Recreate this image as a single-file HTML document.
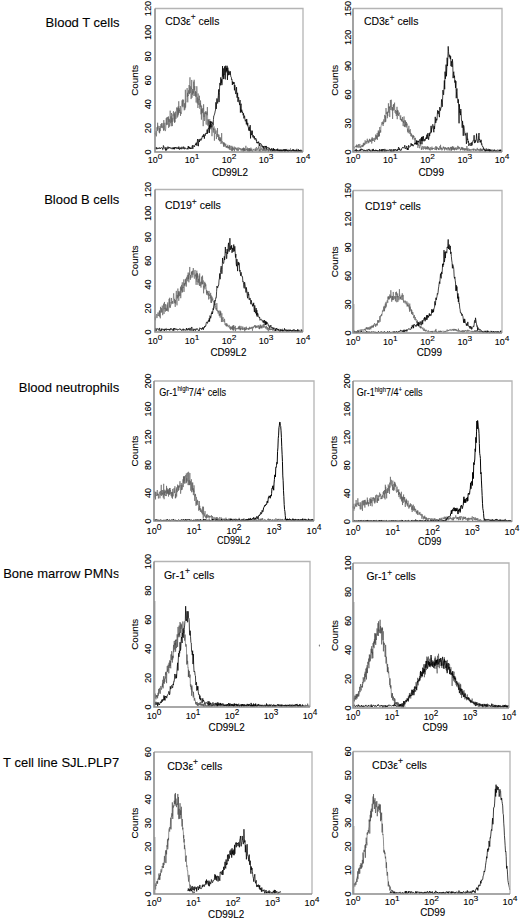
<!DOCTYPE html><html><head><meta charset="utf-8"><style>html,body{margin:0;padding:0;background:#fff;width:520px;height:919px;overflow:hidden}svg{display:block}text{font-family:"Liberation Sans", sans-serif}.t{stroke:#000;stroke-width:0.1px;paint-order:stroke}</style></head><body>
<svg width="520" height="919" viewBox="0 0 520 919">
<rect width="520" height="919" fill="#fff"/>
<defs><clipPath id="lc"><rect x="0" y="0" width="118.5" height="919"/></clipPath></defs>
<g fill="#1a1a1a" font-size="13">
<text x="45.60" y="26.60" font-size="13" text-anchor="start" fill="#000" class="t">Blood T cells</text>
<text x="44.20" y="203.80" font-size="13" text-anchor="start" fill="#000" class="t">Blood B cells</text>
<text x="18.80" y="391.60" font-size="13" text-anchor="start" fill="#000" class="t">Blood neutrophils</text>
<g clip-path="url(#lc)"><text x="3.20" y="577.80" font-size="13" text-anchor="start" fill="#000" class="t">Bone marrow PMNs</text></g>
<text x="3.10" y="766.60" font-size="13" text-anchor="start" fill="#000" class="t">T cell line SJL.PLP7</text>
<ellipse cx="319.4" cy="645.6" rx="0.6" ry="1.1" fill="#777"/>
</g>
<path d="M155.00,134.07 L155.22,133.11 L155.44,135.31 L155.66,133.40 L155.88,131.11 L156.10,133.68 L156.32,136.42 L156.54,135.01 L156.76,129.37 L156.98,127.22 L157.20,129.02 L157.42,130.93 L157.64,122.76 L157.86,129.53 L158.08,125.81 L158.30,127.30 L158.52,127.70 L158.74,128.26 L158.96,130.56 L159.18,132.54 L159.40,128.29 L159.62,133.31 L159.84,126.02 L160.06,129.38 L160.28,131.14 L160.50,128.08 L160.72,124.91 L160.94,124.06 L161.16,125.51 L161.38,127.75 L161.60,123.11 L161.82,125.80 L162.04,125.79 L162.26,128.15 L162.48,126.76 L162.70,127.09 L162.92,123.17 L163.14,124.92 L163.36,128.13 L163.58,130.61 L163.80,120.14 L164.02,130.36 L164.24,129.57 L164.46,127.27 L164.68,125.14 L164.90,122.77 L165.12,129.34 L165.34,131.11 L165.56,130.34 L165.78,128.31 L166.00,124.45 L166.22,118.21 L166.44,122.69 L166.66,125.09 L166.88,117.32 L167.10,123.72 L167.32,123.69 L167.54,124.56 L167.76,116.96 L167.98,118.84 L168.20,119.55 L168.42,116.44 L168.64,127.88 L168.86,118.76 L169.08,121.89 L169.30,119.35 L169.52,126.62 L169.74,125.39 L169.96,122.42 L170.18,110.67 L170.40,119.69 L170.62,122.09 L170.84,123.22 L171.06,116.34 L171.28,126.23 L171.50,113.00 L171.72,115.53 L171.94,121.99 L172.16,118.08 L172.38,126.09 L172.60,118.27 L172.82,114.60 L173.04,115.47 L173.26,112.23 L173.48,111.22 L173.70,119.15 L173.92,118.75 L174.14,121.62 L174.36,112.60 L174.58,122.95 L174.80,114.20 L175.02,122.08 L175.24,113.16 L175.46,111.63 L175.68,115.73 L175.90,118.96 L176.12,114.94 L176.34,111.44 L176.56,107.89 L176.78,107.40 L177.00,115.65 L177.22,117.62 L177.44,112.26 L177.66,107.95 L177.88,116.47 L178.10,106.52 L178.32,108.81 L178.54,114.60 L178.76,101.25 L178.98,112.99 L179.20,108.27 L179.42,111.16 L179.64,110.02 L179.86,111.02 L180.08,113.02 L180.30,105.97 L180.52,115.88 L180.74,112.35 L180.96,112.63 L181.18,113.87 L181.40,111.81 L181.62,111.81 L181.84,107.87 L182.06,100.38 L182.28,106.27 L182.50,102.91 L182.72,99.42 L182.94,107.23 L183.16,102.86 L183.38,100.24 L183.60,99.78 L183.82,105.85 L184.04,105.91 L184.26,110.32 L184.48,103.29 L184.70,108.18 L184.92,109.61 L185.14,107.97 L185.36,89.76 L185.58,107.58 L185.80,102.63 L186.02,102.62 L186.24,101.90 L186.46,101.50 L186.68,100.70 L186.90,96.68 L187.12,88.08 L187.34,97.00 L187.56,92.82 L187.78,102.32 L188.00,94.51 L188.22,95.97 L188.44,90.39 L188.66,91.62 L188.88,93.72 L189.10,85.03 L189.32,94.19 L189.54,91.32 L189.76,84.69 L189.98,77.30 L190.20,93.06 L190.42,88.04 L190.64,86.33 L190.86,87.67 L191.08,99.08 L191.30,88.30 L191.52,88.96 L191.74,79.93 L191.96,97.78 L192.18,93.67 L192.40,94.62 L192.62,88.97 L192.84,94.08 L193.06,91.20 L193.28,92.80 L193.50,88.73 L193.72,81.59 L193.94,96.00 L194.16,79.77 L194.38,89.68 L194.60,90.33 L194.82,86.17 L195.04,95.82 L195.26,91.85 L195.48,91.07 L195.70,96.80 L195.92,91.90 L196.14,102.49 L196.36,97.41 L196.58,93.52 L196.80,86.25 L197.02,90.23 L197.24,103.44 L197.46,98.03 L197.68,97.41 L197.90,107.99 L198.12,93.48 L198.34,97.69 L198.56,98.88 L198.78,104.86 L199.00,99.16 L199.22,100.04 L199.44,95.73 L199.66,107.92 L199.88,108.87 L200.10,103.19 L200.32,106.89 L200.54,100.45 L200.76,104.98 L200.98,114.33 L201.20,108.93 L201.42,119.65 L201.64,105.56 L201.86,112.41 L202.08,109.25 L202.30,113.20 L202.52,111.01 L202.74,108.92 L202.96,107.99 L203.18,126.18 L203.40,112.45 L203.62,104.25 L203.84,110.80 L204.06,117.10 L204.28,112.35 L204.50,120.90 L204.72,119.73 L204.94,115.13 L205.16,114.16 L205.38,112.27 L205.60,113.95 L205.82,111.06 L206.04,122.70 L206.26,124.64 L206.48,113.11 L206.70,113.79 L206.92,111.75 L207.14,115.43 L207.36,107.07 L207.58,115.44 L207.80,125.65 L208.02,119.39 L208.24,124.54 L208.46,119.56 L208.68,128.80 L208.90,123.02 L209.12,121.15 L209.34,132.90 L209.56,122.19 L209.78,119.19 L210.00,125.02 L210.22,124.52 L210.44,129.05 L210.66,122.08 L210.88,128.85 L211.10,129.42 L211.32,124.30 L211.54,127.70 L211.76,124.55 L211.98,136.18 L212.20,125.79 L212.42,127.05 L212.64,125.30 L212.86,128.14 L213.08,129.66 L213.30,132.61 L213.52,128.32 L213.74,130.09 L213.96,126.38 L214.18,128.68 L214.40,140.68 L214.62,135.43 L214.84,129.92 L215.06,128.53 L215.28,130.04 L215.50,133.38 L215.72,133.89 L215.94,131.85 L216.16,130.56 L216.38,139.06 L216.60,136.46 L216.82,134.34 L217.04,135.12 L217.26,134.55 L217.48,128.00 L217.70,137.04 L217.92,134.03 L218.14,134.56 L218.36,135.90 L218.58,139.96 L218.80,135.14 L219.02,134.78 L219.24,140.59 L219.46,141.17 L219.68,137.04 L219.90,141.23 L220.12,139.35 L220.34,141.10 L220.56,137.51 L220.78,142.90 L221.00,144.02 L221.22,142.89 L221.44,142.93 L221.66,133.08 L221.88,142.71 L222.10,142.30 L222.32,142.28 L222.54,141.46 L222.76,143.22 L222.98,144.24 L223.20,143.03 L223.42,142.85 L223.64,146.61 L223.86,142.01 L224.08,146.57 L224.30,145.03 L224.52,143.28 L224.74,144.48 L224.96,143.44 L225.18,146.67 L225.40,146.21 L225.62,144.68 L225.84,143.85 L226.06,146.59 L226.28,147.93 L226.50,146.17 L226.72,147.27 L226.94,146.05 L227.16,146.97 L227.38,146.52 L227.60,147.64 L227.82,144.80 L228.04,148.42 L228.26,147.10 L228.48,148.11 L228.70,147.06 L228.92,148.15 L229.14,146.00 L229.36,149.59 L229.58,145.10 L229.80,146.18 L230.02,148.20 L230.24,150.13 L230.46,148.34 L230.68,147.57 L230.90,145.81 L231.12,147.73 L231.34,148.03 L231.56,150.64 L231.78,149.06 L232.00,145.88 L232.22,151.22 L232.44,147.65 L232.66,146.98 L232.88,150.48 L233.10,148.28 L233.32,147.85 L233.54,148.74 L233.76,149.68 L233.98,149.93 L234.20,146.56 L234.42,151.42 L234.64,149.95 L234.86,148.11 L235.08,147.53 L235.30,147.36 L235.52,148.93 L235.74,147.89 L235.96,147.77 L236.18,149.98 L236.40,149.40 L236.62,148.40 L236.84,149.97 L237.06,150.85 L237.28,147.58 L237.50,148.28 L237.72,150.37 L237.94,150.10 L238.16,149.49 L238.38,150.75 L238.60,147.85 L238.82,147.39 L239.04,148.23 L239.26,149.53 L239.48,148.39 L239.70,148.81 L239.92,148.22 L240.14,148.69 L240.36,148.22 L240.58,149.95 L240.80,150.49 L241.02,148.90 L241.24,149.24 L241.46,148.77 L241.68,150.16 L241.90,149.61 L242.12,151.49 L242.34,148.13 L242.56,149.95 L242.78,150.06 L243.00,149.05 L243.22,150.23 L243.44,147.70 L243.66,151.70 L243.88,147.82 L244.10,150.65 L244.32,148.10 L244.54,150.94 L244.76,149.02 L244.98,149.70 L245.20,149.57 L245.42,150.88 L245.64,149.10 L245.86,145.79 L246.08,148.55 L246.30,149.73 L246.52,148.95 L246.74,150.46 L246.96,150.77 L247.18,149.32 L247.40,147.64 L247.62,151.23 L247.84,150.85 L248.06,149.13 L248.28,151.70 L248.50,149.06 L248.72,148.08 L248.94,149.30 L249.16,150.85 L249.38,148.33 L249.60,151.70 L249.82,148.38 L250.04,150.69 L250.26,150.18 L250.48,149.31 L250.70,150.85 L250.92,147.62 L251.14,151.20 L251.36,149.42 L251.58,148.82 L251.80,150.44 L252.02,150.83 L252.24,150.46 L252.46,151.70 L252.68,150.85 L252.90,151.11 L253.12,148.82 L253.34,149.63 L253.56,150.20 L253.78,149.48 L254.00,149.88 L254.22,150.03 L254.44,150.56 L254.66,149.37 L254.88,149.06 L255.10,148.46 L255.32,148.38 L255.54,150.97 L255.76,149.39 L255.98,150.48 L256.20,147.88 L256.42,147.08 L256.64,148.19 L256.86,150.93 L257.08,150.84 L257.30,149.92 L257.52,148.50 L257.74,149.34 L257.96,149.13 L258.18,149.07 L258.40,146.36 L258.62,148.43 L258.84,149.26 L259.06,151.40 L259.28,149.70 L259.50,151.25 L259.72,149.01 L259.94,149.18 L260.16,144.62 L260.38,150.08 L260.60,150.18 L260.82,151.70 L261.04,148.89 L261.26,149.62 L261.48,148.62 L261.70,148.04 L261.92,148.63 L262.14,149.09 L262.36,151.22 L262.58,149.55 L262.80,148.58 L263.02,149.75 L263.24,149.86 L263.46,148.78 L263.68,151.03 L263.90,147.34 L264.12,149.40 L264.34,150.49 L264.56,148.08 L264.78,150.15 L265.00,151.29 L265.22,150.29 L265.44,147.74 L265.66,148.91 L265.88,151.26 L266.10,150.17 L266.32,149.82 L266.54,150.37 L266.76,150.71 L266.98,149.05 L267.20,149.56 L267.42,150.08 L267.64,149.30 L267.86,149.80 L268.08,151.46 L268.30,148.87 L268.52,151.70 L268.74,151.70 L268.96,148.09 L269.18,149.89 L269.40,150.46 L269.62,149.23 L269.84,149.27 L270.06,149.85 L270.28,150.96 L270.50,149.59 L270.72,151.70 L270.94,150.51 L271.16,150.09 L271.38,151.70 L271.60,150.92 L271.82,150.66 L272.04,149.91 L272.26,151.70 L272.48,151.18 L272.70,150.11 L272.92,148.66 L273.14,150.75 L273.36,149.16 L273.58,148.58 L273.80,150.11 L274.02,150.72 L274.24,151.70 L274.46,150.75 L274.68,151.30 L274.90,149.21 L275.12,150.47 L275.34,150.63 L275.56,151.39 L275.78,150.63 L276.00,151.34 L276.22,150.01 L276.44,150.89 L276.66,150.95 L276.88,149.26 L277.10,150.72 L277.32,150.21 L277.54,148.61 L277.76,151.52 L277.98,150.19 L278.20,149.69 L278.42,150.18 L278.64,150.71 L278.86,151.70 L279.08,150.41 L279.30,151.05 L279.52,151.70 L279.74,151.12 L279.96,151.67 L280.18,150.11 L280.40,151.37 L280.62,150.54 L280.84,151.68 L281.06,149.60 L281.28,149.83 L281.50,151.70 L281.72,150.42 L281.94,150.27 L282.16,150.71 L282.38,149.94 L282.60,151.70 L282.82,149.40 L283.04,150.49 L283.26,150.99 L283.48,150.55 L283.70,149.86 L283.92,149.80 L284.14,151.08 L284.36,149.65 L284.58,151.31 L284.80,149.17 L285.02,150.13 L285.24,150.72 L285.46,149.46 L285.68,151.33 L285.90,150.68 L286.12,149.68 L286.34,149.22 L286.56,149.18 L286.78,150.76 L287.00,149.59 L287.22,149.39 L287.44,150.50 L287.66,151.70 L287.88,151.00 L288.10,151.47 L288.32,150.94 L288.54,151.50 L288.76,149.45 L288.98,150.33 L289.20,151.01 L289.42,150.74 L289.64,150.58 L289.86,150.12 L290.08,150.52 L290.30,150.03 L290.52,148.45 L290.74,149.64 L290.96,151.24 L291.18,151.70 L291.40,151.70 L291.62,150.89 L291.84,151.65 L292.06,151.67 L292.28,150.15 L292.50,149.20 L292.72,150.85 L292.94,149.15 L293.16,150.52 L293.38,151.40 L293.60,149.49 L293.82,150.87 L294.04,151.70 L294.26,151.18 L294.48,151.34 L294.70,151.70 L294.92,151.70 L295.14,151.00 L295.36,151.70 L295.58,150.81 L295.80,150.36 L296.02,151.17 L296.24,150.31 L296.46,150.35 L296.68,150.32 L296.90,148.76 L297.12,150.99 L297.34,149.73 L297.56,150.80 L297.78,151.70 L298.00,150.43 L298.22,150.41 L298.44,151.70 L298.66,151.43 L298.88,151.70 L299.10,150.60 L299.32,151.62 L299.54,150.31 L299.76,150.32 L299.98,151.49 L300.20,150.40 L300.42,151.65 L300.64,151.70 L300.86,149.43 L301.08,150.28 L301.30,151.70 L301.52,150.84 L301.74,151.70 L301.96,150.07 L302.18,151.28 L302.40,150.85 L302.62,151.12 L302.84,151.29" fill="none" stroke="#5a5a5a" stroke-width="0.6" stroke-linejoin="round"/>
<path d="M155.00,148.65 L155.35,149.14 L155.70,148.64 L156.05,146.97 L156.40,149.22 L156.75,148.76 L157.10,147.75 L157.45,148.89 L157.80,148.67 L158.15,148.60 L158.50,148.33 L158.85,148.86 L159.20,147.55 L159.55,148.13 L159.90,147.81 L160.25,148.91 L160.60,148.34 L160.95,148.00 L161.30,147.50 L161.65,148.04 L162.00,148.31 L162.35,148.02 L162.70,149.62 L163.05,149.33 L163.40,145.53 L163.75,146.37 L164.10,148.12 L164.45,147.87 L164.80,148.52 L165.15,148.52 L165.50,150.46 L165.85,147.17 L166.20,147.91 L166.55,150.38 L166.90,148.96 L167.25,148.98 L167.60,147.78 L167.95,146.62 L168.30,148.47 L168.65,148.41 L169.00,147.05 L169.35,147.60 L169.70,148.23 L170.05,147.34 L170.40,148.20 L170.75,148.40 L171.10,148.34 L171.45,147.78 L171.80,148.91 L172.15,149.21 L172.50,148.63 L172.85,147.47 L173.20,149.05 L173.55,147.79 L173.90,149.20 L174.25,147.21 L174.60,149.23 L174.95,148.28 L175.30,147.03 L175.65,147.98 L176.00,148.36 L176.35,148.58 L176.70,147.30 L177.05,147.17 L177.40,148.50 L177.75,147.82 L178.10,148.54 L178.45,149.07 L178.80,146.62 L179.15,148.56 L179.50,149.55 L179.85,148.00 L180.20,147.47 L180.55,149.07 L180.90,148.56 L181.25,149.21 L181.60,147.95 L181.95,146.79 L182.30,148.19 L182.65,147.85 L183.00,149.09 L183.35,148.50 L183.70,146.64 L184.05,147.08 L184.40,149.20 L184.75,148.99 L185.10,147.65 L185.45,148.30 L185.80,148.75 L186.15,148.78 L186.50,149.19 L186.85,148.56 L187.20,148.20 L187.55,148.04 L187.90,149.38 L188.25,146.00 L188.60,148.16 L188.95,148.33 L189.30,146.84 L189.65,148.63 L190.00,147.57 L190.35,149.01 L190.70,147.81 L191.05,148.48 L191.40,148.92 L191.75,147.83 L192.10,146.22 L192.45,145.28 L192.80,148.93 L193.15,146.54 L193.50,145.62 L193.85,146.37 L194.20,145.66 L194.55,146.71 L194.90,145.35 L195.25,145.02 L195.60,143.71 L195.95,145.06 L196.30,142.62 L196.65,144.77 L197.00,145.75 L197.35,140.84 L197.70,139.00 L198.05,143.42 L198.40,146.16 L198.75,140.13 L199.10,139.34 L199.45,142.03 L199.80,139.27 L200.15,139.48 L200.50,139.39 L200.85,140.58 L201.20,138.54 L201.55,139.39 L201.90,138.16 L202.25,136.51 L202.60,137.09 L202.95,135.48 L203.30,136.93 L203.65,134.30 L204.00,133.94 L204.35,138.67 L204.70,135.22 L205.05,134.80 L205.40,135.54 L205.75,133.12 L206.10,133.06 L206.45,134.02 L206.80,133.25 L207.15,129.59 L207.50,133.58 L207.85,129.91 L208.20,128.35 L208.55,128.18 L208.90,128.75 L209.25,132.83 L209.60,125.26 L209.95,127.70 L210.30,121.11 L210.65,125.67 L211.00,127.18 L211.35,123.41 L211.70,121.53 L212.05,123.02 L212.40,123.49 L212.75,122.60 L213.10,125.44 L213.45,119.45 L213.80,115.79 L214.15,115.58 L214.50,114.11 L214.85,113.04 L215.20,110.97 L215.55,110.00 L215.90,102.29 L216.25,108.91 L216.60,102.41 L216.95,98.43 L217.30,102.87 L217.65,103.45 L218.00,98.59 L218.35,95.46 L218.70,89.39 L219.05,102.12 L219.40,92.67 L219.75,83.11 L220.10,83.13 L220.45,85.34 L220.80,77.39 L221.15,83.19 L221.50,79.35 L221.85,85.16 L222.20,82.85 L222.55,66.02 L222.90,76.60 L223.25,68.33 L223.60,79.09 L223.95,73.93 L224.30,74.56 L224.65,66.42 L225.00,78.63 L225.35,79.33 L225.70,65.72 L226.05,72.36 L226.40,67.94 L226.75,71.06 L227.10,65.79 L227.45,79.91 L227.80,67.67 L228.15,71.08 L228.50,75.17 L228.85,70.78 L229.20,73.24 L229.55,72.50 L229.90,75.03 L230.25,71.24 L230.60,75.09 L230.95,76.85 L231.30,77.25 L231.65,79.93 L232.00,79.54 L232.35,84.95 L232.70,81.57 L233.05,83.42 L233.40,82.36 L233.75,84.00 L234.10,82.15 L234.45,90.30 L234.80,84.86 L235.15,87.50 L235.50,92.85 L235.85,94.08 L236.20,92.11 L236.55,87.13 L236.90,97.33 L237.25,97.81 L237.60,92.79 L237.95,101.79 L238.30,97.59 L238.65,97.20 L239.00,102.58 L239.35,102.71 L239.70,105.10 L240.05,100.06 L240.40,112.62 L240.75,105.66 L241.10,103.71 L241.45,111.79 L241.80,109.72 L242.15,112.87 L242.50,111.73 L242.85,113.51 L243.20,115.35 L243.55,113.27 L243.90,118.42 L244.25,115.94 L244.60,115.71 L244.95,119.34 L245.30,121.27 L245.65,120.29 L246.00,119.48 L246.35,124.40 L246.70,118.98 L247.05,121.86 L247.40,125.55 L247.75,122.88 L248.10,127.16 L248.45,127.63 L248.80,130.56 L249.15,126.80 L249.50,128.11 L249.85,130.97 L250.20,125.15 L250.55,138.42 L250.90,130.44 L251.25,131.00 L251.60,135.08 L251.95,133.73 L252.30,130.68 L252.65,136.31 L253.00,137.36 L253.35,135.33 L253.70,136.28 L254.05,138.37 L254.40,136.33 L254.75,139.45 L255.10,139.61 L255.45,138.66 L255.80,138.00 L256.15,140.46 L256.50,139.72 L256.85,143.10 L257.20,141.96 L257.55,143.25 L257.90,142.49 L258.25,142.95 L258.60,141.61 L258.95,144.10 L259.30,146.03 L259.65,143.17 L260.00,143.04 L260.35,143.95 L260.70,143.77 L261.05,143.74 L261.40,145.17 L261.75,144.87 L262.10,147.41 L262.45,145.80 L262.80,146.48 L263.15,147.51 L263.50,146.24 L263.85,148.54 L264.20,146.30 L264.55,146.25 L264.90,146.88 L265.25,147.29 L265.60,145.98 L265.95,147.61 L266.30,145.96 L266.65,149.37 L267.00,147.91 L267.35,147.45 L267.70,147.30 L268.05,147.96 L268.40,148.24 L268.75,147.55 L269.10,147.81 L269.45,148.64 L269.80,148.44 L270.15,149.92 L270.50,150.20 L270.85,149.30 L271.20,149.82 L271.55,148.36 L271.90,150.17 L272.25,149.72 L272.60,150.26 L272.95,151.23 L273.30,148.19 L273.65,150.23 L274.00,149.17 L274.35,150.51 L274.70,149.03 L275.05,149.68 L275.40,150.24 L275.75,150.57 L276.10,150.16 L276.45,149.50 L276.80,149.70 L277.15,150.82 L277.50,150.15 L277.85,148.87 L278.20,150.82 L278.55,150.50 L278.90,150.86 L279.25,149.95 L279.60,150.85 L279.95,149.43 L280.30,150.67 L280.65,149.89 L281.00,150.77 L281.35,151.03 L281.70,149.74 L282.05,150.26 L282.40,150.34 L282.75,151.21 L283.10,150.86 L283.45,149.45 L283.80,150.70 L284.15,150.92 L284.50,151.70 L284.85,149.17 L285.20,150.02 L285.55,151.39 L285.90,149.45 L286.25,149.57 L286.60,150.83 L286.95,151.20 L287.30,150.00 L287.65,150.87 L288.00,150.58 L288.35,151.59 L288.70,150.52 L289.05,151.23 L289.40,149.91 L289.75,150.43 L290.10,150.50 L290.45,151.38 L290.80,151.00 L291.15,150.08 L291.50,151.09 L291.85,151.16 L292.20,150.56 L292.55,150.47 L292.90,150.53 L293.25,149.52 L293.60,150.82 L293.95,150.86 L294.30,150.12 L294.65,151.22 L295.00,149.81 L295.35,150.38 L295.70,150.44 L296.05,151.70 L296.40,149.72 L296.75,151.16 L297.10,151.42 L297.45,151.06 L297.80,151.60 L298.15,150.18 L298.50,149.37 L298.85,151.36 L299.20,150.10 L299.55,150.67 L299.90,150.14 L300.25,151.58 L300.60,151.47 L300.95,150.47 L301.30,151.52 L301.65,151.03 L302.00,150.88 L302.35,151.01 L302.70,150.86" fill="none" stroke="#000" stroke-width="0.75" stroke-linejoin="round"/>
<path d="M155,8.5 H303 V152" fill="none" stroke="#b4b4b4" stroke-width="1.3"/>
<path d="M155,8.5 V152 H303" fill="none" stroke="#8c8c8c" stroke-width="1.6"/>
<text x="151.00" y="152.00" font-size="9.2" text-anchor="middle" fill="#000" transform="rotate(-90 151.00 152.00)" class="t">0</text>
<text x="151.00" y="128.08" font-size="9.2" text-anchor="middle" fill="#000" transform="rotate(-90 151.00 128.08)" class="t">20</text>
<text x="151.00" y="104.17" font-size="9.2" text-anchor="middle" fill="#000" transform="rotate(-90 151.00 104.17)" class="t">40</text>
<text x="151.00" y="80.25" font-size="9.2" text-anchor="middle" fill="#000" transform="rotate(-90 151.00 80.25)" class="t">60</text>
<text x="151.00" y="56.33" font-size="9.2" text-anchor="middle" fill="#000" transform="rotate(-90 151.00 56.33)" class="t">80</text>
<text x="151.00" y="32.42" font-size="9.2" text-anchor="middle" fill="#000" transform="rotate(-90 151.00 32.42)" class="t">100</text>
<text x="151.00" y="8.50" font-size="9.2" text-anchor="middle" fill="#000" transform="rotate(-90 151.00 8.50)" class="t">120</text>
<text x="138.20" y="80.25" font-size="9.8" text-anchor="middle" fill="#000" transform="rotate(-90 138.20 80.25)" class="t">Counts</text>
<text x="155.00" y="163.40" font-size="8.2" text-anchor="middle" textLength="14.60" lengthAdjust="spacingAndGlyphs" fill="#000" class="t">10<tspan font-size="7.6" dy="-4.0">0</tspan></text>
<text x="192.00" y="163.40" font-size="8.2" text-anchor="middle" textLength="14.60" lengthAdjust="spacingAndGlyphs" fill="#000" class="t">10<tspan font-size="7.6" dy="-4.0">1</tspan></text>
<text x="229.00" y="163.40" font-size="8.2" text-anchor="middle" textLength="14.60" lengthAdjust="spacingAndGlyphs" fill="#000" class="t">10<tspan font-size="7.6" dy="-4.0">2</tspan></text>
<text x="266.00" y="163.40" font-size="8.2" text-anchor="middle" textLength="14.60" lengthAdjust="spacingAndGlyphs" fill="#000" class="t">10<tspan font-size="7.6" dy="-4.0">3</tspan></text>
<text x="303.00" y="163.40" font-size="8.2" text-anchor="middle" textLength="14.60" lengthAdjust="spacingAndGlyphs" fill="#000" class="t">10<tspan font-size="7.6" dy="-4.0">4</tspan></text>
<text x="211.90" y="176.20" font-size="10" textLength="36.10" lengthAdjust="spacingAndGlyphs" fill="#000" class="t">CD99L2</text>
<text x="165.20" y="24.60" font-size="10.4" textLength="54.20" lengthAdjust="spacingAndGlyphs" fill="#000" class="t">CD3ε<tspan font-size="8.4" dy="-4.4">+</tspan><tspan dy="4.4"> cells</tspan></text>
<path d="M353.00,146.13 L353.22,146.56 L353.44,146.47 L353.66,147.71 L353.88,147.05 L354.10,147.47 L354.32,148.31 L354.54,148.30 L354.76,147.79 L354.98,146.61 L355.20,146.19 L355.42,146.08 L355.64,146.63 L355.86,146.96 L356.08,145.76 L356.30,145.52 L356.52,147.30 L356.74,144.52 L356.96,146.62 L357.18,147.36 L357.40,145.51 L357.62,145.30 L357.84,145.72 L358.06,147.51 L358.28,146.46 L358.50,144.16 L358.72,146.01 L358.94,147.86 L359.16,147.79 L359.38,147.29 L359.60,146.10 L359.82,143.93 L360.04,146.57 L360.26,146.08 L360.48,146.38 L360.70,148.31 L360.92,146.45 L361.14,146.54 L361.36,146.94 L361.58,145.72 L361.80,145.10 L362.02,144.92 L362.24,146.90 L362.46,146.43 L362.68,144.90 L362.90,147.09 L363.12,145.56 L363.34,143.17 L363.56,145.86 L363.78,144.59 L364.00,142.63 L364.22,145.25 L364.44,143.77 L364.66,143.52 L364.88,144.89 L365.10,140.32 L365.32,141.58 L365.54,142.77 L365.76,143.70 L365.98,142.04 L366.20,141.32 L366.42,141.06 L366.64,142.48 L366.86,143.69 L367.08,139.95 L367.30,138.74 L367.52,141.69 L367.74,141.44 L367.96,140.43 L368.18,142.98 L368.40,143.23 L368.62,140.73 L368.84,141.02 L369.06,142.55 L369.28,140.68 L369.50,138.83 L369.72,141.14 L369.94,139.53 L370.16,141.66 L370.38,140.05 L370.60,140.53 L370.82,141.74 L371.04,140.45 L371.26,139.39 L371.48,138.58 L371.70,143.56 L371.92,142.29 L372.14,137.21 L372.36,137.92 L372.58,140.90 L372.80,138.50 L373.02,139.52 L373.24,140.93 L373.46,139.45 L373.68,138.79 L373.90,137.96 L374.12,138.58 L374.34,139.38 L374.56,141.95 L374.78,140.47 L375.00,137.75 L375.22,139.87 L375.44,138.06 L375.66,134.56 L375.88,137.19 L376.10,139.25 L376.32,135.62 L376.54,138.59 L376.76,135.60 L376.98,135.98 L377.20,132.95 L377.42,139.86 L377.64,135.91 L377.86,136.83 L378.08,133.14 L378.30,130.43 L378.52,136.32 L378.74,131.44 L378.96,136.72 L379.18,132.01 L379.40,136.02 L379.62,129.93 L379.84,126.99 L380.06,132.72 L380.28,130.42 L380.50,130.18 L380.72,132.44 L380.94,127.00 L381.16,125.40 L381.38,125.19 L381.60,123.25 L381.82,122.32 L382.04,123.16 L382.26,123.43 L382.48,124.30 L382.70,121.61 L382.92,124.05 L383.14,126.03 L383.36,122.64 L383.58,123.92 L383.80,119.40 L384.02,122.36 L384.24,122.28 L384.46,118.28 L384.68,114.90 L384.90,118.38 L385.12,118.28 L385.34,122.15 L385.56,115.71 L385.78,121.61 L386.00,108.03 L386.22,114.16 L386.44,112.99 L386.66,112.82 L386.88,111.85 L387.10,113.03 L387.32,118.28 L387.54,111.98 L387.76,116.17 L387.98,111.56 L388.20,111.96 L388.42,103.27 L388.64,111.33 L388.86,112.83 L389.08,106.61 L389.30,108.14 L389.52,107.07 L389.74,117.09 L389.96,106.24 L390.18,107.00 L390.40,100.02 L390.62,103.88 L390.84,110.02 L391.06,104.86 L391.28,99.72 L391.50,108.26 L391.72,109.61 L391.94,110.17 L392.16,110.52 L392.38,107.14 L392.60,118.94 L392.82,107.32 L393.04,110.77 L393.26,104.85 L393.48,107.11 L393.70,103.99 L393.92,110.04 L394.14,107.97 L394.36,105.97 L394.58,102.63 L394.80,111.58 L395.02,112.67 L395.24,112.92 L395.46,109.97 L395.68,112.86 L395.90,113.83 L396.12,112.70 L396.34,116.06 L396.56,110.91 L396.78,112.39 L397.00,106.83 L397.22,119.18 L397.44,109.92 L397.66,113.75 L397.88,115.01 L398.10,110.47 L398.32,113.27 L398.54,115.94 L398.76,113.65 L398.98,113.25 L399.20,113.52 L399.42,112.58 L399.64,114.67 L399.86,116.74 L400.08,117.38 L400.30,119.77 L400.52,116.81 L400.74,115.40 L400.96,120.02 L401.18,118.83 L401.40,121.21 L401.62,119.04 L401.84,120.47 L402.06,120.39 L402.28,121.77 L402.50,116.97 L402.72,119.96 L402.94,121.17 L403.16,126.09 L403.38,121.14 L403.60,123.06 L403.82,121.55 L404.04,116.45 L404.26,126.40 L404.48,125.11 L404.70,127.09 L404.92,120.06 L405.14,125.07 L405.36,125.14 L405.58,120.67 L405.80,126.67 L406.02,124.10 L406.24,127.47 L406.46,122.02 L406.68,124.51 L406.90,125.36 L407.12,123.59 L407.34,128.13 L407.56,131.76 L407.78,128.67 L408.00,130.71 L408.22,133.20 L408.44,131.23 L408.66,129.28 L408.88,125.82 L409.10,131.81 L409.32,130.52 L409.54,130.59 L409.76,133.80 L409.98,133.73 L410.20,129.12 L410.42,133.74 L410.64,132.80 L410.86,135.87 L411.08,134.24 L411.30,136.73 L411.52,133.57 L411.74,134.53 L411.96,134.60 L412.18,135.75 L412.40,136.00 L412.62,139.36 L412.84,135.20 L413.06,137.76 L413.28,135.58 L413.50,135.41 L413.72,137.46 L413.94,136.04 L414.16,139.65 L414.38,138.27 L414.60,139.00 L414.82,141.17 L415.04,143.50 L415.26,140.04 L415.48,137.85 L415.70,140.93 L415.92,141.90 L416.14,144.11 L416.36,142.35 L416.58,141.19 L416.80,144.39 L417.02,144.85 L417.24,142.99 L417.46,143.96 L417.68,144.27 L417.90,147.92 L418.12,143.19 L418.34,143.68 L418.56,144.36 L418.78,145.77 L419.00,144.48 L419.22,145.85 L419.44,146.59 L419.66,148.27 L419.88,145.48 L420.10,145.46 L420.32,145.60 L420.54,143.74 L420.76,144.79 L420.98,146.66 L421.20,146.76 L421.42,149.97 L421.64,148.30 L421.86,147.77 L422.08,148.71 L422.30,146.12 L422.52,146.29 L422.74,146.13 L422.96,146.93 L423.18,149.82 L423.40,146.94 L423.62,146.55 L423.84,147.44 L424.06,148.45 L424.28,148.09 L424.50,148.59 L424.72,146.25 L424.94,146.72 L425.16,147.52 L425.38,147.96 L425.60,149.47 L425.82,146.55 L426.04,148.77 L426.26,147.85 L426.48,148.83 L426.70,147.47 L426.92,146.70 L427.14,149.55 L427.36,148.59 L427.58,146.17 L427.80,149.05 L428.02,147.20 L428.24,148.19 L428.46,148.29 L428.68,146.84 L428.90,149.52 L429.12,147.75 L429.34,150.09 L429.56,148.85 L429.78,148.88 L430.00,148.62 L430.22,150.47 L430.44,147.23 L430.66,147.49 L430.88,147.63 L431.10,149.60 L431.32,149.49 L431.54,148.45 L431.76,148.65 L431.98,146.58 L432.20,149.98 L432.42,148.13 L432.64,148.51 L432.86,148.05 L433.08,149.09 L433.30,148.15 L433.52,148.52 L433.74,148.49 L433.96,147.85 L434.18,147.74 L434.40,148.83 L434.62,148.83 L434.84,149.21 L435.06,149.99 L435.28,147.09 L435.50,146.44 L435.72,147.99 L435.94,149.81 L436.16,148.39 L436.38,146.48 L436.60,150.16 L436.82,148.99 L437.04,146.84 L437.26,147.56 L437.48,148.56 L437.70,147.86 L437.92,148.32 L438.14,149.03 L438.36,148.48 L438.58,149.97 L438.80,148.27 L439.02,150.08 L439.24,147.86 L439.46,147.24 L439.68,146.24 L439.90,147.56 L440.12,148.59 L440.34,149.52 L440.56,144.82 L440.78,148.45 L441.00,147.45 L441.22,149.25 L441.44,147.94 L441.66,148.82 L441.88,150.42 L442.10,148.61 L442.32,148.31 L442.54,149.54 L442.76,148.81 L442.98,148.28 L443.20,146.77 L443.42,148.11 L443.64,146.71 L443.86,148.71 L444.08,149.10 L444.30,148.55 L444.52,150.46 L444.74,147.27 L444.96,148.92 L445.18,148.53 L445.40,147.23 L445.62,149.02 L445.84,149.37 L446.06,149.68 L446.28,148.31 L446.50,149.16 L446.72,147.78 L446.94,150.07 L447.16,150.40 L447.38,148.66 L447.60,148.73 L447.82,147.36 L448.04,148.52 L448.26,148.10 L448.48,148.74 L448.70,147.00 L448.92,150.39 L449.14,148.70 L449.36,149.66 L449.58,149.03 L449.80,148.20 L450.02,150.56 L450.24,149.70 L450.46,146.92 L450.68,148.48 L450.90,148.26 L451.12,147.65 L451.34,150.81 L451.56,147.20 L451.78,150.13 L452.00,146.67 L452.22,149.97 L452.44,147.94 L452.66,146.11 L452.88,148.80 L453.10,149.02 L453.32,147.54 L453.54,149.67 L453.76,146.72 L453.98,149.72 L454.20,149.14 L454.42,150.43 L454.64,148.09 L454.86,149.46 L455.08,147.90 L455.30,149.40 L455.52,148.79 L455.74,149.38 L455.96,147.16 L456.18,149.05 L456.40,148.92 L456.62,150.13 L456.84,148.16 L457.06,148.33 L457.28,149.21 L457.50,149.09 L457.72,145.83 L457.94,148.22 L458.16,149.44 L458.38,148.14 L458.60,146.54 L458.82,148.15 L459.04,148.49 L459.26,147.49 L459.48,148.61 L459.70,147.35 L459.92,148.32 L460.14,148.62 L460.36,150.44 L460.58,148.94 L460.80,149.93 L461.02,148.84 L461.24,147.43 L461.46,147.44 L461.68,149.49 L461.90,147.02 L462.12,147.06 L462.34,149.67 L462.56,147.91 L462.78,147.59 L463.00,150.49 L463.22,147.92 L463.44,149.46 L463.66,148.83 L463.88,149.02 L464.10,148.95 L464.32,149.94 L464.54,150.43 L464.76,148.03 L464.98,150.51 L465.20,148.80 L465.42,148.86 L465.64,149.73 L465.86,148.54 L466.08,148.19 L466.30,150.60 L466.52,148.58 L466.74,147.11 L466.96,146.00 L467.18,149.52 L467.40,149.09 L467.62,150.91 L467.84,148.16 L468.06,148.14 L468.28,149.35 L468.50,150.60 L468.72,150.69 L468.94,149.42 L469.16,148.81 L469.38,149.56 L469.60,150.86 L469.82,149.39 L470.04,149.07 L470.26,149.91 L470.48,149.69 L470.70,149.62 L470.92,151.44 L471.14,150.15 L471.36,149.65 L471.58,149.24 L471.80,149.32 L472.02,150.03 L472.24,150.24 L472.46,149.01 L472.68,149.12 L472.90,149.35 L473.12,148.76 L473.34,150.61 L473.56,148.81 L473.78,149.77 L474.00,150.53 L474.22,148.76 L474.44,148.88 L474.66,149.53 L474.88,150.12 L475.10,149.84 L475.32,149.73 L475.54,150.81 L475.76,149.18 L475.98,149.10 L476.20,150.29 L476.42,149.82 L476.64,150.56 L476.86,150.69 L477.08,148.76 L477.30,147.89 L477.52,150.24 L477.74,149.72 L477.96,150.01 L478.18,148.97 L478.40,150.48 L478.62,149.58 L478.84,150.28 L479.06,150.60 L479.28,149.90 L479.50,149.73 L479.72,149.22 L479.94,151.70 L480.16,148.64 L480.38,150.45 L480.60,148.54 L480.82,149.14 L481.04,151.08 L481.26,149.23 L481.48,150.79 L481.70,149.55 L481.92,150.65 L482.14,148.67 L482.36,148.92 L482.58,151.16 L482.80,150.20 L483.02,149.03 L483.24,149.51 L483.46,147.54 L483.68,149.65 L483.90,148.80 L484.12,149.11 L484.34,151.22 L484.56,149.48 L484.78,149.42 L485.00,149.02 L485.22,150.53 L485.44,150.44 L485.66,149.26 L485.88,148.58 L486.10,149.81 L486.32,150.10 L486.54,148.33 L486.76,150.96 L486.98,149.24 L487.20,150.10 L487.42,149.37 L487.64,149.39 L487.86,150.81 L488.08,150.12 L488.30,148.78 L488.52,150.34 L488.74,150.74 L488.96,149.92 L489.18,150.96 L489.40,149.31 L489.62,150.87 L489.84,150.27 L490.06,150.24 L490.28,151.23 L490.50,150.69 L490.72,149.86 L490.94,150.54 L491.16,149.58 L491.38,150.56 L491.60,151.22 L491.82,151.14 L492.04,149.59 L492.26,149.98 L492.48,150.70 L492.70,150.66 L492.92,149.59 L493.14,150.37 L493.36,150.52 L493.58,151.44 L493.80,150.41 L494.02,150.16 L494.24,149.37 L494.46,149.14 L494.68,150.98 L494.90,150.31 L495.12,149.90 L495.34,151.04 L495.56,150.65 L495.78,150.19 L496.00,150.85 L496.22,149.97 L496.44,150.87 L496.66,150.61 L496.88,149.98 L497.10,150.02 L497.32,149.76 L497.54,151.04 L497.76,150.24 L497.98,149.56 L498.20,150.92 L498.42,150.74 L498.64,150.38 L498.86,150.55 L499.08,150.10 L499.30,149.94 L499.52,151.06 L499.74,149.54 L499.96,149.24 L500.18,149.40 L500.40,151.08 L500.62,149.61 L500.84,150.22 L501.06,149.89 L501.28,149.67 L501.50,150.32 L501.72,150.35 L501.94,151.70" fill="none" stroke="#5a5a5a" stroke-width="0.6" stroke-linejoin="round"/>
<path d="M353.00,150.53 L353.35,151.70 L353.70,151.60 L354.05,150.04 L354.40,150.23 L354.75,150.03 L355.10,151.01 L355.45,150.45 L355.80,151.17 L356.15,148.85 L356.50,151.70 L356.85,150.41 L357.20,151.11 L357.55,150.38 L357.90,150.16 L358.25,150.91 L358.60,151.24 L358.95,150.32 L359.30,150.36 L359.65,151.11 L360.00,149.72 L360.35,149.15 L360.70,150.85 L361.05,149.90 L361.40,148.78 L361.75,149.77 L362.10,150.08 L362.45,149.43 L362.80,149.17 L363.15,150.53 L363.50,151.30 L363.85,150.29 L364.20,149.84 L364.55,150.84 L364.90,151.14 L365.25,150.23 L365.60,150.99 L365.95,151.43 L366.30,150.31 L366.65,149.77 L367.00,150.81 L367.35,150.72 L367.70,151.48 L368.05,149.35 L368.40,149.91 L368.75,149.75 L369.10,148.95 L369.45,150.61 L369.80,150.97 L370.15,149.84 L370.50,151.70 L370.85,151.23 L371.20,151.06 L371.55,150.86 L371.90,151.35 L372.25,149.31 L372.60,151.05 L372.95,151.04 L373.30,148.92 L373.65,150.81 L374.00,150.28 L374.35,151.20 L374.70,150.11 L375.05,150.48 L375.40,150.81 L375.75,149.72 L376.10,151.04 L376.45,150.41 L376.80,150.94 L377.15,150.03 L377.50,151.47 L377.85,151.04 L378.20,150.34 L378.55,151.07 L378.90,151.63 L379.25,151.70 L379.60,149.09 L379.95,151.29 L380.30,150.92 L380.65,150.42 L381.00,149.60 L381.35,151.62 L381.70,149.37 L382.05,151.01 L382.40,151.66 L382.75,149.07 L383.10,150.23 L383.45,149.33 L383.80,150.72 L384.15,151.70 L384.50,151.70 L384.85,148.91 L385.20,149.99 L385.55,151.13 L385.90,151.70 L386.25,150.88 L386.60,149.83 L386.95,150.77 L387.30,150.49 L387.65,150.32 L388.00,149.84 L388.35,150.85 L388.70,150.78 L389.05,150.42 L389.40,150.30 L389.75,149.35 L390.10,150.07 L390.45,151.58 L390.80,150.33 L391.15,149.21 L391.50,151.69 L391.85,150.97 L392.20,151.70 L392.55,150.55 L392.90,150.07 L393.25,149.13 L393.60,151.60 L393.95,151.70 L394.30,149.47 L394.65,149.55 L395.00,150.69 L395.35,149.22 L395.70,149.70 L396.05,149.55 L396.40,150.03 L396.75,150.91 L397.10,149.72 L397.45,150.62 L397.80,149.10 L398.15,149.85 L398.50,147.05 L398.85,147.73 L399.20,150.19 L399.55,148.54 L399.90,149.82 L400.25,149.72 L400.60,150.58 L400.95,149.91 L401.30,150.10 L401.65,148.67 L402.00,147.87 L402.35,147.73 L402.70,147.92 L403.05,146.97 L403.40,147.59 L403.75,148.06 L404.10,148.40 L404.45,147.49 L404.80,145.20 L405.15,147.62 L405.50,147.92 L405.85,149.02 L406.20,148.20 L406.55,146.31 L406.90,146.07 L407.25,150.00 L407.60,148.04 L407.95,149.56 L408.30,149.93 L408.65,145.28 L409.00,147.04 L409.35,147.04 L409.70,147.09 L410.05,146.95 L410.40,146.29 L410.75,146.13 L411.10,143.25 L411.45,145.32 L411.80,144.18 L412.15,145.48 L412.50,144.28 L412.85,146.00 L413.20,146.19 L413.55,145.11 L413.90,144.95 L414.25,144.37 L414.60,143.20 L414.95,143.54 L415.30,142.73 L415.65,144.23 L416.00,143.34 L416.35,144.26 L416.70,140.35 L417.05,144.54 L417.40,141.08 L417.75,140.97 L418.10,141.89 L418.45,140.99 L418.80,142.60 L419.15,140.66 L419.50,139.47 L419.85,139.77 L420.20,144.14 L420.55,141.26 L420.90,138.43 L421.25,140.75 L421.60,137.10 L421.95,144.27 L422.30,136.68 L422.65,140.96 L423.00,140.90 L423.35,136.12 L423.70,139.93 L424.05,141.34 L424.40,139.90 L424.75,139.21 L425.10,140.64 L425.45,138.55 L425.80,138.75 L426.15,137.37 L426.50,138.94 L426.85,134.68 L427.20,138.68 L427.55,135.03 L427.90,133.15 L428.25,136.56 L428.60,139.72 L428.95,137.45 L429.30,133.14 L429.65,136.07 L430.00,132.57 L430.35,133.10 L430.70,133.26 L431.05,125.86 L431.40,132.35 L431.75,128.07 L432.10,128.32 L432.45,125.23 L432.80,124.33 L433.15,125.35 L433.50,130.22 L433.85,132.26 L434.20,126.10 L434.55,129.00 L434.90,123.56 L435.25,116.87 L435.60,122.89 L435.95,122.89 L436.30,118.70 L436.65,120.29 L437.00,120.26 L437.35,113.79 L437.70,110.28 L438.05,113.93 L438.40,112.77 L438.75,110.99 L439.10,115.24 L439.45,117.16 L439.80,107.07 L440.15,110.59 L440.50,110.41 L440.85,108.00 L441.20,107.78 L441.55,99.40 L441.90,102.63 L442.25,106.79 L442.60,99.09 L442.95,90.08 L443.30,93.86 L443.65,94.81 L444.00,87.83 L444.35,80.46 L444.70,89.26 L445.05,71.66 L445.40,78.87 L445.75,73.65 L446.10,64.62 L446.45,76.25 L446.80,68.95 L447.15,57.69 L447.50,66.06 L447.85,57.62 L448.20,46.36 L448.55,51.72 L448.90,55.86 L449.25,57.33 L449.60,54.77 L449.95,55.17 L450.30,59.14 L450.65,56.24 L451.00,66.14 L451.35,61.25 L451.70,63.74 L452.05,66.97 L452.40,59.31 L452.75,63.27 L453.10,78.15 L453.45,73.12 L453.80,71.71 L454.15,77.65 L454.50,75.76 L454.85,82.59 L455.20,80.28 L455.55,87.91 L455.90,81.14 L456.25,98.22 L456.60,91.39 L456.95,88.48 L457.30,97.10 L457.65,98.56 L458.00,103.05 L458.35,99.33 L458.70,107.94 L459.05,123.30 L459.40,104.22 L459.75,112.54 L460.10,111.53 L460.45,115.14 L460.80,109.00 L461.15,113.16 L461.50,120.68 L461.85,120.35 L462.20,127.72 L462.55,121.06 L462.90,125.51 L463.25,135.81 L463.60,125.27 L463.95,126.26 L464.30,130.28 L464.65,131.59 L465.00,135.41 L465.35,134.63 L465.70,133.38 L466.05,136.89 L466.40,143.83 L466.75,141.29 L467.10,132.72 L467.45,139.72 L467.80,138.82 L468.15,142.54 L468.50,141.21 L468.85,145.91 L469.20,144.14 L469.55,144.37 L469.90,143.29 L470.25,143.17 L470.60,144.14 L470.95,146.00 L471.30,144.41 L471.65,142.44 L472.00,145.37 L472.35,142.96 L472.70,142.14 L473.05,140.40 L473.40,140.57 L473.75,140.13 L474.10,135.23 L474.45,143.12 L474.80,141.89 L475.15,139.91 L475.50,142.46 L475.85,140.85 L476.20,140.45 L476.55,133.64 L476.90,138.56 L477.25,140.15 L477.60,142.52 L477.95,142.93 L478.30,141.81 L478.65,135.50 L479.00,133.03 L479.35,139.97 L479.70,139.36 L480.05,142.30 L480.40,140.76 L480.75,142.36 L481.10,139.81 L481.45,144.46 L481.80,143.58 L482.15,145.70 L482.50,146.55 L482.85,146.32 L483.20,147.66 L483.55,147.88 L483.90,149.55 L484.25,149.83 L484.60,149.20 L484.95,149.44 L485.30,151.70 L485.65,150.10 L486.00,151.20 L486.35,150.69 L486.70,149.87 L487.05,149.78 L487.40,150.63 L487.75,150.81 L488.10,151.18 L488.45,149.64 L488.80,150.28 L489.15,150.77 L489.50,151.70 L489.85,149.11 L490.20,151.33 L490.55,150.59 L490.90,151.35 L491.25,150.64 L491.60,151.31 L491.95,151.70 L492.30,151.31 L492.65,151.37 L493.00,151.33 L493.35,150.49 L493.70,151.47 L494.05,150.91 L494.40,150.46 L494.75,151.05 L495.10,150.91 L495.45,151.66 L495.80,151.06 L496.15,150.71 L496.50,151.70 L496.85,151.70 L497.20,151.70 L497.55,151.58 L497.90,151.05 L498.25,150.83 L498.60,150.94 L498.95,151.70 L499.30,151.24 L499.65,150.08 L500.00,151.14 L500.35,150.14 L500.70,151.30 L501.05,150.31 L501.40,150.28 L501.75,151.28" fill="none" stroke="#000" stroke-width="0.75" stroke-linejoin="round"/>
<path d="M353.9,152 V80" stroke="#9a9a9a" stroke-width="1" fill="none"/>
<path d="M353,8.5 H502 V152" fill="none" stroke="#b4b4b4" stroke-width="1.3"/>
<path d="M353,8.5 V152 H502" fill="none" stroke="#8c8c8c" stroke-width="1.6"/>
<text x="350.90" y="152.00" font-size="9.2" text-anchor="middle" fill="#000" transform="rotate(-90 350.90 152.00)" class="t">0</text>
<text x="350.90" y="123.30" font-size="9.2" text-anchor="middle" fill="#000" transform="rotate(-90 350.90 123.30)" class="t">30</text>
<text x="350.90" y="94.60" font-size="9.2" text-anchor="middle" fill="#000" transform="rotate(-90 350.90 94.60)" class="t">60</text>
<text x="350.90" y="65.90" font-size="9.2" text-anchor="middle" fill="#000" transform="rotate(-90 350.90 65.90)" class="t">90</text>
<text x="350.90" y="37.20" font-size="9.2" text-anchor="middle" fill="#000" transform="rotate(-90 350.90 37.20)" class="t">120</text>
<text x="350.90" y="8.50" font-size="9.2" text-anchor="middle" fill="#000" transform="rotate(-90 350.90 8.50)" class="t">150</text>
<text x="337.60" y="80.25" font-size="9.8" text-anchor="middle" fill="#000" transform="rotate(-90 337.60 80.25)" class="t">Counts</text>
<text x="353.00" y="163.20" font-size="8.2" text-anchor="middle" textLength="14.60" lengthAdjust="spacingAndGlyphs" fill="#000" class="t">10<tspan font-size="7.6" dy="-4.0">0</tspan></text>
<text x="390.25" y="163.20" font-size="8.2" text-anchor="middle" textLength="14.60" lengthAdjust="spacingAndGlyphs" fill="#000" class="t">10<tspan font-size="7.6" dy="-4.0">1</tspan></text>
<text x="427.50" y="163.20" font-size="8.2" text-anchor="middle" textLength="14.60" lengthAdjust="spacingAndGlyphs" fill="#000" class="t">10<tspan font-size="7.6" dy="-4.0">2</tspan></text>
<text x="464.75" y="163.20" font-size="8.2" text-anchor="middle" textLength="14.60" lengthAdjust="spacingAndGlyphs" fill="#000" class="t">10<tspan font-size="7.6" dy="-4.0">3</tspan></text>
<text x="502.00" y="163.20" font-size="8.2" text-anchor="middle" textLength="14.60" lengthAdjust="spacingAndGlyphs" fill="#000" class="t">10<tspan font-size="7.6" dy="-4.0">4</tspan></text>
<text x="418.40" y="175.50" font-size="10" textLength="25.60" lengthAdjust="spacingAndGlyphs" fill="#000" class="t">CD99</text>
<text x="363.90" y="24.90" font-size="10.4" textLength="54.50" lengthAdjust="spacingAndGlyphs" fill="#000" class="t">CD3ε<tspan font-size="8.4" dy="-4.4">+</tspan><tspan dy="4.4"> cells</tspan></text>
<path d="M155.00,316.74 L155.22,319.95 L155.44,320.24 L155.66,317.79 L155.88,317.83 L156.10,315.70 L156.32,314.58 L156.54,314.42 L156.76,314.00 L156.98,318.08 L157.20,315.71 L157.42,315.93 L157.64,314.01 L157.86,312.80 L158.08,312.34 L158.30,312.97 L158.52,316.09 L158.74,314.57 L158.96,313.27 L159.18,313.59 L159.40,310.61 L159.62,316.68 L159.84,310.70 L160.06,313.50 L160.28,318.34 L160.50,306.88 L160.72,309.43 L160.94,310.89 L161.16,312.75 L161.38,308.07 L161.60,311.51 L161.82,311.84 L162.04,312.15 L162.26,305.57 L162.48,312.97 L162.70,315.19 L162.92,312.09 L163.14,308.96 L163.36,309.05 L163.58,303.64 L163.80,311.47 L164.02,313.95 L164.24,311.56 L164.46,301.93 L164.68,308.39 L164.90,309.05 L165.12,307.86 L165.34,311.69 L165.56,304.13 L165.78,306.67 L166.00,310.00 L166.22,310.88 L166.44,308.49 L166.66,310.71 L166.88,309.08 L167.10,304.59 L167.32,310.84 L167.54,305.72 L167.76,302.43 L167.98,307.96 L168.20,311.61 L168.42,309.05 L168.64,308.99 L168.86,306.55 L169.08,298.88 L169.30,307.56 L169.52,305.90 L169.74,297.75 L169.96,303.23 L170.18,302.38 L170.40,307.77 L170.62,304.89 L170.84,305.20 L171.06,304.85 L171.28,300.06 L171.50,297.97 L171.72,303.66 L171.94,302.39 L172.16,302.97 L172.38,302.27 L172.60,301.01 L172.82,303.92 L173.04,302.57 L173.26,299.85 L173.48,295.70 L173.70,293.31 L173.92,296.55 L174.14,300.23 L174.36,303.26 L174.58,298.88 L174.80,302.04 L175.02,303.30 L175.24,306.88 L175.46,300.06 L175.68,303.62 L175.90,299.38 L176.12,294.43 L176.34,290.86 L176.56,298.82 L176.78,300.47 L177.00,305.34 L177.22,294.92 L177.44,298.43 L177.66,296.19 L177.88,288.54 L178.10,297.28 L178.32,294.71 L178.54,291.26 L178.76,300.83 L178.98,292.83 L179.20,296.14 L179.42,293.32 L179.64,291.43 L179.86,292.91 L180.08,295.82 L180.30,290.35 L180.52,286.63 L180.74,298.19 L180.96,293.10 L181.18,287.82 L181.40,290.48 L181.62,284.88 L181.84,289.80 L182.06,292.71 L182.28,282.32 L182.50,291.98 L182.72,291.37 L182.94,287.05 L183.16,287.99 L183.38,285.95 L183.60,285.09 L183.82,279.38 L184.04,291.91 L184.26,282.86 L184.48,285.43 L184.70,283.61 L184.92,285.76 L185.14,285.76 L185.36,279.26 L185.58,284.16 L185.80,281.33 L186.02,278.56 L186.24,286.66 L186.46,285.84 L186.68,277.32 L186.90,279.31 L187.12,276.14 L187.34,275.26 L187.56,275.50 L187.78,281.25 L188.00,273.01 L188.22,272.45 L188.44,279.14 L188.66,274.75 L188.88,282.34 L189.10,273.19 L189.32,274.86 L189.54,273.46 L189.76,266.96 L189.98,277.65 L190.20,278.90 L190.42,279.79 L190.64,274.93 L190.86,278.29 L191.08,274.77 L191.30,274.89 L191.52,271.87 L191.74,274.46 L191.96,271.16 L192.18,277.51 L192.40,272.22 L192.62,270.68 L192.84,274.56 L193.06,274.77 L193.28,268.04 L193.50,270.63 L193.72,272.68 L193.94,276.75 L194.16,277.42 L194.38,278.62 L194.60,274.44 L194.82,272.26 L195.04,269.96 L195.26,276.46 L195.48,274.52 L195.70,278.11 L195.92,280.64 L196.14,284.85 L196.36,273.39 L196.58,279.43 L196.80,270.67 L197.02,281.79 L197.24,272.91 L197.46,277.53 L197.68,273.91 L197.90,284.81 L198.12,281.05 L198.34,282.69 L198.56,278.83 L198.78,281.17 L199.00,275.56 L199.22,278.29 L199.44,285.84 L199.66,273.44 L199.88,281.25 L200.10,285.99 L200.32,285.73 L200.54,284.39 L200.76,282.12 L200.98,287.55 L201.20,281.48 L201.42,282.70 L201.64,276.67 L201.86,284.59 L202.08,282.46 L202.30,283.94 L202.52,275.61 L202.74,279.98 L202.96,284.16 L203.18,280.44 L203.40,287.69 L203.62,293.31 L203.84,285.72 L204.06,287.78 L204.28,284.83 L204.50,285.08 L204.72,281.79 L204.94,289.40 L205.16,282.96 L205.38,286.25 L205.60,286.35 L205.82,284.40 L206.04,286.59 L206.26,289.02 L206.48,293.52 L206.70,290.11 L206.92,295.04 L207.14,292.04 L207.36,291.71 L207.58,293.27 L207.80,290.97 L208.02,295.45 L208.24,293.17 L208.46,293.46 L208.68,299.49 L208.90,291.00 L209.12,290.96 L209.34,294.34 L209.56,295.94 L209.78,294.31 L210.00,298.67 L210.22,297.24 L210.44,297.71 L210.66,292.85 L210.88,302.75 L211.10,298.11 L211.32,295.52 L211.54,302.99 L211.76,299.16 L211.98,297.43 L212.20,296.74 L212.42,300.55 L212.64,299.10 L212.86,298.52 L213.08,301.63 L213.30,301.66 L213.52,301.19 L213.74,305.96 L213.96,307.95 L214.18,308.24 L214.40,303.52 L214.62,303.56 L214.84,301.08 L215.06,305.17 L215.28,303.70 L215.50,307.27 L215.72,306.49 L215.94,309.36 L216.16,307.97 L216.38,309.73 L216.60,310.53 L216.82,303.11 L217.04,307.19 L217.26,310.83 L217.48,310.61 L217.70,311.50 L217.92,310.20 L218.14,313.57 L218.36,311.12 L218.58,312.02 L218.80,311.52 L219.02,315.06 L219.24,315.73 L219.46,314.14 L219.68,315.49 L219.90,310.43 L220.12,317.60 L220.34,311.52 L220.56,314.99 L220.78,311.48 L221.00,315.82 L221.22,316.12 L221.44,322.03 L221.66,315.92 L221.88,313.28 L222.10,319.26 L222.32,318.73 L222.54,321.93 L222.76,321.53 L222.98,317.03 L223.20,319.88 L223.42,320.21 L223.64,321.23 L223.86,320.70 L224.08,321.32 L224.30,322.25 L224.52,318.83 L224.74,320.58 L224.96,324.87 L225.18,324.87 L225.40,323.40 L225.62,324.24 L225.84,325.22 L226.06,326.14 L226.28,323.95 L226.50,323.30 L226.72,326.41 L226.94,324.36 L227.16,323.72 L227.38,326.13 L227.60,325.24 L227.82,325.62 L228.04,325.83 L228.26,327.24 L228.48,326.57 L228.70,326.73 L228.92,324.87 L229.14,325.01 L229.36,325.48 L229.58,326.19 L229.80,328.56 L230.02,326.40 L230.24,326.61 L230.46,329.78 L230.68,327.71 L230.90,326.79 L231.12,328.16 L231.34,327.49 L231.56,329.30 L231.78,328.34 L232.00,326.46 L232.22,329.06 L232.44,326.17 L232.66,330.13 L232.88,328.37 L233.10,325.27 L233.32,330.56 L233.54,326.97 L233.76,325.10 L233.98,330.31 L234.20,326.90 L234.42,327.79 L234.64,327.70 L234.86,328.12 L235.08,328.76 L235.30,325.94 L235.52,331.24 L235.74,328.94 L235.96,328.16 L236.18,328.94 L236.40,328.35 L236.62,329.21 L236.84,329.01 L237.06,329.25 L237.28,328.86 L237.50,328.13 L237.72,328.58 L237.94,327.87 L238.16,328.91 L238.38,326.73 L238.60,326.65 L238.82,329.37 L239.04,326.55 L239.26,328.76 L239.48,329.16 L239.70,325.77 L239.92,328.57 L240.14,330.21 L240.36,327.75 L240.58,330.19 L240.80,327.15 L241.02,325.93 L241.24,327.39 L241.46,327.51 L241.68,329.43 L241.90,328.17 L242.12,327.73 L242.34,327.72 L242.56,329.96 L242.78,326.49 L243.00,327.06 L243.22,327.98 L243.44,328.57 L243.66,329.41 L243.88,329.92 L244.10,327.96 L244.32,329.28 L244.54,327.63 L244.76,331.62 L244.98,328.79 L245.20,327.24 L245.42,329.89 L245.64,328.89 L245.86,330.00 L246.08,329.62 L246.30,326.68 L246.52,329.33 L246.74,328.05 L246.96,327.87 L247.18,328.40 L247.40,328.17 L247.62,328.52 L247.84,329.44 L248.06,328.26 L248.28,328.51 L248.50,329.86 L248.72,327.86 L248.94,328.55 L249.16,328.14 L249.38,329.39 L249.60,326.83 L249.82,328.19 L250.04,329.10 L250.26,328.14 L250.48,328.50 L250.70,327.58 L250.92,328.33 L251.14,327.46 L251.36,328.65 L251.58,327.45 L251.80,326.89 L252.02,327.49 L252.24,326.83 L252.46,330.71 L252.68,328.06 L252.90,327.42 L253.12,326.83 L253.34,328.19 L253.56,326.40 L253.78,326.45 L254.00,326.17 L254.22,326.36 L254.44,326.37 L254.66,325.37 L254.88,327.12 L255.10,325.17 L255.32,327.34 L255.54,328.18 L255.76,325.76 L255.98,325.92 L256.20,328.02 L256.42,325.86 L256.64,326.80 L256.86,326.58 L257.08,326.45 L257.30,325.65 L257.52,327.58 L257.74,326.85 L257.96,326.22 L258.18,326.36 L258.40,325.26 L258.62,327.53 L258.84,327.42 L259.06,328.84 L259.28,325.82 L259.50,329.17 L259.72,326.98 L259.94,328.58 L260.16,324.67 L260.38,327.19 L260.60,327.65 L260.82,324.84 L261.04,327.48 L261.26,328.19 L261.48,325.77 L261.70,328.18 L261.92,327.48 L262.14,328.24 L262.36,326.49 L262.58,325.50 L262.80,326.29 L263.02,327.20 L263.24,324.19 L263.46,327.52 L263.68,327.03 L263.90,326.89 L264.12,323.43 L264.34,325.79 L264.56,326.81 L264.78,326.64 L265.00,327.79 L265.22,326.31 L265.44,326.53 L265.66,328.61 L265.88,328.43 L266.10,327.41 L266.32,327.09 L266.54,325.79 L266.76,328.51 L266.98,327.49 L267.20,330.04 L267.42,327.49 L267.64,328.35 L267.86,327.68 L268.08,328.84 L268.30,331.54 L268.52,328.33 L268.74,327.80 L268.96,329.27 L269.18,329.23 L269.40,327.26 L269.62,330.09 L269.84,328.14 L270.06,330.21 L270.28,329.46 L270.50,328.93 L270.72,329.85 L270.94,329.00 L271.16,328.41 L271.38,329.20 L271.60,329.72 L271.82,328.75 L272.04,329.92 L272.26,328.95 L272.48,330.48 L272.70,329.94 L272.92,329.68 L273.14,327.90 L273.36,330.24 L273.58,328.17 L273.80,329.43 L274.02,328.74 L274.24,331.29 L274.46,329.92 L274.68,330.18 L274.90,330.53 L275.12,329.67 L275.34,330.61 L275.56,328.87 L275.78,330.82 L276.00,330.57 L276.22,330.12 L276.44,328.41 L276.66,328.52 L276.88,329.09 L277.10,329.68 L277.32,330.62 L277.54,329.89 L277.76,329.88 L277.98,330.05 L278.20,329.56 L278.42,329.50 L278.64,329.88 L278.86,330.85 L279.08,330.24 L279.30,330.44 L279.52,331.33 L279.74,328.86 L279.96,329.38 L280.18,330.63 L280.40,330.47 L280.62,329.79 L280.84,328.95 L281.06,330.23 L281.28,330.32 L281.50,331.03 L281.72,329.69 L281.94,330.42 L282.16,329.13 L282.38,328.76 L282.60,331.70 L282.82,329.95 L283.04,331.05 L283.26,330.83 L283.48,330.44 L283.70,331.36 L283.92,331.70 L284.14,330.07 L284.36,330.47 L284.58,329.41 L284.80,330.60 L285.02,330.83 L285.24,330.04 L285.46,330.15 L285.68,329.93 L285.90,330.28 L286.12,331.32 L286.34,330.30 L286.56,330.34 L286.78,329.74 L287.00,330.86 L287.22,330.73 L287.44,330.19 L287.66,331.70 L287.88,329.44 L288.10,331.44 L288.32,330.89 L288.54,329.62 L288.76,330.97 L288.98,331.70 L289.20,331.43 L289.42,330.95 L289.64,331.59 L289.86,329.72 L290.08,330.74 L290.30,329.66 L290.52,330.41 L290.74,330.63 L290.96,330.63 L291.18,330.71 L291.40,330.40 L291.62,330.74 L291.84,331.01 L292.06,331.70 L292.28,330.76 L292.50,331.70 L292.72,330.08 L292.94,331.27 L293.16,331.13 L293.38,330.92 L293.60,331.70 L293.82,330.64 L294.04,331.08 L294.26,330.05 L294.48,330.19 L294.70,330.52 L294.92,331.70 L295.14,331.05 L295.36,330.37 L295.58,331.11 L295.80,331.70 L296.02,330.50 L296.24,331.02 L296.46,330.50 L296.68,330.65 L296.90,331.52 L297.12,330.22 L297.34,331.02 L297.56,331.06 L297.78,330.66 L298.00,330.34 L298.22,331.27 L298.44,330.38 L298.66,330.09 L298.88,331.70 L299.10,330.90 L299.32,329.85 L299.54,330.45 L299.76,330.57 L299.98,330.86 L300.20,330.60 L300.42,331.48 L300.64,331.30 L300.86,331.70 L301.08,329.39 L301.30,330.67 L301.52,330.76 L301.74,329.24 L301.96,330.48 L302.18,331.70 L302.40,330.60 L302.62,331.24 L302.84,331.04" fill="none" stroke="#5a5a5a" stroke-width="0.6" stroke-linejoin="round"/>
<path d="M155.00,329.81 L155.35,330.80 L155.70,327.96 L156.05,330.95 L156.40,329.46 L156.75,328.81 L157.10,328.81 L157.45,328.57 L157.80,329.31 L158.15,330.22 L158.50,330.00 L158.85,330.05 L159.20,328.04 L159.55,328.15 L159.90,330.84 L160.25,330.34 L160.60,331.38 L160.95,330.54 L161.30,328.62 L161.65,330.61 L162.00,330.04 L162.35,329.69 L162.70,328.79 L163.05,329.50 L163.40,329.37 L163.75,330.27 L164.10,329.61 L164.45,330.87 L164.80,328.83 L165.15,329.91 L165.50,329.93 L165.85,328.75 L166.20,328.48 L166.55,330.37 L166.90,329.95 L167.25,329.36 L167.60,329.84 L167.95,328.92 L168.30,329.71 L168.65,328.98 L169.00,329.66 L169.35,330.35 L169.70,329.21 L170.05,330.23 L170.40,328.61 L170.75,329.25 L171.10,328.32 L171.45,329.41 L171.80,329.57 L172.15,329.33 L172.50,329.27 L172.85,330.66 L173.20,330.73 L173.55,328.45 L173.90,330.51 L174.25,328.01 L174.60,328.87 L174.95,329.35 L175.30,329.60 L175.65,328.60 L176.00,328.88 L176.35,329.57 L176.70,328.90 L177.05,328.95 L177.40,330.07 L177.75,330.30 L178.10,329.45 L178.45,329.52 L178.80,329.48 L179.15,329.11 L179.50,329.06 L179.85,328.60 L180.20,330.06 L180.55,329.43 L180.90,329.38 L181.25,329.67 L181.60,329.96 L181.95,330.73 L182.30,329.26 L182.65,329.15 L183.00,329.67 L183.35,328.77 L183.70,330.60 L184.05,330.30 L184.40,330.10 L184.75,329.40 L185.10,330.14 L185.45,330.41 L185.80,329.93 L186.15,329.26 L186.50,328.05 L186.85,330.32 L187.20,329.20 L187.55,328.77 L187.90,330.27 L188.25,329.79 L188.60,328.28 L188.95,329.41 L189.30,329.27 L189.65,330.36 L190.00,327.87 L190.35,329.17 L190.70,329.38 L191.05,330.72 L191.40,328.57 L191.75,326.96 L192.10,328.31 L192.45,329.73 L192.80,330.20 L193.15,331.00 L193.50,329.85 L193.85,328.81 L194.20,330.26 L194.55,329.49 L194.90,329.33 L195.25,329.52 L195.60,330.60 L195.95,328.72 L196.30,328.62 L196.65,329.44 L197.00,329.44 L197.35,328.80 L197.70,328.74 L198.05,329.83 L198.40,330.65 L198.75,330.11 L199.10,330.09 L199.45,330.57 L199.80,327.78 L200.15,328.20 L200.50,328.89 L200.85,328.47 L201.20,328.65 L201.55,329.56 L201.90,328.38 L202.25,329.04 L202.60,327.40 L202.95,327.96 L203.30,329.78 L203.65,327.39 L204.00,327.86 L204.35,327.85 L204.70,325.98 L205.05,326.82 L205.40,325.91 L205.75,326.10 L206.10,323.82 L206.45,322.19 L206.80,322.24 L207.15,322.34 L207.50,323.39 L207.85,321.58 L208.20,320.59 L208.55,320.29 L208.90,321.86 L209.25,318.25 L209.60,321.39 L209.95,315.67 L210.30,316.18 L210.65,318.31 L211.00,316.92 L211.35,313.24 L211.70,313.81 L212.05,311.52 L212.40,313.97 L212.75,312.32 L213.10,308.41 L213.45,309.80 L213.80,306.40 L214.15,305.34 L214.50,303.84 L214.85,300.27 L215.20,301.12 L215.55,299.39 L215.90,297.46 L216.25,297.71 L216.60,291.71 L216.95,286.11 L217.30,287.51 L217.65,288.04 L218.00,285.74 L218.35,285.93 L218.70,285.05 L219.05,280.12 L219.40,278.43 L219.75,273.50 L220.10,279.23 L220.45,272.70 L220.80,267.90 L221.15,266.17 L221.50,267.39 L221.85,273.75 L222.20,269.29 L222.55,257.96 L222.90,262.91 L223.25,263.17 L223.60,263.52 L223.95,261.38 L224.30,256.39 L224.65,259.98 L225.00,255.04 L225.35,246.98 L225.70,252.72 L226.05,252.10 L226.40,258.65 L226.75,258.65 L227.10,249.07 L227.45,253.95 L227.80,253.14 L228.15,246.00 L228.50,242.83 L228.85,251.03 L229.20,251.61 L229.55,247.94 L229.90,238.20 L230.25,249.98 L230.60,247.52 L230.95,246.18 L231.30,248.74 L231.65,245.21 L232.00,252.78 L232.35,250.38 L232.70,247.90 L233.05,251.73 L233.40,250.58 L233.75,244.56 L234.10,251.44 L234.45,250.97 L234.80,246.31 L235.15,251.97 L235.50,257.55 L235.85,254.06 L236.20,263.79 L236.55,266.20 L236.90,259.07 L237.25,263.93 L237.60,271.10 L237.95,262.90 L238.30,261.93 L238.65,265.16 L239.00,262.73 L239.35,264.14 L239.70,271.41 L240.05,270.17 L240.40,273.82 L240.75,275.84 L241.10,272.29 L241.45,275.54 L241.80,276.40 L242.15,276.09 L242.50,276.64 L242.85,281.87 L243.20,281.38 L243.55,284.11 L243.90,287.42 L244.25,288.39 L244.60,282.15 L244.95,283.94 L245.30,286.85 L245.65,289.00 L246.00,292.53 L246.35,287.36 L246.70,289.95 L247.05,293.01 L247.40,296.93 L247.75,298.25 L248.10,291.93 L248.45,295.21 L248.80,294.30 L249.15,299.95 L249.50,299.58 L249.85,298.08 L250.20,298.19 L250.55,301.52 L250.90,304.19 L251.25,300.24 L251.60,302.25 L251.95,304.21 L252.30,304.77 L252.65,306.39 L253.00,303.82 L253.35,305.66 L253.70,302.82 L254.05,308.86 L254.40,312.01 L254.75,305.37 L255.10,309.27 L255.45,313.27 L255.80,311.42 L256.15,308.06 L256.50,315.31 L256.85,310.19 L257.20,316.69 L257.55,313.06 L257.90,313.33 L258.25,315.35 L258.60,315.76 L258.95,317.50 L259.30,317.80 L259.65,317.05 L260.00,320.33 L260.35,319.66 L260.70,319.29 L261.05,319.40 L261.40,319.29 L261.75,319.60 L262.10,321.16 L262.45,321.09 L262.80,320.62 L263.15,322.53 L263.50,320.65 L263.85,322.08 L264.20,323.03 L264.55,320.11 L264.90,321.76 L265.25,325.05 L265.60,321.24 L265.95,324.74 L266.30,321.67 L266.65,324.13 L267.00,322.24 L267.35,323.15 L267.70,323.74 L268.05,323.73 L268.40,326.12 L268.75,326.10 L269.10,326.36 L269.45,325.69 L269.80,327.78 L270.15,327.21 L270.50,326.54 L270.85,325.08 L271.20,327.42 L271.55,327.60 L271.90,327.18 L272.25,328.10 L272.60,328.38 L272.95,327.41 L273.30,328.50 L273.65,328.40 L274.00,328.49 L274.35,327.95 L274.70,327.96 L275.05,328.67 L275.40,330.07 L275.75,331.03 L276.10,328.59 L276.45,328.09 L276.80,328.88 L277.15,328.58 L277.50,329.09 L277.85,329.92 L278.20,328.94 L278.55,330.33 L278.90,330.57 L279.25,331.19 L279.60,331.45 L279.95,330.82 L280.30,331.70 L280.65,329.68 L281.00,330.30 L281.35,330.23 L281.70,330.45 L282.05,330.92 L282.40,329.89 L282.75,331.47 L283.10,331.14 L283.45,330.45 L283.80,330.56 L284.15,329.49 L284.50,328.36 L284.85,330.18 L285.20,330.50 L285.55,330.45 L285.90,329.48 L286.25,329.97 L286.60,331.62 L286.95,330.87 L287.30,330.80 L287.65,330.14 L288.00,330.92 L288.35,331.33 L288.70,330.96 L289.05,330.13 L289.40,330.65 L289.75,329.83 L290.10,330.25 L290.45,330.91 L290.80,330.12 L291.15,330.35 L291.50,331.54 L291.85,330.43 L292.20,331.09 L292.55,330.37 L292.90,329.80 L293.25,330.61 L293.60,330.37 L293.95,329.26 L294.30,329.83 L294.65,330.38 L295.00,331.67 L295.35,330.30 L295.70,330.68 L296.05,331.14 L296.40,330.93 L296.75,330.53 L297.10,331.70 L297.45,331.66 L297.80,329.20 L298.15,331.43 L298.50,331.18 L298.85,331.47 L299.20,330.91 L299.55,331.40 L299.90,331.70 L300.25,331.70 L300.60,331.70 L300.95,331.59 L301.30,331.52 L301.65,331.54 L302.00,330.27 L302.35,331.70 L302.70,331.14" fill="none" stroke="#000" stroke-width="0.75" stroke-linejoin="round"/>
<path d="M155,189.5 H303 V332" fill="none" stroke="#b4b4b4" stroke-width="1.3"/>
<path d="M155,189.5 V332 H303" fill="none" stroke="#8c8c8c" stroke-width="1.6"/>
<text x="151.00" y="332.00" font-size="9.2" text-anchor="middle" fill="#000" transform="rotate(-90 151.00 332.00)" class="t">0</text>
<text x="151.00" y="308.25" font-size="9.2" text-anchor="middle" fill="#000" transform="rotate(-90 151.00 308.25)" class="t">20</text>
<text x="151.00" y="284.50" font-size="9.2" text-anchor="middle" fill="#000" transform="rotate(-90 151.00 284.50)" class="t">40</text>
<text x="151.00" y="260.75" font-size="9.2" text-anchor="middle" fill="#000" transform="rotate(-90 151.00 260.75)" class="t">60</text>
<text x="151.00" y="237.00" font-size="9.2" text-anchor="middle" fill="#000" transform="rotate(-90 151.00 237.00)" class="t">80</text>
<text x="151.00" y="213.25" font-size="9.2" text-anchor="middle" fill="#000" transform="rotate(-90 151.00 213.25)" class="t">100</text>
<text x="151.00" y="189.50" font-size="9.2" text-anchor="middle" fill="#000" transform="rotate(-90 151.00 189.50)" class="t">120</text>
<text x="138.20" y="260.75" font-size="9.8" text-anchor="middle" fill="#000" transform="rotate(-90 138.20 260.75)" class="t">Counts</text>
<text x="155.00" y="343.70" font-size="8.2" text-anchor="middle" textLength="14.60" lengthAdjust="spacingAndGlyphs" fill="#000" class="t">10<tspan font-size="7.6" dy="-4.0">0</tspan></text>
<text x="192.00" y="343.70" font-size="8.2" text-anchor="middle" textLength="14.60" lengthAdjust="spacingAndGlyphs" fill="#000" class="t">10<tspan font-size="7.6" dy="-4.0">1</tspan></text>
<text x="229.00" y="343.70" font-size="8.2" text-anchor="middle" textLength="14.60" lengthAdjust="spacingAndGlyphs" fill="#000" class="t">10<tspan font-size="7.6" dy="-4.0">2</tspan></text>
<text x="266.00" y="343.70" font-size="8.2" text-anchor="middle" textLength="14.60" lengthAdjust="spacingAndGlyphs" fill="#000" class="t">10<tspan font-size="7.6" dy="-4.0">3</tspan></text>
<text x="303.00" y="343.70" font-size="8.2" text-anchor="middle" textLength="14.60" lengthAdjust="spacingAndGlyphs" fill="#000" class="t">10<tspan font-size="7.6" dy="-4.0">4</tspan></text>
<text x="210.40" y="355.50" font-size="10" textLength="36.10" lengthAdjust="spacingAndGlyphs" fill="#000" class="t">CD99L2</text>
<text x="164.90" y="209.20" font-size="10.4" textLength="55.90" lengthAdjust="spacingAndGlyphs" fill="#000" class="t">CD19<tspan font-size="8.4" dy="-4.4">+</tspan><tspan dy="4.4"> cells</tspan></text>
<path d="M353.00,332.00 L353.22,331.51 L353.44,330.50 L353.66,330.99 L353.88,330.98 L354.10,332.58 L354.32,330.67 L354.54,332.06 L354.76,331.36 L354.98,331.91 L355.20,331.35 L355.42,331.60 L355.64,331.67 L355.86,331.47 L356.08,331.76 L356.30,331.58 L356.52,332.05 L356.74,332.35 L356.96,331.21 L357.18,331.10 L357.40,331.40 L357.62,330.11 L357.84,331.24 L358.06,330.68 L358.28,330.44 L358.50,329.91 L358.72,330.70 L358.94,331.11 L359.16,330.39 L359.38,330.09 L359.60,330.26 L359.82,330.48 L360.04,329.75 L360.26,330.11 L360.48,329.68 L360.70,330.28 L360.92,331.52 L361.14,330.37 L361.36,331.61 L361.58,329.66 L361.80,329.28 L362.02,329.84 L362.24,330.05 L362.46,330.21 L362.68,330.17 L362.90,329.60 L363.12,330.44 L363.34,329.66 L363.56,330.20 L363.78,329.96 L364.00,329.76 L364.22,329.68 L364.44,328.89 L364.66,329.83 L364.88,329.81 L365.10,328.91 L365.32,331.28 L365.54,329.33 L365.76,328.10 L365.98,327.80 L366.20,328.33 L366.42,327.17 L366.64,329.26 L366.86,327.98 L367.08,329.14 L367.30,327.60 L367.52,328.90 L367.74,329.57 L367.96,329.09 L368.18,327.00 L368.40,328.49 L368.62,328.02 L368.84,329.30 L369.06,328.53 L369.28,329.77 L369.50,328.13 L369.72,326.86 L369.94,326.91 L370.16,328.77 L370.38,326.59 L370.60,327.57 L370.82,329.39 L371.04,327.20 L371.26,326.21 L371.48,327.84 L371.70,327.25 L371.92,325.55 L372.14,327.43 L372.36,326.73 L372.58,327.16 L372.80,325.63 L373.02,327.40 L373.24,325.55 L373.46,327.30 L373.68,324.65 L373.90,326.06 L374.12,325.97 L374.34,324.02 L374.56,323.15 L374.78,324.32 L375.00,324.01 L375.22,323.96 L375.44,324.34 L375.66,326.95 L375.88,324.32 L376.10,325.84 L376.32,324.12 L376.54,324.83 L376.76,323.96 L376.98,323.12 L377.20,323.44 L377.42,325.42 L377.64,320.26 L377.86,322.50 L378.08,322.79 L378.30,320.09 L378.52,322.21 L378.74,321.47 L378.96,322.63 L379.18,321.45 L379.40,320.16 L379.62,320.17 L379.84,316.11 L380.06,321.82 L380.28,318.67 L380.50,315.63 L380.72,315.72 L380.94,316.38 L381.16,315.27 L381.38,315.98 L381.60,314.03 L381.82,315.51 L382.04,313.32 L382.26,313.45 L382.48,310.62 L382.70,311.19 L382.92,311.76 L383.14,309.73 L383.36,310.44 L383.58,309.73 L383.80,306.75 L384.02,311.19 L384.24,305.84 L384.46,311.20 L384.68,309.23 L384.90,307.69 L385.12,305.83 L385.34,303.48 L385.56,308.02 L385.78,308.23 L386.00,301.86 L386.22,306.66 L386.44,304.67 L386.66,303.62 L386.88,302.36 L387.10,300.21 L387.32,300.27 L387.54,300.64 L387.76,302.83 L387.98,296.64 L388.20,299.76 L388.42,296.51 L388.64,298.90 L388.86,297.82 L389.08,296.46 L389.30,299.34 L389.52,299.26 L389.74,294.53 L389.96,295.56 L390.18,298.22 L390.40,295.80 L390.62,297.60 L390.84,290.24 L391.06,295.80 L391.28,295.88 L391.50,297.26 L391.72,301.78 L391.94,295.88 L392.16,296.05 L392.38,299.77 L392.60,296.04 L392.82,300.18 L393.04,298.02 L393.26,291.94 L393.48,296.57 L393.70,299.85 L393.92,296.55 L394.14,296.67 L394.36,296.33 L394.58,296.20 L394.80,298.80 L395.02,297.07 L395.24,296.31 L395.46,301.30 L395.68,292.17 L395.90,294.10 L396.12,294.96 L396.34,294.84 L396.56,291.71 L396.78,302.26 L397.00,295.77 L397.22,297.33 L397.44,296.14 L397.66,293.44 L397.88,301.87 L398.10,296.20 L398.32,296.90 L398.54,296.59 L398.76,297.50 L398.98,300.22 L399.20,296.89 L399.42,289.18 L399.64,295.65 L399.86,294.80 L400.08,298.74 L400.30,296.60 L400.52,298.83 L400.74,298.27 L400.96,296.80 L401.18,299.96 L401.40,297.73 L401.62,295.88 L401.84,295.32 L402.06,296.74 L402.28,293.28 L402.50,299.34 L402.72,300.16 L402.94,297.17 L403.16,294.91 L403.38,297.76 L403.60,302.58 L403.82,300.33 L404.04,301.15 L404.26,301.70 L404.48,301.38 L404.70,301.22 L404.92,303.23 L405.14,303.38 L405.36,300.67 L405.58,300.96 L405.80,302.52 L406.02,303.65 L406.24,304.40 L406.46,303.18 L406.68,303.27 L406.90,301.39 L407.12,306.58 L407.34,304.34 L407.56,306.12 L407.78,304.13 L408.00,302.74 L408.22,304.04 L408.44,304.21 L408.66,306.67 L408.88,305.10 L409.10,308.32 L409.32,307.46 L409.54,311.71 L409.76,303.58 L409.98,310.08 L410.20,306.63 L410.42,308.05 L410.64,309.16 L410.86,311.24 L411.08,309.75 L411.30,309.30 L411.52,313.81 L411.74,309.91 L411.96,313.47 L412.18,311.87 L412.40,314.91 L412.62,313.19 L412.84,312.34 L413.06,312.36 L413.28,313.65 L413.50,316.51 L413.72,318.16 L413.94,316.47 L414.16,317.36 L414.38,314.95 L414.60,317.43 L414.82,319.79 L415.04,320.08 L415.26,317.02 L415.48,318.58 L415.70,318.77 L415.92,320.35 L416.14,319.28 L416.36,320.63 L416.58,322.79 L416.80,321.53 L417.02,321.17 L417.24,322.19 L417.46,320.46 L417.68,322.57 L417.90,323.14 L418.12,325.37 L418.34,322.44 L418.56,325.23 L418.78,324.92 L419.00,326.63 L419.22,326.59 L419.44,325.66 L419.66,325.14 L419.88,327.40 L420.10,327.92 L420.32,326.04 L420.54,328.33 L420.76,326.94 L420.98,328.01 L421.20,326.38 L421.42,328.18 L421.64,327.91 L421.86,328.08 L422.08,327.74 L422.30,328.07 L422.52,329.21 L422.74,328.64 L422.96,327.53 L423.18,328.33 L423.40,330.39 L423.62,329.50 L423.84,329.48 L424.06,330.95 L424.28,328.52 L424.50,329.25 L424.72,330.64 L424.94,331.10 L425.16,330.67 L425.38,329.81 L425.60,331.38 L425.82,331.00 L426.04,330.45 L426.26,329.82 L426.48,331.23 L426.70,330.87 L426.92,330.84 L427.14,330.97 L427.36,331.24 L427.58,331.18 L427.80,331.54 L428.02,332.25 L428.24,330.28 L428.46,330.96 L428.68,331.51 L428.90,331.52 L429.12,331.78 L429.34,331.37 L429.56,331.38 L429.78,331.66 L430.00,332.06 L430.22,331.84 L430.44,331.28 L430.66,331.90 L430.88,331.72 L431.10,331.09 L431.32,331.97 L431.54,331.92 L431.76,330.97 L431.98,332.04 L432.20,331.36 L432.42,332.59 L432.64,330.95 L432.86,331.48 L433.08,331.40 L433.30,330.93 L433.52,331.20 L433.74,331.60 L433.96,331.29 L434.18,331.64 L434.40,331.19 L434.62,331.68 L434.84,331.63 L435.06,330.93 L435.28,330.02 L435.50,331.70 L435.72,330.92 L435.94,328.93 L436.16,332.01 L436.38,331.32 L436.60,331.87 L436.82,331.98 L437.04,332.70 L437.26,331.71 L437.48,332.05 L437.70,332.27 L437.92,332.50 L438.14,331.48 L438.36,331.63 L438.58,331.95 L438.80,330.74 L439.02,331.84 L439.24,332.36 L439.46,331.60 L439.68,332.05 L439.90,331.05 L440.12,332.01 L440.34,330.61 L440.56,331.33 L440.78,332.14 L441.00,331.11 L441.22,331.82 L441.44,330.91 L441.66,331.55 L441.88,331.57 L442.10,331.33 L442.32,331.02 L442.54,331.28 L442.76,330.93 L442.98,331.01 L443.20,330.85 L443.42,331.33 L443.64,332.14 L443.86,332.70 L444.08,331.80 L444.30,331.73 L444.52,331.01 L444.74,331.08 L444.96,331.91 L445.18,332.07 L445.40,330.92 L445.62,331.08 L445.84,331.99 L446.06,331.97 L446.28,331.75 L446.50,330.86 L446.72,330.79 L446.94,331.05 L447.16,329.47 L447.38,331.11 L447.60,331.43 L447.82,330.86 L448.04,330.94 L448.26,330.01 L448.48,330.88 L448.70,330.79 L448.92,330.14 L449.14,330.57 L449.36,329.57 L449.58,329.81 L449.80,330.27 L450.02,329.66 L450.24,329.43 L450.46,329.29 L450.68,330.33 L450.90,330.77 L451.12,330.89 L451.34,329.92 L451.56,329.71 L451.78,329.79 L452.00,330.44 L452.22,328.94 L452.44,329.62 L452.66,329.73 L452.88,329.34 L453.10,330.55 L453.32,329.75 L453.54,329.28 L453.76,330.74 L453.98,328.79 L454.20,329.46 L454.42,329.58 L454.64,329.19 L454.86,330.64 L455.08,328.98 L455.30,329.96 L455.52,329.21 L455.74,329.71 L455.96,330.84 L456.18,329.37 L456.40,329.51 L456.62,330.65 L456.84,329.85 L457.06,330.70 L457.28,331.51 L457.50,330.50 L457.72,330.77 L457.94,330.96 L458.16,330.85 L458.38,328.65 L458.60,329.98 L458.82,331.94 L459.04,331.05 L459.26,330.38 L459.48,331.06 L459.70,331.32 L459.92,330.56 L460.14,331.38 L460.36,332.07 L460.58,331.42 L460.80,331.46 L461.02,331.13 L461.24,331.52 L461.46,330.63 L461.68,331.95 L461.90,331.34 L462.12,331.85 L462.34,332.25 L462.56,330.49 L462.78,331.09 L463.00,330.34 L463.22,332.40 L463.44,330.79 L463.66,330.52 L463.88,331.44 L464.10,331.19 L464.32,331.76 L464.54,330.63 L464.76,331.82 L464.98,331.85 L465.20,330.15 L465.42,330.93 L465.64,330.48 L465.86,330.48 L466.08,330.49 L466.30,330.75 L466.52,330.80 L466.74,330.64 L466.96,332.54 L467.18,330.32 L467.40,330.86 L467.62,330.82 L467.84,329.70 L468.06,331.48 L468.28,331.54 L468.50,331.27 L468.72,330.33 L468.94,331.24 L469.16,330.37 L469.38,331.09 L469.60,331.20 L469.82,331.37 L470.04,331.07 L470.26,331.42 L470.48,331.48 L470.70,331.21 L470.92,330.81 L471.14,331.60 L471.36,331.67 L471.58,331.87 L471.80,331.28 L472.02,331.84 L472.24,330.89 L472.46,331.23 L472.68,331.41 L472.90,332.29 L473.12,331.03 L473.34,331.23 L473.56,330.98 L473.78,331.96 L474.00,331.76 L474.22,331.25 L474.44,330.50 L474.66,331.77 L474.88,330.65 L475.10,331.82 L475.32,330.48 L475.54,331.78 L475.76,331.01 L475.98,330.55 L476.20,331.66 L476.42,331.43 L476.64,330.13 L476.86,332.14 L477.08,331.25 L477.30,330.44 L477.52,331.44 L477.74,331.72 L477.96,331.54 L478.18,331.10 L478.40,331.86 L478.62,331.12 L478.84,330.82 L479.06,332.02 L479.28,331.17 L479.50,331.19 L479.72,332.28 L479.94,330.90 L480.16,332.30 L480.38,331.38 L480.60,331.58 L480.82,331.51 L481.04,331.20 L481.26,331.69 L481.48,332.17 L481.70,330.94 L481.92,330.99 L482.14,331.63 L482.36,331.29 L482.58,332.55 L482.80,331.76 L483.02,331.45 L483.24,331.04 L483.46,331.63 L483.68,331.20 L483.90,332.08 L484.12,330.81 L484.34,331.59 L484.56,331.94 L484.78,330.98 L485.00,331.09 L485.22,331.09 L485.44,331.98 L485.66,331.76 L485.88,330.62 L486.10,331.66 L486.32,331.72 L486.54,331.90 L486.76,332.32 L486.98,330.76 L487.20,332.16 L487.42,330.89 L487.64,331.28 L487.86,331.34 L488.08,331.48 L488.30,331.45 L488.52,331.61 L488.74,332.00 L488.96,332.18 L489.18,332.02 L489.40,331.62 L489.62,331.32 L489.84,332.17 L490.06,332.05 L490.28,332.00 L490.50,331.84 L490.72,332.09 L490.94,330.72 L491.16,332.19 L491.38,332.03 L491.60,331.42 L491.82,332.22 L492.04,331.45 L492.26,331.32 L492.48,331.90 L492.70,332.46 L492.92,331.94 L493.14,331.00 L493.36,331.45 L493.58,332.11 L493.80,332.05 L494.02,331.46 L494.24,331.98 L494.46,332.55 L494.68,331.57 L494.90,332.36 L495.12,331.96 L495.34,331.64 L495.56,331.72 L495.78,331.86 L496.00,332.51 L496.22,332.04 L496.44,332.00 L496.66,331.43 L496.88,331.76 L497.10,331.45 L497.32,331.44 L497.54,332.45 L497.76,332.09 L497.98,331.19 L498.20,332.17 L498.42,332.28 L498.64,331.44 L498.86,331.69 L499.08,331.75 L499.30,332.27 L499.52,332.31 L499.74,331.93 L499.96,331.92 L500.18,331.98 L500.40,331.14 L500.62,331.12 L500.84,332.44 L501.06,331.92 L501.28,331.89 L501.50,331.44 L501.72,331.55 L501.94,331.28" fill="none" stroke="#5a5a5a" stroke-width="0.6" stroke-linejoin="round"/>
<path d="M353.00,332.00 L353.35,332.33 L353.70,332.50 L354.05,331.72 L354.40,332.58 L354.75,332.33 L355.10,332.59 L355.45,332.33 L355.80,332.70 L356.15,331.74 L356.50,332.70 L356.85,332.70 L357.20,331.90 L357.55,332.53 L357.90,332.42 L358.25,331.34 L358.60,332.49 L358.95,331.91 L359.30,332.08 L359.65,331.90 L360.00,331.99 L360.35,332.24 L360.70,332.25 L361.05,331.43 L361.40,332.07 L361.75,331.53 L362.10,331.57 L362.45,332.03 L362.80,332.62 L363.15,332.51 L363.50,331.90 L363.85,331.85 L364.20,331.79 L364.55,332.27 L364.90,332.66 L365.25,332.21 L365.60,332.54 L365.95,332.36 L366.30,332.70 L366.65,331.21 L367.00,331.14 L367.35,332.10 L367.70,332.52 L368.05,332.00 L368.40,332.41 L368.75,331.62 L369.10,331.58 L369.45,331.85 L369.80,332.62 L370.15,332.54 L370.50,331.85 L370.85,332.29 L371.20,331.88 L371.55,332.21 L371.90,331.65 L372.25,332.18 L372.60,331.84 L372.95,332.18 L373.30,331.88 L373.65,331.79 L374.00,332.26 L374.35,332.03 L374.70,332.21 L375.05,331.99 L375.40,332.50 L375.75,331.80 L376.10,332.58 L376.45,332.70 L376.80,332.07 L377.15,332.70 L377.50,332.70 L377.85,332.42 L378.20,331.53 L378.55,331.40 L378.90,332.11 L379.25,332.70 L379.60,332.48 L379.95,332.58 L380.30,332.08 L380.65,331.83 L381.00,332.38 L381.35,331.65 L381.70,332.10 L382.05,332.45 L382.40,332.22 L382.75,332.46 L383.10,331.98 L383.45,332.50 L383.80,332.40 L384.15,331.38 L384.50,331.68 L384.85,331.84 L385.20,332.52 L385.55,332.35 L385.90,332.34 L386.25,332.29 L386.60,332.52 L386.95,332.67 L387.30,331.93 L387.65,331.41 L388.00,332.53 L388.35,332.10 L388.70,332.22 L389.05,332.11 L389.40,331.65 L389.75,331.45 L390.10,332.68 L390.45,332.70 L390.80,332.66 L391.15,332.30 L391.50,332.33 L391.85,331.99 L392.20,332.23 L392.55,332.00 L392.90,331.93 L393.25,332.30 L393.60,332.70 L393.95,331.27 L394.30,332.50 L394.65,332.53 L395.00,331.60 L395.35,332.35 L395.70,332.24 L396.05,331.93 L396.40,331.85 L396.75,331.28 L397.10,332.70 L397.45,332.70 L397.80,332.69 L398.15,331.53 L398.50,331.79 L398.85,331.77 L399.20,330.96 L399.55,331.23 L399.90,331.67 L400.25,330.98 L400.60,330.03 L400.95,330.27 L401.30,331.23 L401.65,330.76 L402.00,330.71 L402.35,331.82 L402.70,330.85 L403.05,330.20 L403.40,330.61 L403.75,332.20 L404.10,329.67 L404.45,331.81 L404.80,331.50 L405.15,330.19 L405.50,329.99 L405.85,331.31 L406.20,330.31 L406.55,329.60 L406.90,331.42 L407.25,329.91 L407.60,329.87 L407.95,329.44 L408.30,328.95 L408.65,329.15 L409.00,328.51 L409.35,329.16 L409.70,329.53 L410.05,329.39 L410.40,329.34 L410.75,329.49 L411.10,328.56 L411.45,326.94 L411.80,328.44 L412.15,325.41 L412.50,326.25 L412.85,327.18 L413.20,324.75 L413.55,328.20 L413.90,325.12 L414.25,324.36 L414.60,325.06 L414.95,324.89 L415.30,325.65 L415.65,325.34 L416.00,326.69 L416.35,325.05 L416.70,325.34 L417.05,323.71 L417.40,325.48 L417.75,323.69 L418.10,322.01 L418.45,326.14 L418.80,322.87 L419.15,322.68 L419.50,322.81 L419.85,324.70 L420.20,321.46 L420.55,322.69 L420.90,323.74 L421.25,325.32 L421.60,321.80 L421.95,321.96 L422.30,320.22 L422.65,324.24 L423.00,320.63 L423.35,320.41 L423.70,320.39 L424.05,318.33 L424.40,319.45 L424.75,317.03 L425.10,321.29 L425.45,318.18 L425.80,317.81 L426.15,319.80 L426.50,315.32 L426.85,319.63 L427.20,319.57 L427.55,315.17 L427.90,317.52 L428.25,315.78 L428.60,317.30 L428.95,315.45 L429.30,313.38 L429.65,315.97 L430.00,314.06 L430.35,314.51 L430.70,315.69 L431.05,315.70 L431.40,313.98 L431.75,309.22 L432.10,312.90 L432.45,310.22 L432.80,312.49 L433.15,309.17 L433.50,312.06 L433.85,309.47 L434.20,307.66 L434.55,307.42 L434.90,301.36 L435.25,305.25 L435.60,302.50 L435.95,297.78 L436.30,299.92 L436.65,298.03 L437.00,296.46 L437.35,293.47 L437.70,294.30 L438.05,292.67 L438.40,288.92 L438.75,286.75 L439.10,283.83 L439.45,281.65 L439.80,283.69 L440.15,278.26 L440.50,273.63 L440.85,277.25 L441.20,278.37 L441.55,271.91 L441.90,274.06 L442.25,270.94 L442.60,263.87 L442.95,266.86 L443.30,263.57 L443.65,264.80 L444.00,250.16 L444.35,262.05 L444.70,260.06 L445.05,251.95 L445.40,258.04 L445.75,251.58 L446.10,251.31 L446.45,252.56 L446.80,253.13 L447.15,246.99 L447.50,247.76 L447.85,245.43 L448.20,239.43 L448.55,248.97 L448.90,245.98 L449.25,244.60 L449.60,249.77 L449.95,248.94 L450.30,245.89 L450.65,253.75 L451.00,251.92 L451.35,256.37 L451.70,260.05 L452.05,262.41 L452.40,268.29 L452.75,264.48 L453.10,265.70 L453.45,266.38 L453.80,269.45 L454.15,276.56 L454.50,278.39 L454.85,276.86 L455.20,280.24 L455.55,283.00 L455.90,290.91 L456.25,285.13 L456.60,290.59 L456.95,286.54 L457.30,292.22 L457.65,298.48 L458.00,293.46 L458.35,302.03 L458.70,296.70 L459.05,303.87 L459.40,303.51 L459.75,308.15 L460.10,309.43 L460.45,312.85 L460.80,312.68 L461.15,313.36 L461.50,312.87 L461.85,315.67 L462.20,314.24 L462.55,315.44 L462.90,316.32 L463.25,319.10 L463.60,322.55 L463.95,319.21 L464.30,323.00 L464.65,318.85 L465.00,320.11 L465.35,322.40 L465.70,323.08 L466.05,323.85 L466.40,325.53 L466.75,323.62 L467.10,325.90 L467.45,325.31 L467.80,321.90 L468.15,324.53 L468.50,325.36 L468.85,326.36 L469.20,327.08 L469.55,326.39 L469.90,328.41 L470.25,326.10 L470.60,327.38 L470.95,328.62 L471.30,326.70 L471.65,329.38 L472.00,329.19 L472.35,327.91 L472.70,327.53 L473.05,326.64 L473.40,325.92 L473.75,326.64 L474.10,324.90 L474.45,321.44 L474.80,320.32 L475.15,322.82 L475.50,317.83 L475.85,319.91 L476.20,322.13 L476.55,323.80 L476.90,326.44 L477.25,325.74 L477.60,330.48 L477.95,327.43 L478.30,328.83 L478.65,329.51 L479.00,328.80 L479.35,330.06 L479.70,329.99 L480.05,329.93 L480.40,329.49 L480.75,329.94 L481.10,331.15 L481.45,330.79 L481.80,331.36 L482.15,331.62 L482.50,331.79 L482.85,331.85 L483.20,332.29 L483.55,332.46 L483.90,332.70 L484.25,332.30 L484.60,331.75 L484.95,331.69 L485.30,332.39 L485.65,331.26 L486.00,331.79 L486.35,332.61 L486.70,331.90 L487.05,331.74 L487.40,332.70 L487.75,330.72 L488.10,332.06 L488.45,331.87 L488.80,331.86 L489.15,332.58 L489.50,332.70 L489.85,332.70 L490.20,332.45 L490.55,332.30 L490.90,332.02 L491.25,332.15 L491.60,331.33 L491.95,331.89 L492.30,332.46 L492.65,332.11 L493.00,332.59 L493.35,331.40 L493.70,331.90 L494.05,331.69 L494.40,332.70 L494.75,332.07 L495.10,332.06 L495.45,331.61 L495.80,331.97 L496.15,331.73 L496.50,331.95 L496.85,332.70 L497.20,331.68 L497.55,332.12 L497.90,331.82 L498.25,332.70 L498.60,331.79 L498.95,331.85 L499.30,332.45 L499.65,332.70 L500.00,332.39 L500.35,332.01 L500.70,331.07 L501.05,330.57 L501.40,332.26 L501.75,332.32" fill="none" stroke="#000" stroke-width="0.75" stroke-linejoin="round"/>
<path d="M353.9,333 V304" stroke="#9a9a9a" stroke-width="1" fill="none"/>
<path d="M353,190.5 H502 V333" fill="none" stroke="#b4b4b4" stroke-width="1.3"/>
<path d="M353,190.5 V333 H502" fill="none" stroke="#8c8c8c" stroke-width="1.6"/>
<text x="350.90" y="333.00" font-size="9.2" text-anchor="middle" fill="#000" transform="rotate(-90 350.90 333.00)" class="t">0</text>
<text x="350.90" y="304.50" font-size="9.2" text-anchor="middle" fill="#000" transform="rotate(-90 350.90 304.50)" class="t">30</text>
<text x="350.90" y="276.00" font-size="9.2" text-anchor="middle" fill="#000" transform="rotate(-90 350.90 276.00)" class="t">60</text>
<text x="350.90" y="247.50" font-size="9.2" text-anchor="middle" fill="#000" transform="rotate(-90 350.90 247.50)" class="t">90</text>
<text x="350.90" y="219.00" font-size="9.2" text-anchor="middle" fill="#000" transform="rotate(-90 350.90 219.00)" class="t">120</text>
<text x="350.90" y="190.50" font-size="9.2" text-anchor="middle" fill="#000" transform="rotate(-90 350.90 190.50)" class="t">150</text>
<text x="337.60" y="261.75" font-size="9.8" text-anchor="middle" fill="#000" transform="rotate(-90 337.60 261.75)" class="t">Counts</text>
<text x="353.00" y="344.90" font-size="8.2" text-anchor="middle" textLength="14.60" lengthAdjust="spacingAndGlyphs" fill="#000" class="t">10<tspan font-size="7.6" dy="-4.0">0</tspan></text>
<text x="390.25" y="344.90" font-size="8.2" text-anchor="middle" textLength="14.60" lengthAdjust="spacingAndGlyphs" fill="#000" class="t">10<tspan font-size="7.6" dy="-4.0">1</tspan></text>
<text x="427.50" y="344.90" font-size="8.2" text-anchor="middle" textLength="14.60" lengthAdjust="spacingAndGlyphs" fill="#000" class="t">10<tspan font-size="7.6" dy="-4.0">2</tspan></text>
<text x="464.75" y="344.90" font-size="8.2" text-anchor="middle" textLength="14.60" lengthAdjust="spacingAndGlyphs" fill="#000" class="t">10<tspan font-size="7.6" dy="-4.0">3</tspan></text>
<text x="502.00" y="344.90" font-size="8.2" text-anchor="middle" textLength="14.60" lengthAdjust="spacingAndGlyphs" fill="#000" class="t">10<tspan font-size="7.6" dy="-4.0">4</tspan></text>
<text x="416.70" y="356.40" font-size="10" textLength="25.20" lengthAdjust="spacingAndGlyphs" fill="#000" class="t">CD99</text>
<text x="364.90" y="210.00" font-size="10.4" textLength="55.90" lengthAdjust="spacingAndGlyphs" fill="#000" class="t">CD19<tspan font-size="8.4" dy="-4.4">+</tspan><tspan dy="4.4"> cells</tspan></text>
<path d="M154.00,491.32 L154.22,491.56 L154.44,492.56 L154.66,497.47 L154.88,491.65 L155.10,491.69 L155.32,493.72 L155.54,499.44 L155.76,491.98 L155.98,492.65 L156.20,495.47 L156.42,495.25 L156.64,495.95 L156.86,492.76 L157.08,491.48 L157.30,490.08 L157.52,495.40 L157.74,493.55 L157.96,495.53 L158.18,494.19 L158.40,498.51 L158.62,495.76 L158.84,494.29 L159.06,493.80 L159.28,491.87 L159.50,492.17 L159.72,492.30 L159.94,498.32 L160.16,492.53 L160.38,491.08 L160.60,493.78 L160.82,495.29 L161.04,488.99 L161.26,484.85 L161.48,491.67 L161.70,495.95 L161.92,490.06 L162.14,494.45 L162.36,493.36 L162.58,494.54 L162.80,490.01 L163.02,490.98 L163.24,497.64 L163.46,494.56 L163.68,483.81 L163.90,496.59 L164.12,499.19 L164.34,491.56 L164.56,495.28 L164.78,489.72 L165.00,492.83 L165.22,493.01 L165.44,490.69 L165.66,495.90 L165.88,494.75 L166.10,495.13 L166.32,496.07 L166.54,485.86 L166.76,494.34 L166.98,487.93 L167.20,491.92 L167.42,493.24 L167.64,489.83 L167.86,493.90 L168.08,489.11 L168.30,492.11 L168.52,496.55 L168.74,490.47 L168.96,494.33 L169.18,488.72 L169.40,494.74 L169.62,487.99 L169.84,490.38 L170.06,487.99 L170.28,494.29 L170.50,490.04 L170.72,491.44 L170.94,493.99 L171.16,496.07 L171.38,494.83 L171.60,492.03 L171.82,497.58 L172.04,495.50 L172.26,491.91 L172.48,498.70 L172.70,488.97 L172.92,491.63 L173.14,496.39 L173.36,494.32 L173.58,493.41 L173.80,490.50 L174.02,488.18 L174.24,490.12 L174.46,493.07 L174.68,489.48 L174.90,486.22 L175.12,489.67 L175.34,498.32 L175.56,494.09 L175.78,498.05 L176.00,490.71 L176.22,489.90 L176.44,488.48 L176.66,496.55 L176.88,487.13 L177.10,489.61 L177.32,492.17 L177.54,484.64 L177.76,487.43 L177.98,486.23 L178.20,488.41 L178.42,490.78 L178.64,485.58 L178.86,489.86 L179.08,485.63 L179.30,487.47 L179.52,486.64 L179.74,484.26 L179.96,481.23 L180.18,485.41 L180.40,485.10 L180.62,493.73 L180.84,490.49 L181.06,490.09 L181.28,483.07 L181.50,490.09 L181.72,488.52 L181.94,485.14 L182.16,489.70 L182.38,485.09 L182.60,485.06 L182.82,482.75 L183.04,479.29 L183.26,487.07 L183.48,476.70 L183.70,482.75 L183.92,476.10 L184.14,481.09 L184.36,476.37 L184.58,483.61 L184.80,477.46 L185.02,477.66 L185.24,475.68 L185.46,475.72 L185.68,475.25 L185.90,483.38 L186.12,478.49 L186.34,473.37 L186.56,482.67 L186.78,478.24 L187.00,480.42 L187.22,481.27 L187.44,472.57 L187.66,474.72 L187.88,478.18 L188.10,485.10 L188.32,482.58 L188.54,471.79 L188.76,472.21 L188.98,485.14 L189.20,480.12 L189.42,484.09 L189.64,485.08 L189.86,473.04 L190.08,484.56 L190.30,481.15 L190.52,481.75 L190.74,490.74 L190.96,483.44 L191.18,481.82 L191.40,479.32 L191.62,492.28 L191.84,489.06 L192.06,482.69 L192.28,488.56 L192.50,489.98 L192.72,482.49 L192.94,491.67 L193.16,488.08 L193.38,495.16 L193.60,489.65 L193.82,492.17 L194.04,485.33 L194.26,490.31 L194.48,490.60 L194.70,500.90 L194.92,494.47 L195.14,496.51 L195.36,493.88 L195.58,495.05 L195.80,498.15 L196.02,505.82 L196.24,496.95 L196.46,504.48 L196.68,504.50 L196.90,501.22 L197.12,503.20 L197.34,504.87 L197.56,499.80 L197.78,502.08 L198.00,501.31 L198.22,503.24 L198.44,506.15 L198.66,510.68 L198.88,507.60 L199.10,507.40 L199.32,501.06 L199.54,510.07 L199.76,505.77 L199.98,509.54 L200.20,509.70 L200.42,511.88 L200.64,508.20 L200.86,510.27 L201.08,510.05 L201.30,509.60 L201.52,512.63 L201.74,510.37 L201.96,510.96 L202.18,513.06 L202.40,514.36 L202.62,506.61 L202.84,512.94 L203.06,512.89 L203.28,518.55 L203.50,506.76 L203.72,514.01 L203.94,514.40 L204.16,513.54 L204.38,516.53 L204.60,514.69 L204.82,514.57 L205.04,511.13 L205.26,515.50 L205.48,515.86 L205.70,517.69 L205.92,515.57 L206.14,518.27 L206.36,518.73 L206.58,514.70 L206.80,517.71 L207.02,514.26 L207.24,514.06 L207.46,517.51 L207.68,517.35 L207.90,516.42 L208.12,515.41 L208.34,515.03 L208.56,517.21 L208.78,516.32 L209.00,518.37 L209.22,518.53 L209.44,515.75 L209.66,516.95 L209.88,516.46 L210.10,517.38 L210.32,516.94 L210.54,516.14 L210.76,516.20 L210.98,516.60 L211.20,517.36 L211.42,515.15 L211.64,517.22 L211.86,519.12 L212.08,518.47 L212.30,517.23 L212.52,516.08 L212.74,520.35 L212.96,519.14 L213.18,519.56 L213.40,518.36 L213.62,518.41 L213.84,517.18 L214.06,516.93 L214.28,518.42 L214.50,518.96 L214.72,518.58 L214.94,517.71 L215.16,517.60 L215.38,518.80 L215.60,519.20 L215.82,518.32 L216.04,517.54 L216.26,519.65 L216.48,519.13 L216.70,517.06 L216.92,517.85 L217.14,520.10 L217.36,518.75 L217.58,517.49 L217.80,518.94 L218.02,519.23 L218.24,519.44 L218.46,518.56 L218.68,518.56 L218.90,518.88 L219.12,519.46 L219.34,519.21 L219.56,520.32 L219.78,516.99 L220.00,518.31 L220.22,519.23 L220.44,519.50 L220.66,520.64 L220.88,519.59 L221.10,519.06 L221.32,517.48 L221.54,519.30 L221.76,519.21 L221.98,520.36 L222.20,519.21 L222.42,519.27 L222.64,518.66 L222.86,518.77 L223.08,519.68 L223.30,519.24 L223.52,518.78 L223.74,518.92 L223.96,519.62 L224.18,519.61 L224.40,520.30 L224.62,518.62 L224.84,520.11 L225.06,520.70 L225.28,519.27 L225.50,519.32 L225.72,520.57 L225.94,517.65 L226.16,519.61 L226.38,519.13 L226.60,520.70 L226.82,520.70 L227.04,520.53 L227.26,520.39 L227.48,520.36 L227.70,520.70 L227.92,520.23 L228.14,520.31 L228.36,519.33 L228.58,518.69 L228.80,518.65 L229.02,520.10 L229.24,519.95 L229.46,520.40 L229.68,518.58 L229.90,520.64 L230.12,519.41 L230.34,518.70 L230.56,520.55 L230.78,519.54 L231.00,518.89 L231.22,520.24 L231.44,520.18 L231.66,519.41 L231.88,520.08 L232.10,520.67 L232.32,519.49 L232.54,520.53 L232.76,519.46 L232.98,518.82 L233.20,519.73 L233.42,520.27 L233.64,520.00 L233.86,519.62 L234.08,520.49 L234.30,518.80 L234.52,519.42 L234.74,519.87 L234.96,519.82 L235.18,519.93 L235.40,519.97 L235.62,520.70 L235.84,518.54 L236.06,519.81 L236.28,520.70 L236.50,519.70 L236.72,519.80 L236.94,520.50 L237.16,519.76 L237.38,520.37 L237.60,519.35 L237.82,519.90 L238.04,520.41 L238.26,520.41 L238.48,520.07 L238.70,519.53 L238.92,520.01 L239.14,517.87 L239.36,519.35 L239.58,519.57 L239.80,519.76 L240.02,520.70 L240.24,519.66 L240.46,519.91 L240.68,520.70 L240.90,520.53 L241.12,519.76 L241.34,519.59 L241.56,519.39 L241.78,519.49 L242.00,520.12 L242.22,520.70 L242.44,519.17 L242.66,519.69 L242.88,520.70 L243.10,518.87 L243.32,519.60 L243.54,520.53 L243.76,519.25 L243.98,518.30 L244.20,520.33 L244.42,519.65 L244.64,520.70 L244.86,519.75 L245.08,520.50 L245.30,519.90 L245.52,520.70 L245.74,519.38 L245.96,520.64 L246.18,519.56 L246.40,519.58 L246.62,520.70 L246.84,519.44 L247.06,520.70 L247.28,518.98 L247.50,520.70 L247.72,520.70 L247.94,520.70 L248.16,519.57 L248.38,520.10 L248.60,518.06 L248.82,520.70 L249.04,518.41 L249.26,520.24 L249.48,519.90 L249.70,519.54 L249.92,520.31 L250.14,518.99 L250.36,520.70 L250.58,520.70 L250.80,520.46 L251.02,520.05 L251.24,519.36 L251.46,520.20 L251.68,520.06 L251.90,519.06 L252.12,520.45 L252.34,519.42 L252.56,519.72 L252.78,519.11 L253.00,520.66 L253.22,519.09 L253.44,519.14 L253.66,518.96 L253.88,520.70 L254.10,519.90 L254.32,519.82 L254.54,520.20 L254.76,519.19 L254.98,520.70 L255.20,519.93 L255.42,518.08 L255.64,519.74 L255.86,519.56 L256.08,518.90 L256.30,520.70 L256.52,519.78 L256.74,520.70 L256.96,520.70 L257.18,520.70 L257.40,520.06 L257.62,520.24 L257.84,519.89 L258.06,520.08 L258.28,519.30 L258.50,520.50 L258.72,518.88 L258.94,519.44 L259.16,520.43 L259.38,520.18 L259.60,519.69 L259.82,520.48 L260.04,520.19 L260.26,518.61 L260.48,520.70 L260.70,519.58 L260.92,520.70 L261.14,519.33 L261.36,519.58 L261.58,518.70 L261.80,520.14 L262.02,519.96 L262.24,518.25 L262.46,519.43 L262.68,518.46 L262.90,520.15 L263.12,519.88 L263.34,520.16 L263.56,520.47 L263.78,520.70 L264.00,520.33 L264.22,520.27 L264.44,519.35 L264.66,519.30 L264.88,520.10 L265.10,520.46 L265.32,519.67 L265.54,520.67 L265.76,520.70 L265.98,520.53 L266.20,520.69 L266.42,520.70 L266.64,520.70 L266.86,520.25 L267.08,519.89 L267.30,519.92 L267.52,519.43 L267.74,518.87 L267.96,520.05 L268.18,519.83 L268.40,520.40 L268.62,518.59 L268.84,520.18 L269.06,519.80 L269.28,520.70 L269.50,519.54 L269.72,520.70 L269.94,519.11 L270.16,520.25 L270.38,519.53 L270.60,519.95 L270.82,519.20 L271.04,519.32 L271.26,520.41 L271.48,520.70 L271.70,520.61 L271.92,520.04 L272.14,520.70 L272.36,520.45 L272.58,519.25 L272.80,520.70 L273.02,519.71 L273.24,520.10 L273.46,520.26 L273.68,520.18 L273.90,520.47 L274.12,519.87 L274.34,519.42 L274.56,520.70 L274.78,519.72 L275.00,520.70 L275.22,520.70 L275.44,520.70 L275.66,520.05 L275.88,518.27 L276.10,520.11 L276.32,520.29 L276.54,519.65 L276.76,520.70 L276.98,520.52 L277.20,519.53 L277.42,520.70 L277.64,519.28 L277.86,520.70 L278.08,518.86 L278.30,520.01 L278.52,519.23 L278.74,520.11 L278.96,518.95 L279.18,519.70 L279.40,519.80 L279.62,519.98 L279.84,520.70 L280.06,518.83 L280.28,519.47 L280.50,519.29 L280.72,520.70 L280.94,519.97 L281.16,519.25 L281.38,519.37 L281.60,520.38 L281.82,519.59 L282.04,519.37 L282.26,520.15 L282.48,518.94 L282.70,520.32 L282.92,519.99 L283.14,520.44 L283.36,520.27 L283.58,520.10 L283.80,519.32 L284.02,519.56 L284.24,519.73 L284.46,519.64 L284.68,518.84 L284.90,520.11 L285.12,520.24 L285.34,518.43 L285.56,519.62 L285.78,520.46 L286.00,520.50 L286.22,519.28 L286.44,520.31 L286.66,519.27 L286.88,519.66 L287.10,520.70 L287.32,519.94 L287.54,518.55 L287.76,520.44 L287.98,520.12 L288.20,519.13 L288.42,520.32 L288.64,519.79 L288.86,520.70 L289.08,519.15 L289.30,519.81 L289.52,520.48 L289.74,520.19 L289.96,519.21 L290.18,520.70 L290.40,519.87 L290.62,520.47 L290.84,519.75 L291.06,520.08 L291.28,519.90 L291.50,519.88 L291.72,519.93 L291.94,520.63 L292.16,520.02 L292.38,519.60 L292.60,519.98 L292.82,520.70 L293.04,518.32 L293.26,519.51 L293.48,519.89 L293.70,520.70 L293.92,519.80 L294.14,519.05 L294.36,519.50 L294.58,520.46 L294.80,520.70 L295.02,519.29 L295.24,519.90 L295.46,520.70 L295.68,520.17 L295.90,519.29 L296.12,520.08 L296.34,519.82 L296.56,520.17 L296.78,519.90 L297.00,520.63 L297.22,519.15 L297.44,520.70 L297.66,520.62 L297.88,519.87 L298.10,520.17 L298.32,519.57 L298.54,520.70 L298.76,519.81 L298.98,519.59 L299.20,519.90 L299.42,520.33 L299.64,520.70 L299.86,520.70 L300.08,519.49 L300.30,520.59 L300.52,519.98 L300.74,520.06 L300.96,520.70 L301.18,520.47 L301.40,520.42 L301.62,519.96 L301.84,520.70 L302.06,520.70 L302.28,519.91 L302.50,520.61 L302.72,518.02 L302.94,519.86 L303.16,519.86 L303.38,520.24 L303.60,520.46 L303.82,520.08 L304.04,520.37 L304.26,518.88 L304.48,519.81 L304.70,519.51 L304.92,519.10 L305.14,520.70 L305.36,520.24 L305.58,519.91 L305.80,520.70 L306.02,520.06 L306.24,520.70 L306.46,520.22 L306.68,520.70 L306.90,520.40 L307.12,519.48 L307.34,519.59 L307.56,520.43 L307.78,520.70 L308.00,519.61 L308.22,520.46 L308.44,518.44 L308.66,519.66 L308.88,519.69 L309.10,520.25 L309.32,520.70 L309.54,520.21 L309.76,520.24 L309.98,519.65 L310.20,519.19 L310.42,520.25 L310.64,520.61 L310.86,519.24 L311.08,520.70 L311.30,520.65 L311.52,519.55 L311.74,520.60 L311.96,520.44 L312.18,520.30 L312.40,519.39 L312.62,519.80 L312.84,520.31 L313.06,519.86 L313.28,520.70 L313.50,519.57 L313.72,520.22 L313.94,520.70" fill="none" stroke="#5a5a5a" stroke-width="0.6" stroke-linejoin="round"/>
<path d="M154.00,519.65 L154.35,520.32 L154.70,520.20 L155.05,520.42 L155.40,519.60 L155.75,520.70 L156.10,520.24 L156.45,519.67 L156.80,519.59 L157.15,519.61 L157.50,519.88 L157.85,520.70 L158.20,520.60 L158.55,519.96 L158.90,519.95 L159.25,520.70 L159.60,520.60 L159.95,519.84 L160.30,520.13 L160.65,520.01 L161.00,520.27 L161.35,520.59 L161.70,520.08 L162.05,520.37 L162.40,520.45 L162.75,520.55 L163.10,519.92 L163.45,520.10 L163.80,520.70 L164.15,520.12 L164.50,520.21 L164.85,520.40 L165.20,519.94 L165.55,520.03 L165.90,520.70 L166.25,520.70 L166.60,519.70 L166.95,520.23 L167.30,519.62 L167.65,519.51 L168.00,520.20 L168.35,520.70 L168.70,520.16 L169.05,520.70 L169.40,519.73 L169.75,520.26 L170.10,520.24 L170.45,520.24 L170.80,520.65 L171.15,520.46 L171.50,519.95 L171.85,519.59 L172.20,519.95 L172.55,520.19 L172.90,519.95 L173.25,519.52 L173.60,519.41 L173.95,520.56 L174.30,520.32 L174.65,519.94 L175.00,520.40 L175.35,520.42 L175.70,520.10 L176.05,520.01 L176.40,520.70 L176.75,520.58 L177.10,520.70 L177.45,520.65 L177.80,520.32 L178.15,520.00 L178.50,520.05 L178.85,519.93 L179.20,520.23 L179.55,520.29 L179.90,520.70 L180.25,520.70 L180.60,520.19 L180.95,520.37 L181.30,519.67 L181.65,519.90 L182.00,519.71 L182.35,520.26 L182.70,519.96 L183.05,519.85 L183.40,520.19 L183.75,519.36 L184.10,520.16 L184.45,520.40 L184.80,520.70 L185.15,519.67 L185.50,520.00 L185.85,519.28 L186.20,520.70 L186.55,520.10 L186.90,520.30 L187.25,519.51 L187.60,520.08 L187.95,519.91 L188.30,519.64 L188.65,519.66 L189.00,519.76 L189.35,519.79 L189.70,519.39 L190.05,520.70 L190.40,520.16 L190.75,520.23 L191.10,520.22 L191.45,520.05 L191.80,520.12 L192.15,520.39 L192.50,520.02 L192.85,520.70 L193.20,520.05 L193.55,520.66 L193.90,519.74 L194.25,520.27 L194.60,520.45 L194.95,520.70 L195.30,520.70 L195.65,519.71 L196.00,519.86 L196.35,520.70 L196.70,519.98 L197.05,519.47 L197.40,520.64 L197.75,520.41 L198.10,519.61 L198.45,519.88 L198.80,520.70 L199.15,519.95 L199.50,519.90 L199.85,519.96 L200.20,520.70 L200.55,519.41 L200.90,520.29 L201.25,520.17 L201.60,520.32 L201.95,520.43 L202.30,520.12 L202.65,520.36 L203.00,520.30 L203.35,520.70 L203.70,519.12 L204.05,520.06 L204.40,520.17 L204.75,519.55 L205.10,520.70 L205.45,520.38 L205.80,519.41 L206.15,520.04 L206.50,520.47 L206.85,520.21 L207.20,519.84 L207.55,520.44 L207.90,520.31 L208.25,519.78 L208.60,520.08 L208.95,520.70 L209.30,520.70 L209.65,519.77 L210.00,519.91 L210.35,520.70 L210.70,520.45 L211.05,520.21 L211.40,520.06 L211.75,520.28 L212.10,520.60 L212.45,519.17 L212.80,520.57 L213.15,519.80 L213.50,519.62 L213.85,519.91 L214.20,519.72 L214.55,519.76 L214.90,520.22 L215.25,520.01 L215.60,520.63 L215.95,519.52 L216.30,520.55 L216.65,519.67 L217.00,520.27 L217.35,520.06 L217.70,520.61 L218.05,519.65 L218.40,520.24 L218.75,520.70 L219.10,520.70 L219.45,520.09 L219.80,520.55 L220.15,520.69 L220.50,520.44 L220.85,520.70 L221.20,520.66 L221.55,519.23 L221.90,520.50 L222.25,520.70 L222.60,520.06 L222.95,520.09 L223.30,520.25 L223.65,519.87 L224.00,520.08 L224.35,520.18 L224.70,520.70 L225.05,520.12 L225.40,520.48 L225.75,520.14 L226.10,519.81 L226.45,519.93 L226.80,519.73 L227.15,520.70 L227.50,520.11 L227.85,519.58 L228.20,520.21 L228.55,520.70 L228.90,520.34 L229.25,520.20 L229.60,520.35 L229.95,520.05 L230.30,519.76 L230.65,520.70 L231.00,518.74 L231.35,519.98 L231.70,519.82 L232.05,520.12 L232.40,519.89 L232.75,520.70 L233.10,520.70 L233.45,520.28 L233.80,519.65 L234.15,519.89 L234.50,520.05 L234.85,519.81 L235.20,519.66 L235.55,520.70 L235.90,520.63 L236.25,519.78 L236.60,519.82 L236.95,520.24 L237.30,519.91 L237.65,520.47 L238.00,520.56 L238.35,520.23 L238.70,519.80 L239.05,520.07 L239.40,519.48 L239.75,520.04 L240.10,520.70 L240.45,519.96 L240.80,520.51 L241.15,520.70 L241.50,520.70 L241.85,519.61 L242.20,520.11 L242.55,519.95 L242.90,520.70 L243.25,520.69 L243.60,519.73 L243.95,519.96 L244.30,520.36 L244.65,520.70 L245.00,520.03 L245.35,520.70 L245.70,519.74 L246.05,519.51 L246.40,520.44 L246.75,519.63 L247.10,519.20 L247.45,520.55 L247.80,520.20 L248.15,519.20 L248.50,520.26 L248.85,520.00 L249.20,520.03 L249.55,519.12 L249.90,519.43 L250.25,518.42 L250.60,518.31 L250.95,519.88 L251.30,519.01 L251.65,519.30 L252.00,518.91 L252.35,518.59 L252.70,518.47 L253.05,519.03 L253.40,518.40 L253.75,517.36 L254.10,519.15 L254.45,519.24 L254.80,518.67 L255.15,519.11 L255.50,518.00 L255.85,517.76 L256.20,518.53 L256.55,517.94 L256.90,516.39 L257.25,517.11 L257.60,517.22 L257.95,518.92 L258.30,516.91 L258.65,515.95 L259.00,515.30 L259.35,515.76 L259.70,514.85 L260.05,514.96 L260.40,513.59 L260.75,512.46 L261.10,513.52 L261.45,513.82 L261.80,513.07 L262.15,510.38 L262.50,511.11 L262.85,511.72 L263.20,510.16 L263.55,507.93 L263.90,507.29 L264.25,506.40 L264.60,506.64 L264.95,504.99 L265.30,505.76 L265.65,504.72 L266.00,504.12 L266.35,504.68 L266.70,504.24 L267.05,501.43 L267.40,501.05 L267.75,502.74 L268.10,499.79 L268.45,497.21 L268.80,497.65 L269.15,495.82 L269.50,497.05 L269.85,496.50 L270.20,498.28 L270.55,495.53 L270.90,495.09 L271.25,496.16 L271.60,493.48 L271.95,488.46 L272.30,488.89 L272.65,486.05 L273.00,485.69 L273.35,487.60 L273.70,490.23 L274.05,483.08 L274.40,479.58 L274.75,474.88 L275.10,475.56 L275.45,476.98 L275.80,467.28 L276.15,467.61 L276.50,465.40 L276.85,462.33 L277.20,463.58 L277.55,451.63 L277.90,447.95 L278.25,438.28 L278.60,435.18 L278.95,427.77 L279.30,425.83 L279.65,422.28 L280.00,421.99 L280.35,425.76 L280.70,426.38 L281.05,430.85 L281.40,437.33 L281.75,446.77 L282.10,454.25 L282.45,461.42 L282.80,475.93 L283.15,480.71 L283.50,490.75 L283.85,496.66 L284.20,504.59 L284.55,509.61 L284.90,511.29 L285.25,515.64 L285.60,519.14 L285.95,519.25 L286.30,518.90 L286.65,520.70 L287.00,519.11 L287.35,520.02 L287.70,519.06 L288.05,520.05 L288.40,519.57 L288.75,519.94 L289.10,519.79 L289.45,518.88 L289.80,518.82 L290.15,519.24 L290.50,520.17 L290.85,519.87 L291.20,520.35 L291.55,520.37 L291.90,520.63 L292.25,519.24 L292.60,519.13 L292.95,519.17 L293.30,520.47 L293.65,519.55 L294.00,519.93 L294.35,520.70 L294.70,519.59 L295.05,519.48 L295.40,519.32 L295.75,520.31 L296.10,520.35 L296.45,519.88 L296.80,519.65 L297.15,519.79 L297.50,520.05 L297.85,520.40 L298.20,519.37 L298.55,519.49 L298.90,520.33 L299.25,520.31 L299.60,519.92 L299.95,519.83 L300.30,520.41 L300.65,519.98 L301.00,519.07 L301.35,519.41 L301.70,520.29 L302.05,519.87 L302.40,520.16 L302.75,519.12 L303.10,520.52 L303.45,520.10 L303.80,519.89 L304.15,520.03 L304.50,519.84 L304.85,519.89 L305.20,518.92 L305.55,519.53 L305.90,520.54 L306.25,519.93 L306.60,519.62 L306.95,520.28 L307.30,520.70 L307.65,520.05 L308.00,520.46 L308.35,519.78 L308.70,519.25 L309.05,520.70 L309.40,519.76 L309.75,520.48 L310.10,520.60 L310.45,520.70 L310.80,519.89 L311.15,520.65 L311.50,519.72 L311.85,519.50 L312.20,519.43 L312.55,520.27 L312.90,519.52 L313.25,520.70 L313.60,520.68 L313.95,520.68" fill="none" stroke="#000" stroke-width="0.98" stroke-linejoin="round"/>
<path d="M154,381 H314 V521" fill="none" stroke="#b4b4b4" stroke-width="1.3"/>
<path d="M154,381 V521 H314" fill="none" stroke="#8c8c8c" stroke-width="1.6"/>
<text x="151.00" y="521.00" font-size="8.9" text-anchor="middle" fill="#000" transform="rotate(-90 151.00 521.00)" class="t">0</text>
<text x="151.00" y="493.00" font-size="8.9" text-anchor="middle" fill="#000" transform="rotate(-90 151.00 493.00)" class="t">40</text>
<text x="151.00" y="465.00" font-size="8.9" text-anchor="middle" fill="#000" transform="rotate(-90 151.00 465.00)" class="t">80</text>
<text x="151.00" y="437.00" font-size="8.9" text-anchor="middle" fill="#000" transform="rotate(-90 151.00 437.00)" class="t">120</text>
<text x="151.00" y="409.00" font-size="8.9" text-anchor="middle" fill="#000" transform="rotate(-90 151.00 409.00)" class="t">160</text>
<text x="151.00" y="381.00" font-size="8.9" text-anchor="middle" fill="#000" transform="rotate(-90 151.00 381.00)" class="t">200</text>
<text x="138.20" y="451.00" font-size="9.8" text-anchor="middle" fill="#000" transform="rotate(-90 138.20 451.00)" class="t">Counts</text>
<text x="154.00" y="533.70" font-size="9.6" text-anchor="middle" textLength="15.00" lengthAdjust="spacingAndGlyphs" fill="#000" class="t">10<tspan font-size="8.8" dy="-4.2">0</tspan></text>
<text x="194.00" y="533.70" font-size="9.6" text-anchor="middle" textLength="15.00" lengthAdjust="spacingAndGlyphs" fill="#000" class="t">10<tspan font-size="8.8" dy="-4.2">1</tspan></text>
<text x="234.00" y="533.70" font-size="9.6" text-anchor="middle" textLength="15.00" lengthAdjust="spacingAndGlyphs" fill="#000" class="t">10<tspan font-size="8.8" dy="-4.2">2</tspan></text>
<text x="274.00" y="533.70" font-size="9.6" text-anchor="middle" textLength="15.00" lengthAdjust="spacingAndGlyphs" fill="#000" class="t">10<tspan font-size="8.8" dy="-4.2">3</tspan></text>
<text x="314.00" y="533.70" font-size="9.6" text-anchor="middle" textLength="15.00" lengthAdjust="spacingAndGlyphs" fill="#000" class="t">10<tspan font-size="8.8" dy="-4.2">4</tspan></text>
<text x="216.90" y="543.50" font-size="10" textLength="33.30" lengthAdjust="spacingAndGlyphs" fill="#000" class="t">CD99L2</text>
<text x="159.20" y="396.00" font-size="10" textLength="66.80" lengthAdjust="spacingAndGlyphs" fill="#000" class="t">Gr-1<tspan font-size="6.6" dy="-4.6">high</tspan><tspan dy="4.6">7/4</tspan><tspan font-size="6.8" dy="-4.3">+</tspan><tspan dy="4.3"> cells</tspan></text>
<path d="M353.00,508.10 L353.22,505.92 L353.44,508.51 L353.66,503.85 L353.88,510.75 L354.10,506.53 L354.32,508.14 L354.54,508.65 L354.76,507.39 L354.98,507.17 L355.20,503.61 L355.42,506.18 L355.64,505.26 L355.86,506.41 L356.08,500.07 L356.30,502.60 L356.52,505.44 L356.74,506.63 L356.96,505.46 L357.18,503.25 L357.40,504.34 L357.62,504.63 L357.84,498.30 L358.06,503.58 L358.28,503.54 L358.50,503.66 L358.72,505.93 L358.94,502.35 L359.16,506.05 L359.38,505.65 L359.60,505.85 L359.82,505.30 L360.04,507.15 L360.26,509.40 L360.48,503.92 L360.70,502.31 L360.92,505.00 L361.14,509.30 L361.36,504.14 L361.58,503.42 L361.80,502.31 L362.02,501.15 L362.24,501.03 L362.46,510.85 L362.68,501.85 L362.90,500.57 L363.12,502.87 L363.34,505.30 L363.56,500.63 L363.78,501.46 L364.00,503.06 L364.22,505.26 L364.44,499.97 L364.66,503.55 L364.88,507.60 L365.10,500.46 L365.32,499.85 L365.54,503.66 L365.76,504.59 L365.98,501.70 L366.20,502.61 L366.42,504.00 L366.64,504.51 L366.86,502.55 L367.08,504.45 L367.30,497.60 L367.52,502.83 L367.74,499.96 L367.96,503.92 L368.18,502.34 L368.40,506.34 L368.62,502.47 L368.84,502.44 L369.06,502.77 L369.28,503.80 L369.50,500.93 L369.72,498.40 L369.94,498.98 L370.16,502.75 L370.38,505.87 L370.60,498.99 L370.82,503.19 L371.04,497.27 L371.26,502.89 L371.48,499.63 L371.70,500.66 L371.92,504.27 L372.14,506.34 L372.36,499.55 L372.58,497.53 L372.80,497.75 L373.02,501.14 L373.24,499.62 L373.46,498.57 L373.68,497.23 L373.90,499.30 L374.12,497.87 L374.34,502.60 L374.56,498.53 L374.78,503.50 L375.00,501.93 L375.22,501.50 L375.44,499.93 L375.66,495.34 L375.88,501.29 L376.10,502.41 L376.32,498.08 L376.54,494.70 L376.76,495.14 L376.98,495.45 L377.20,494.94 L377.42,502.97 L377.64,498.38 L377.86,501.05 L378.08,495.69 L378.30,500.43 L378.52,499.38 L378.74,500.47 L378.96,495.45 L379.18,496.78 L379.40,494.65 L379.62,492.57 L379.84,493.50 L380.06,496.44 L380.28,495.56 L380.50,493.95 L380.72,494.28 L380.94,499.18 L381.16,497.96 L381.38,498.78 L381.60,497.60 L381.82,496.19 L382.04,498.92 L382.26,495.78 L382.48,494.83 L382.70,495.92 L382.92,497.28 L383.14,492.19 L383.36,493.66 L383.58,490.98 L383.80,494.55 L384.02,493.05 L384.24,498.10 L384.46,490.02 L384.68,493.16 L384.90,498.23 L385.12,499.42 L385.34,484.76 L385.56,493.45 L385.78,486.77 L386.00,488.89 L386.22,493.16 L386.44,492.66 L386.66,498.33 L386.88,489.19 L387.10,492.28 L387.32,492.17 L387.54,492.88 L387.76,488.01 L387.98,492.88 L388.20,484.51 L388.42,486.34 L388.64,488.15 L388.86,490.70 L389.08,485.87 L389.30,488.66 L389.52,493.90 L389.74,482.61 L389.96,487.68 L390.18,486.75 L390.40,476.82 L390.62,480.73 L390.84,483.88 L391.06,484.57 L391.28,479.81 L391.50,483.40 L391.72,485.60 L391.94,485.60 L392.16,486.34 L392.38,485.19 L392.60,490.20 L392.82,480.62 L393.04,489.75 L393.26,489.40 L393.48,487.32 L393.70,490.88 L393.92,483.99 L394.14,489.68 L394.36,489.83 L394.58,481.82 L394.80,485.51 L395.02,482.63 L395.24,486.95 L395.46,484.29 L395.68,485.77 L395.90,485.17 L396.12,491.06 L396.34,490.84 L396.56,492.58 L396.78,492.08 L397.00,486.62 L397.22,488.52 L397.44,490.63 L397.66,491.97 L397.88,489.82 L398.10,490.29 L398.32,491.57 L398.54,495.02 L398.76,489.33 L398.98,497.08 L399.20,492.04 L399.42,494.12 L399.64,492.76 L399.86,495.47 L400.08,497.65 L400.30,499.22 L400.52,493.70 L400.74,495.89 L400.96,498.11 L401.18,496.46 L401.40,491.78 L401.62,501.42 L401.84,496.55 L402.06,500.27 L402.28,497.39 L402.50,505.06 L402.72,496.79 L402.94,500.21 L403.16,503.05 L403.38,500.27 L403.60,494.53 L403.82,499.54 L404.04,497.06 L404.26,501.76 L404.48,498.09 L404.70,497.03 L404.92,500.12 L405.14,506.16 L405.36,506.97 L405.58,500.51 L405.80,503.65 L406.02,503.36 L406.24,498.79 L406.46,503.21 L406.68,500.25 L406.90,504.13 L407.12,505.49 L407.34,503.01 L407.56,505.11 L407.78,506.55 L408.00,500.70 L408.22,502.45 L408.44,502.75 L408.66,503.59 L408.88,508.62 L409.10,505.54 L409.32,507.39 L409.54,505.90 L409.76,504.73 L409.98,506.42 L410.20,507.02 L410.42,503.34 L410.64,504.52 L410.86,506.29 L411.08,504.03 L411.30,505.70 L411.52,505.73 L411.74,509.77 L411.96,506.73 L412.18,512.04 L412.40,505.59 L412.62,507.46 L412.84,507.83 L413.06,510.02 L413.28,504.64 L413.50,510.72 L413.72,510.55 L413.94,509.56 L414.16,509.74 L414.38,506.35 L414.60,510.13 L414.82,508.44 L415.04,511.81 L415.26,509.27 L415.48,509.53 L415.70,508.95 L415.92,510.23 L416.14,512.09 L416.36,513.56 L416.58,512.00 L416.80,511.10 L417.02,513.13 L417.24,510.33 L417.46,514.83 L417.68,512.07 L417.90,510.60 L418.12,511.74 L418.34,513.14 L418.56,512.94 L418.78,513.17 L419.00,515.05 L419.22,512.69 L419.44,514.04 L419.66,513.25 L419.88,511.93 L420.10,512.87 L420.32,514.69 L420.54,514.34 L420.76,514.12 L420.98,515.71 L421.20,513.81 L421.42,514.57 L421.64,515.07 L421.86,518.77 L422.08,514.75 L422.30,514.25 L422.52,515.15 L422.74,516.95 L422.96,516.63 L423.18,519.20 L423.40,519.32 L423.62,517.92 L423.84,516.46 L424.06,518.39 L424.28,516.89 L424.50,518.48 L424.72,515.66 L424.94,517.14 L425.16,518.62 L425.38,519.08 L425.60,517.62 L425.82,517.20 L426.04,520.04 L426.26,517.44 L426.48,517.63 L426.70,519.55 L426.92,518.10 L427.14,519.57 L427.36,519.90 L427.58,519.15 L427.80,518.79 L428.02,518.44 L428.24,517.95 L428.46,519.66 L428.68,519.86 L428.90,518.54 L429.12,518.01 L429.34,518.62 L429.56,519.07 L429.78,518.81 L430.00,519.11 L430.22,518.52 L430.44,518.91 L430.66,520.73 L430.88,518.91 L431.10,519.61 L431.32,521.20 L431.54,519.66 L431.76,518.23 L431.98,518.86 L432.20,518.75 L432.42,520.28 L432.64,519.54 L432.86,518.99 L433.08,518.80 L433.30,519.37 L433.52,521.01 L433.74,520.18 L433.96,518.60 L434.18,518.38 L434.40,520.08 L434.62,518.81 L434.84,519.12 L435.06,518.56 L435.28,521.20 L435.50,519.79 L435.72,519.51 L435.94,519.94 L436.16,519.09 L436.38,519.66 L436.60,519.49 L436.82,519.09 L437.04,520.89 L437.26,519.19 L437.48,519.59 L437.70,520.14 L437.92,520.35 L438.14,519.75 L438.36,519.71 L438.58,519.56 L438.80,519.87 L439.02,521.01 L439.24,518.82 L439.46,518.42 L439.68,519.99 L439.90,518.50 L440.12,520.78 L440.34,518.85 L440.56,519.59 L440.78,519.96 L441.00,519.43 L441.22,517.75 L441.44,520.97 L441.66,518.77 L441.88,518.91 L442.10,519.02 L442.32,519.16 L442.54,519.40 L442.76,518.09 L442.98,517.46 L443.20,518.05 L443.42,518.54 L443.64,518.70 L443.86,517.85 L444.08,519.25 L444.30,516.70 L444.52,517.81 L444.74,517.96 L444.96,519.09 L445.18,519.18 L445.40,516.87 L445.62,518.16 L445.84,520.73 L446.06,517.73 L446.28,516.60 L446.50,518.43 L446.72,520.67 L446.94,518.34 L447.16,517.90 L447.38,518.40 L447.60,518.90 L447.82,518.86 L448.04,518.58 L448.26,520.31 L448.48,517.69 L448.70,518.95 L448.92,518.52 L449.14,518.54 L449.36,518.63 L449.58,519.35 L449.80,517.82 L450.02,518.32 L450.24,518.55 L450.46,517.35 L450.68,516.87 L450.90,518.94 L451.12,518.01 L451.34,519.19 L451.56,519.27 L451.78,518.74 L452.00,518.62 L452.22,520.44 L452.44,520.19 L452.66,519.28 L452.88,517.32 L453.10,519.72 L453.32,518.51 L453.54,520.38 L453.76,517.21 L453.98,517.31 L454.20,518.59 L454.42,517.84 L454.64,517.92 L454.86,518.55 L455.08,517.47 L455.30,517.95 L455.52,517.67 L455.74,515.34 L455.96,516.82 L456.18,517.48 L456.40,517.33 L456.62,518.36 L456.84,519.24 L457.06,517.45 L457.28,518.97 L457.50,518.84 L457.72,517.13 L457.94,518.79 L458.16,517.19 L458.38,518.23 L458.60,520.26 L458.82,518.27 L459.04,517.76 L459.26,516.82 L459.48,517.72 L459.70,516.53 L459.92,519.66 L460.14,517.47 L460.36,519.51 L460.58,520.04 L460.80,516.39 L461.02,517.08 L461.24,516.39 L461.46,517.25 L461.68,517.04 L461.90,517.71 L462.12,519.04 L462.34,519.12 L462.56,520.30 L462.78,519.33 L463.00,516.70 L463.22,519.40 L463.44,519.21 L463.66,517.86 L463.88,516.73 L464.10,518.78 L464.32,518.65 L464.54,517.67 L464.76,518.92 L464.98,517.07 L465.20,516.88 L465.42,518.13 L465.64,517.02 L465.86,519.68 L466.08,518.33 L466.30,519.28 L466.52,518.89 L466.74,519.30 L466.96,519.25 L467.18,519.00 L467.40,518.43 L467.62,521.20 L467.84,518.33 L468.06,519.31 L468.28,517.83 L468.50,519.76 L468.72,520.58 L468.94,517.84 L469.16,518.95 L469.38,518.91 L469.60,518.42 L469.82,519.89 L470.04,519.12 L470.26,519.23 L470.48,518.00 L470.70,518.12 L470.92,518.11 L471.14,519.04 L471.36,518.35 L471.58,519.59 L471.80,517.84 L472.02,517.34 L472.24,516.33 L472.46,519.92 L472.68,521.15 L472.90,519.48 L473.12,518.68 L473.34,517.02 L473.56,518.07 L473.78,517.77 L474.00,519.66 L474.22,519.44 L474.44,520.13 L474.66,518.27 L474.88,518.68 L475.10,517.15 L475.32,518.58 L475.54,520.32 L475.76,519.11 L475.98,518.20 L476.20,519.85 L476.42,519.16 L476.64,519.95 L476.86,520.37 L477.08,517.98 L477.30,519.89 L477.52,520.50 L477.74,520.26 L477.96,518.44 L478.18,519.76 L478.40,521.20 L478.62,521.20 L478.84,520.55 L479.06,520.86 L479.28,519.76 L479.50,520.73 L479.72,520.53 L479.94,521.13 L480.16,519.07 L480.38,520.60 L480.60,520.83 L480.82,520.36 L481.04,520.52 L481.26,520.58 L481.48,520.39 L481.70,519.93 L481.92,520.78 L482.14,520.90 L482.36,521.20 L482.58,521.01 L482.80,521.20 L483.02,520.84 L483.24,520.78 L483.46,520.72 L483.68,521.20 L483.90,520.18 L484.12,519.70 L484.34,519.72 L484.56,521.02 L484.78,520.37 L485.00,519.78 L485.22,520.16 L485.44,521.20 L485.66,520.00 L485.88,520.66 L486.10,521.16 L486.32,520.18 L486.54,520.85 L486.76,520.76 L486.98,521.04 L487.20,520.64 L487.42,520.84 L487.64,520.35 L487.86,520.18 L488.08,520.98 L488.30,521.11 L488.52,520.31 L488.74,520.60 L488.96,521.20 L489.18,521.08 L489.40,520.96 L489.62,520.26 L489.84,520.84 L490.06,521.02 L490.28,520.08 L490.50,520.13 L490.72,520.54 L490.94,521.10 L491.16,520.68 L491.38,519.97 L491.60,520.74 L491.82,520.22 L492.04,521.20 L492.26,521.20 L492.48,521.20 L492.70,521.20 L492.92,519.13 L493.14,521.01 L493.36,521.20 L493.58,520.76 L493.80,520.30 L494.02,520.63 L494.24,520.57 L494.46,520.58 L494.68,521.20 L494.90,519.84 L495.12,520.37 L495.34,521.20 L495.56,521.20 L495.78,521.20 L496.00,520.98 L496.22,520.07 L496.44,521.01 L496.66,521.15 L496.88,520.37 L497.10,519.92 L497.32,520.75 L497.54,520.68 L497.76,521.20 L497.98,520.83 L498.20,520.36 L498.42,520.55 L498.64,520.88 L498.86,521.00 L499.08,520.16 L499.30,521.20 L499.52,521.20 L499.74,520.31 L499.96,521.20 L500.18,520.23 L500.40,520.56 L500.62,519.47 L500.84,521.20 L501.06,521.20 L501.28,521.09 L501.50,520.93 L501.72,520.50 L501.94,521.12 L502.16,521.20 L502.38,520.65 L502.60,520.93 L502.82,520.50 L503.04,520.82 L503.26,520.48 L503.48,521.20 L503.70,521.20 L503.92,519.57 L504.14,519.96 L504.36,520.73 L504.58,520.27 L504.80,521.20 L505.02,521.01 L505.24,521.20 L505.46,521.20 L505.68,521.01 L505.90,521.20 L506.12,521.20 L506.34,520.77 L506.56,520.38 L506.78,521.20 L507.00,521.02 L507.22,520.33 L507.44,521.20 L507.66,521.20 L507.88,521.20 L508.10,521.20 L508.32,520.45 L508.54,520.49 L508.76,521.20 L508.98,520.01 L509.20,520.43 L509.42,520.60 L509.64,521.20 L509.86,520.43 L510.08,520.63 L510.30,521.00 L510.52,520.87 L510.74,521.20 L510.96,521.20 L511.18,521.20 L511.40,520.52 L511.62,521.14 L511.84,521.06" fill="none" stroke="#5a5a5a" stroke-width="0.6" stroke-linejoin="round"/>
<path d="M353.00,520.76 L353.35,520.74 L353.70,521.03 L354.05,521.20 L354.40,520.86 L354.75,520.53 L355.10,520.66 L355.45,521.20 L355.80,520.85 L356.15,520.50 L356.50,520.87 L356.85,521.13 L357.20,521.12 L357.55,521.20 L357.90,520.92 L358.25,520.34 L358.60,521.20 L358.95,521.12 L359.30,521.13 L359.65,520.71 L360.00,520.56 L360.35,521.20 L360.70,520.35 L361.05,520.74 L361.40,520.51 L361.75,521.20 L362.10,521.14 L362.45,520.70 L362.80,521.20 L363.15,521.20 L363.50,520.59 L363.85,520.62 L364.20,521.17 L364.55,521.10 L364.90,520.52 L365.25,520.73 L365.60,520.99 L365.95,521.20 L366.30,520.37 L366.65,521.20 L367.00,521.20 L367.35,521.20 L367.70,519.98 L368.05,520.85 L368.40,520.83 L368.75,521.20 L369.10,520.50 L369.45,520.76 L369.80,521.11 L370.15,521.20 L370.50,521.20 L370.85,520.45 L371.20,521.20 L371.55,520.70 L371.90,521.20 L372.25,521.20 L372.60,520.85 L372.95,521.20 L373.30,520.35 L373.65,520.95 L374.00,520.77 L374.35,520.33 L374.70,520.70 L375.05,520.55 L375.40,521.20 L375.75,520.63 L376.10,520.31 L376.45,520.90 L376.80,520.84 L377.15,521.20 L377.50,521.20 L377.85,521.07 L378.20,520.65 L378.55,521.20 L378.90,521.12 L379.25,520.23 L379.60,521.17 L379.95,520.22 L380.30,521.20 L380.65,521.18 L381.00,520.47 L381.35,520.71 L381.70,519.99 L382.05,521.20 L382.40,521.03 L382.75,521.20 L383.10,521.20 L383.45,520.80 L383.80,520.72 L384.15,520.76 L384.50,521.12 L384.85,520.60 L385.20,520.82 L385.55,521.11 L385.90,521.05 L386.25,520.72 L386.60,520.48 L386.95,520.72 L387.30,521.20 L387.65,521.20 L388.00,521.20 L388.35,520.86 L388.70,521.20 L389.05,521.17 L389.40,521.20 L389.75,520.63 L390.10,521.20 L390.45,521.17 L390.80,520.93 L391.15,521.20 L391.50,521.20 L391.85,520.28 L392.20,521.06 L392.55,521.20 L392.90,521.20 L393.25,520.44 L393.60,521.20 L393.95,521.11 L394.30,520.64 L394.65,521.20 L395.00,520.76 L395.35,520.98 L395.70,520.55 L396.05,521.20 L396.40,521.20 L396.75,520.85 L397.10,520.60 L397.45,521.00 L397.80,521.12 L398.15,521.08 L398.50,520.88 L398.85,521.20 L399.20,520.84 L399.55,521.03 L399.90,521.20 L400.25,520.61 L400.60,521.02 L400.95,521.13 L401.30,520.65 L401.65,520.36 L402.00,520.55 L402.35,520.00 L402.70,521.00 L403.05,520.96 L403.40,521.20 L403.75,521.20 L404.10,521.08 L404.45,521.09 L404.80,521.20 L405.15,520.77 L405.50,520.29 L405.85,520.64 L406.20,521.07 L406.55,520.99 L406.90,521.01 L407.25,520.71 L407.60,521.02 L407.95,520.84 L408.30,520.92 L408.65,520.40 L409.00,520.59 L409.35,521.00 L409.70,521.20 L410.05,521.03 L410.40,521.20 L410.75,521.20 L411.10,521.12 L411.45,520.85 L411.80,520.08 L412.15,520.84 L412.50,521.20 L412.85,520.53 L413.20,520.83 L413.55,520.91 L413.90,521.10 L414.25,520.51 L414.60,521.20 L414.95,521.20 L415.30,520.52 L415.65,519.67 L416.00,521.20 L416.35,521.06 L416.70,521.01 L417.05,520.14 L417.40,520.61 L417.75,520.86 L418.10,521.10 L418.45,520.94 L418.80,521.20 L419.15,520.46 L419.50,520.42 L419.85,520.96 L420.20,521.20 L420.55,520.37 L420.90,520.31 L421.25,521.20 L421.60,520.65 L421.95,521.04 L422.30,521.20 L422.65,520.51 L423.00,521.03 L423.35,521.20 L423.70,520.91 L424.05,520.83 L424.40,520.67 L424.75,520.79 L425.10,521.20 L425.45,519.95 L425.80,521.17 L426.15,520.97 L426.50,521.01 L426.85,521.01 L427.20,520.97 L427.55,521.20 L427.90,520.06 L428.25,521.20 L428.60,521.20 L428.95,521.02 L429.30,520.95 L429.65,521.20 L430.00,521.20 L430.35,521.20 L430.70,521.20 L431.05,520.16 L431.40,521.20 L431.75,521.05 L432.10,520.71 L432.45,521.14 L432.80,521.20 L433.15,520.22 L433.50,521.20 L433.85,520.77 L434.20,521.05 L434.55,520.87 L434.90,521.20 L435.25,521.04 L435.60,520.68 L435.95,520.60 L436.30,520.76 L436.65,521.20 L437.00,520.66 L437.35,521.20 L437.70,521.20 L438.05,521.12 L438.40,520.09 L438.75,521.19 L439.10,521.20 L439.45,521.20 L439.80,521.14 L440.15,521.20 L440.50,521.20 L440.85,521.06 L441.20,521.20 L441.55,521.20 L441.90,521.20 L442.25,521.20 L442.60,521.20 L442.95,520.11 L443.30,521.20 L443.65,520.88 L444.00,520.04 L444.35,521.20 L444.70,521.20 L445.05,520.68 L445.40,520.73 L445.75,520.78 L446.10,519.37 L446.45,519.58 L446.80,519.59 L447.15,518.00 L447.50,518.16 L447.85,517.01 L448.20,516.52 L448.55,517.06 L448.90,517.27 L449.25,516.72 L449.60,516.86 L449.95,516.59 L450.30,515.99 L450.65,513.51 L451.00,512.85 L451.35,510.39 L451.70,513.92 L452.05,512.07 L452.40,509.58 L452.75,509.68 L453.10,511.05 L453.45,507.93 L453.80,508.50 L454.15,507.62 L454.50,508.90 L454.85,511.12 L455.20,508.00 L455.55,511.17 L455.90,509.83 L456.25,508.97 L456.60,511.05 L456.95,507.92 L457.30,510.28 L457.65,510.44 L458.00,514.06 L458.35,509.97 L458.70,511.19 L459.05,508.77 L459.40,508.83 L459.75,511.11 L460.10,512.42 L460.45,511.21 L460.80,505.93 L461.15,506.23 L461.50,505.22 L461.85,506.92 L462.20,508.67 L462.55,507.80 L462.90,505.77 L463.25,505.14 L463.60,499.87 L463.95,496.79 L464.30,502.78 L464.65,499.19 L465.00,502.14 L465.35,499.43 L465.70,502.77 L466.05,499.31 L466.40,497.98 L466.75,499.25 L467.10,501.43 L467.45,497.34 L467.80,500.83 L468.15,493.92 L468.50,493.10 L468.85,494.51 L469.20,494.16 L469.55,494.24 L469.90,490.57 L470.25,488.74 L470.60,482.88 L470.95,488.79 L471.30,482.18 L471.65,482.78 L472.00,481.07 L472.35,485.47 L472.70,472.43 L473.05,476.09 L473.40,478.55 L473.75,462.52 L474.10,464.79 L474.45,462.34 L474.80,459.01 L475.15,448.80 L475.50,451.53 L475.85,437.37 L476.20,442.73 L476.55,431.13 L476.90,420.99 L477.25,428.88 L477.60,420.51 L477.95,422.48 L478.30,428.16 L478.65,428.16 L479.00,433.55 L479.35,443.40 L479.70,453.39 L480.05,455.45 L480.40,458.36 L480.75,473.87 L481.10,472.45 L481.45,480.95 L481.80,488.18 L482.15,495.59 L482.50,503.27 L482.85,508.71 L483.20,510.27 L483.55,513.44 L483.90,517.90 L484.25,519.44 L484.60,518.80 L484.95,520.42 L485.30,519.56 L485.65,519.95 L486.00,519.92 L486.35,519.95 L486.70,519.45 L487.05,519.83 L487.40,519.41 L487.75,519.87 L488.10,519.58 L488.45,519.48 L488.80,519.69 L489.15,520.15 L489.50,519.99 L489.85,519.80 L490.20,519.66 L490.55,520.21 L490.90,521.04 L491.25,520.09 L491.60,520.29 L491.95,519.48 L492.30,519.73 L492.65,519.88 L493.00,521.15 L493.35,520.58 L493.70,520.57 L494.05,520.08 L494.40,520.24 L494.75,520.57 L495.10,520.23 L495.45,519.48 L495.80,520.16 L496.15,520.19 L496.50,519.29 L496.85,519.04 L497.20,520.16 L497.55,520.13 L497.90,520.24 L498.25,520.43 L498.60,520.60 L498.95,520.98 L499.30,519.71 L499.65,520.63 L500.00,521.19 L500.35,521.13 L500.70,519.84 L501.05,520.64 L501.40,520.64 L501.75,520.22 L502.10,519.85 L502.45,520.36 L502.80,521.18 L503.15,520.37 L503.50,520.50 L503.85,520.43 L504.20,521.19 L504.55,520.67 L504.90,519.68 L505.25,519.43 L505.60,520.63 L505.95,520.42 L506.30,520.42 L506.65,521.20 L507.00,521.20 L507.35,520.89 L507.70,521.20 L508.05,521.20 L508.40,520.87 L508.75,520.63 L509.10,520.11 L509.45,521.20 L509.80,521.20 L510.15,520.44 L510.50,520.70 L510.85,520.60 L511.20,521.20 L511.55,520.84 L511.90,521.20" fill="none" stroke="#000" stroke-width="0.98" stroke-linejoin="round"/>
<path d="M353,381 H512 V521.5" fill="none" stroke="#b4b4b4" stroke-width="1.3"/>
<path d="M353,381 V521.5 H512" fill="none" stroke="#8c8c8c" stroke-width="1.6"/>
<text x="349.70" y="521.50" font-size="8.9" text-anchor="middle" fill="#000" transform="rotate(-90 349.70 521.50)" class="t">0</text>
<text x="349.70" y="493.40" font-size="8.9" text-anchor="middle" fill="#000" transform="rotate(-90 349.70 493.40)" class="t">40</text>
<text x="349.70" y="465.30" font-size="8.9" text-anchor="middle" fill="#000" transform="rotate(-90 349.70 465.30)" class="t">80</text>
<text x="349.70" y="437.20" font-size="8.9" text-anchor="middle" fill="#000" transform="rotate(-90 349.70 437.20)" class="t">120</text>
<text x="349.70" y="409.10" font-size="8.9" text-anchor="middle" fill="#000" transform="rotate(-90 349.70 409.10)" class="t">160</text>
<text x="349.70" y="381.00" font-size="8.9" text-anchor="middle" fill="#000" transform="rotate(-90 349.70 381.00)" class="t">200</text>
<text x="336.90" y="451.25" font-size="9.8" text-anchor="middle" fill="#000" transform="rotate(-90 336.90 451.25)" class="t">Counts</text>
<text x="353.00" y="534.80" font-size="9.6" text-anchor="middle" textLength="15.00" lengthAdjust="spacingAndGlyphs" fill="#000" class="t">10<tspan font-size="8.8" dy="-4.2">0</tspan></text>
<text x="392.75" y="534.80" font-size="9.6" text-anchor="middle" textLength="15.00" lengthAdjust="spacingAndGlyphs" fill="#000" class="t">10<tspan font-size="8.8" dy="-4.2">1</tspan></text>
<text x="432.50" y="534.80" font-size="9.6" text-anchor="middle" textLength="15.00" lengthAdjust="spacingAndGlyphs" fill="#000" class="t">10<tspan font-size="8.8" dy="-4.2">2</tspan></text>
<text x="472.25" y="534.80" font-size="9.6" text-anchor="middle" textLength="15.00" lengthAdjust="spacingAndGlyphs" fill="#000" class="t">10<tspan font-size="8.8" dy="-4.2">3</tspan></text>
<text x="512.00" y="534.80" font-size="9.6" text-anchor="middle" textLength="15.00" lengthAdjust="spacingAndGlyphs" fill="#000" class="t">10<tspan font-size="8.8" dy="-4.2">4</tspan></text>
<text x="418.00" y="544.50" font-size="10" textLength="23.40" lengthAdjust="spacingAndGlyphs" fill="#000" class="t">CD99</text>
<text x="356.70" y="396.30" font-size="10" textLength="65.90" lengthAdjust="spacingAndGlyphs" fill="#000" class="t">Gr-1<tspan font-size="6.6" dy="-4.6">high</tspan><tspan dy="4.6">7/4</tspan><tspan font-size="6.8" dy="-4.3">+</tspan><tspan dy="4.3"> cells</tspan></text>
<path d="M154.50,694.70 L154.72,695.96 L154.94,698.19 L155.16,693.86 L155.38,693.62 L155.60,698.26 L155.82,698.32 L156.04,699.33 L156.26,695.12 L156.48,697.32 L156.70,696.26 L156.92,695.44 L157.14,696.50 L157.36,695.21 L157.58,698.32 L157.80,695.72 L158.02,692.85 L158.24,695.54 L158.46,695.56 L158.68,688.93 L158.90,693.52 L159.12,692.31 L159.34,691.91 L159.56,688.72 L159.78,687.87 L160.00,693.76 L160.22,693.62 L160.44,693.47 L160.66,687.07 L160.88,685.97 L161.10,687.39 L161.32,689.00 L161.54,689.63 L161.76,687.97 L161.98,687.05 L162.20,685.44 L162.42,683.53 L162.64,686.80 L162.86,679.84 L163.08,688.35 L163.30,681.31 L163.52,676.25 L163.74,682.97 L163.96,681.98 L164.18,683.81 L164.40,682.73 L164.62,678.59 L164.84,681.92 L165.06,676.31 L165.28,678.61 L165.50,672.38 L165.72,674.25 L165.94,675.40 L166.16,671.76 L166.38,678.65 L166.60,683.17 L166.82,672.36 L167.04,671.03 L167.26,666.08 L167.48,671.84 L167.70,669.64 L167.92,670.30 L168.14,664.76 L168.36,666.80 L168.58,667.03 L168.80,673.32 L169.02,662.74 L169.24,667.90 L169.46,666.55 L169.68,663.18 L169.90,660.20 L170.12,666.01 L170.34,660.94 L170.56,666.75 L170.78,668.30 L171.00,654.40 L171.22,660.05 L171.44,656.57 L171.66,651.20 L171.88,652.28 L172.10,658.87 L172.32,662.55 L172.54,655.98 L172.76,659.48 L172.98,655.67 L173.20,657.79 L173.42,647.29 L173.64,644.85 L173.86,652.19 L174.08,642.16 L174.30,640.94 L174.52,644.73 L174.74,649.59 L174.96,643.00 L175.18,645.02 L175.40,640.04 L175.62,651.72 L175.84,639.74 L176.06,640.83 L176.28,639.56 L176.50,648.05 L176.72,645.20 L176.94,641.78 L177.16,634.35 L177.38,640.48 L177.60,646.89 L177.82,637.37 L178.04,626.96 L178.26,637.27 L178.48,633.52 L178.70,633.67 L178.92,635.24 L179.14,625.58 L179.36,635.46 L179.58,632.60 L179.80,637.19 L180.02,622.04 L180.24,626.28 L180.46,632.88 L180.68,629.42 L180.90,623.39 L181.12,628.82 L181.34,627.78 L181.56,624.47 L181.78,627.33 L182.00,636.90 L182.22,629.86 L182.44,628.87 L182.66,633.60 L182.88,621.48 L183.10,626.86 L183.32,632.00 L183.54,632.99 L183.76,629.18 L183.98,633.41 L184.20,629.42 L184.42,630.77 L184.64,640.64 L184.86,639.16 L185.08,634.57 L185.30,642.30 L185.52,643.86 L185.74,646.60 L185.96,644.08 L186.18,644.70 L186.40,645.05 L186.62,656.13 L186.84,664.60 L187.06,654.53 L187.28,663.81 L187.50,660.84 L187.72,661.58 L187.94,667.83 L188.16,667.57 L188.38,677.05 L188.60,669.73 L188.82,676.53 L189.04,675.01 L189.26,671.01 L189.48,677.79 L189.70,677.77 L189.92,677.23 L190.14,674.60 L190.36,685.87 L190.58,686.76 L190.80,684.24 L191.02,688.04 L191.24,689.59 L191.46,686.42 L191.68,695.75 L191.90,685.43 L192.12,688.06 L192.34,691.47 L192.56,691.95 L192.78,691.75 L193.00,691.62 L193.22,697.47 L193.44,691.82 L193.66,694.63 L193.88,696.21 L194.10,698.23 L194.32,700.67 L194.54,698.30 L194.76,697.98 L194.98,699.81 L195.20,700.39 L195.42,700.88 L195.64,704.24 L195.86,702.06 L196.08,702.88 L196.30,702.51 L196.52,702.55 L196.74,705.17 L196.96,702.11 L197.18,701.96 L197.40,704.31 L197.62,705.60 L197.84,703.51 L198.06,706.18 L198.28,704.48 L198.50,703.14 L198.72,704.37 L198.94,705.10 L199.16,704.73 L199.38,703.74 L199.60,702.59 L199.82,705.25 L200.04,703.65 L200.26,704.69 L200.48,704.65 L200.70,701.88 L200.92,703.72 L201.14,706.15 L201.36,703.96 L201.58,704.86 L201.80,704.76 L202.02,703.70 L202.24,703.98 L202.46,704.00 L202.68,705.80 L202.90,703.94 L203.12,704.43 L203.34,706.68 L203.56,704.77 L203.78,703.73 L204.00,705.82 L204.22,706.51 L204.44,705.85 L204.66,705.65 L204.88,706.45 L205.10,703.63 L205.32,704.85 L205.54,704.88 L205.76,706.31 L205.98,705.55 L206.20,704.91 L206.42,705.74 L206.64,706.70 L206.86,706.10 L207.08,706.70 L207.30,706.38 L207.52,705.38 L207.74,705.86 L207.96,706.30 L208.18,705.04 L208.40,706.35 L208.62,704.23 L208.84,706.05 L209.06,704.71 L209.28,705.78 L209.50,706.70 L209.72,706.05 L209.94,705.96 L210.16,705.37 L210.38,706.45 L210.60,705.25 L210.82,705.25 L211.04,704.74 L211.26,706.70 L211.48,705.38 L211.70,705.71 L211.92,706.70 L212.14,706.21 L212.36,705.63 L212.58,705.23 L212.80,705.87 L213.02,706.17 L213.24,704.60 L213.46,704.75 L213.68,705.67 L213.90,705.92 L214.12,706.04 L214.34,705.34 L214.56,706.44 L214.78,705.99 L215.00,705.20 L215.22,705.43 L215.44,705.59 L215.66,704.20 L215.88,705.83 L216.10,706.40 L216.32,705.76 L216.54,704.39 L216.76,705.30 L216.98,706.70 L217.20,706.70 L217.42,704.90 L217.64,706.43 L217.86,705.54 L218.08,706.22 L218.30,705.54 L218.52,706.02 L218.74,704.56 L218.96,704.08 L219.18,705.71 L219.40,705.83 L219.62,705.88 L219.84,705.10 L220.06,704.66 L220.28,706.11 L220.50,704.15 L220.72,706.54 L220.94,705.28 L221.16,704.92 L221.38,704.49 L221.60,706.08 L221.82,704.55 L222.04,706.27 L222.26,706.21 L222.48,704.94 L222.70,704.99 L222.92,705.81 L223.14,706.45 L223.36,704.70 L223.58,703.72 L223.80,704.70 L224.02,705.88 L224.24,705.37 L224.46,706.24 L224.68,706.04 L224.90,706.35 L225.12,705.43 L225.34,705.39 L225.56,705.00 L225.78,705.84 L226.00,704.43 L226.22,704.51 L226.44,705.13 L226.66,706.70 L226.88,705.57 L227.10,704.69 L227.32,705.93 L227.54,706.19 L227.76,706.12 L227.98,705.44 L228.20,706.15 L228.42,706.70 L228.64,705.75 L228.86,706.70 L229.08,705.99 L229.30,705.52 L229.52,705.38 L229.74,705.50 L229.96,704.08 L230.18,706.19 L230.40,705.79 L230.62,706.25 L230.84,705.44 L231.06,706.28 L231.28,705.41 L231.50,706.10 L231.72,705.29 L231.94,703.98 L232.16,704.57 L232.38,704.70 L232.60,705.37 L232.82,706.32 L233.04,704.40 L233.26,705.26 L233.48,705.64 L233.70,705.22 L233.92,705.81 L234.14,705.82 L234.36,705.16 L234.58,706.28 L234.80,704.64 L235.02,706.70 L235.24,705.41 L235.46,705.17 L235.68,704.35 L235.90,706.11 L236.12,706.70 L236.34,704.95 L236.56,706.06 L236.78,704.85 L237.00,705.60 L237.22,705.05 L237.44,706.23 L237.66,706.70 L237.88,705.47 L238.10,706.70 L238.32,705.96 L238.54,705.87 L238.76,703.55 L238.98,704.79 L239.20,705.56 L239.42,706.70 L239.64,706.60 L239.86,705.76 L240.08,705.49 L240.30,705.23 L240.52,705.71 L240.74,705.80 L240.96,705.43 L241.18,706.67 L241.40,704.38 L241.62,705.85 L241.84,705.79 L242.06,705.71 L242.28,705.76 L242.50,706.06 L242.72,704.49 L242.94,705.44 L243.16,705.23 L243.38,705.59 L243.60,704.89 L243.82,704.21 L244.04,705.62 L244.26,705.70 L244.48,704.61 L244.70,705.29 L244.92,705.67 L245.14,705.55 L245.36,705.42 L245.58,704.71 L245.80,705.63 L246.02,705.85 L246.24,706.41 L246.46,705.43 L246.68,706.44 L246.90,706.16 L247.12,705.99 L247.34,706.57 L247.56,705.37 L247.78,705.48 L248.00,705.25 L248.22,704.59 L248.44,706.14 L248.66,705.39 L248.88,706.22 L249.10,705.12 L249.32,703.93 L249.54,705.03 L249.76,705.40 L249.98,706.36 L250.20,705.83 L250.42,706.13 L250.64,706.70 L250.86,706.43 L251.08,704.72 L251.30,705.91 L251.52,706.70 L251.74,706.14 L251.96,705.14 L252.18,706.08 L252.40,706.37 L252.62,704.69 L252.84,706.70 L253.06,706.12 L253.28,705.86 L253.50,705.70 L253.72,704.75 L253.94,705.81 L254.16,705.68 L254.38,705.51 L254.60,704.79 L254.82,706.23 L255.04,705.33 L255.26,705.47 L255.48,705.67 L255.70,704.93 L255.92,705.76 L256.14,705.06 L256.36,705.98 L256.58,706.70 L256.80,704.66 L257.02,706.44 L257.24,705.05 L257.46,706.16 L257.68,704.88 L257.90,705.60 L258.12,704.48 L258.34,705.44 L258.56,705.46 L258.78,705.39 L259.00,705.23 L259.22,704.66 L259.44,706.70 L259.66,706.47 L259.88,705.35 L260.10,705.22 L260.32,705.64 L260.54,705.92 L260.76,705.54 L260.98,706.70 L261.20,705.38 L261.42,706.70 L261.64,705.28 L261.86,705.60 L262.08,705.52 L262.30,706.68 L262.52,706.70 L262.74,706.60 L262.96,706.70 L263.18,706.43 L263.40,706.12 L263.62,706.70 L263.84,705.55 L264.06,706.29 L264.28,704.74 L264.50,704.80 L264.72,705.57 L264.94,705.95 L265.16,706.70 L265.38,706.40 L265.60,706.70 L265.82,706.51 L266.04,705.86 L266.26,704.52 L266.48,705.85 L266.70,704.62 L266.92,706.66 L267.14,704.73 L267.36,704.46 L267.58,705.25 L267.80,706.70 L268.02,705.93 L268.24,706.70 L268.46,705.83 L268.68,706.13 L268.90,704.66 L269.12,706.63 L269.34,705.87 L269.56,706.63 L269.78,706.33 L270.00,706.25 L270.22,706.55 L270.44,706.50 L270.66,706.11 L270.88,706.15 L271.10,706.31 L271.32,706.21 L271.54,706.45 L271.76,706.51 L271.98,706.31 L272.20,705.92 L272.42,706.70 L272.64,705.15 L272.86,704.95 L273.08,706.70 L273.30,705.83 L273.52,706.17 L273.74,706.47 L273.96,706.18 L274.18,704.72 L274.40,704.90 L274.62,705.79 L274.84,705.33 L275.06,704.87 L275.28,706.70 L275.50,705.33 L275.72,705.38 L275.94,706.29 L276.16,705.90 L276.38,706.50 L276.60,706.05 L276.82,706.16 L277.04,706.06 L277.26,706.17 L277.48,705.99 L277.70,706.19 L277.92,705.15 L278.14,706.11 L278.36,706.01 L278.58,705.44 L278.80,704.03 L279.02,704.47 L279.24,705.12 L279.46,705.74 L279.68,706.64 L279.90,706.14 L280.12,706.70 L280.34,706.24 L280.56,705.96 L280.78,704.40 L281.00,706.70 L281.22,706.70 L281.44,704.80 L281.66,706.59 L281.88,705.38 L282.10,705.57 L282.32,705.99 L282.54,706.70 L282.76,706.70 L282.98,706.58 L283.20,706.39 L283.42,705.35 L283.64,705.49 L283.86,705.69 L284.08,706.70 L284.30,705.76 L284.52,705.15 L284.74,706.70 L284.96,706.70 L285.18,704.66 L285.40,705.76 L285.62,705.83 L285.84,706.70 L286.06,705.57 L286.28,706.70 L286.50,705.08 L286.72,706.16 L286.94,704.81 L287.16,705.34 L287.38,705.79 L287.60,706.67 L287.82,706.70 L288.04,706.00 L288.26,705.00 L288.48,706.15 L288.70,704.70 L288.92,705.94 L289.14,705.08 L289.36,705.47 L289.58,704.35 L289.80,705.08 L290.02,706.70 L290.24,704.41 L290.46,706.62 L290.68,705.55 L290.90,706.01 L291.12,705.30 L291.34,705.38 L291.56,704.56 L291.78,706.70 L292.00,706.54 L292.22,706.70 L292.44,704.87 L292.66,704.34 L292.88,704.49 L293.10,705.33 L293.32,705.95 L293.54,705.82 L293.76,705.33 L293.98,706.49 L294.20,704.76 L294.42,706.29 L294.64,705.73 L294.86,706.70 L295.08,705.81 L295.30,704.03 L295.52,706.70 L295.74,706.70 L295.96,705.70 L296.18,704.82 L296.40,705.75 L296.62,706.29 L296.84,705.91 L297.06,705.21 L297.28,703.86 L297.50,706.39 L297.72,706.66 L297.94,704.74 L298.16,706.12 L298.38,706.28 L298.60,706.06 L298.82,705.57 L299.04,705.19 L299.26,705.03 L299.48,705.13 L299.70,705.58 L299.92,706.70 L300.14,706.06 L300.36,705.54 L300.58,704.27 L300.80,706.70 L301.02,705.51 L301.24,705.71 L301.46,706.40 L301.68,706.14 L301.90,705.91 L302.12,705.55 L302.34,705.54 L302.56,704.11 L302.78,706.70 L303.00,705.92 L303.22,705.94 L303.44,705.53 L303.66,706.70 L303.88,705.01 L304.10,705.65 L304.32,705.72 L304.54,706.70 L304.76,706.70 L304.98,706.58 L305.20,704.91 L305.42,704.71 L305.64,706.70 L305.86,706.69 L306.08,705.64 L306.30,705.76 L306.52,705.37 L306.74,706.01 L306.96,705.53 L307.18,706.42 L307.40,705.82 L307.62,703.64 L307.84,705.89 L308.06,705.67 L308.28,706.49 L308.50,706.58 L308.72,706.34 L308.94,706.70 L309.16,704.81 L309.38,706.70 L309.60,706.02 L309.82,706.03" fill="none" stroke="#464646" stroke-width="0.6" stroke-linejoin="round"/>
<path d="M154.50,703.38 L154.85,702.82 L155.20,705.00 L155.55,702.60 L155.90,701.82 L156.25,704.40 L156.60,704.54 L156.95,702.50 L157.30,702.86 L157.65,706.56 L158.00,702.21 L158.35,702.72 L158.70,704.59 L159.05,704.04 L159.40,704.99 L159.75,703.97 L160.10,702.35 L160.45,702.73 L160.80,701.59 L161.15,703.02 L161.50,702.34 L161.85,699.66 L162.20,701.72 L162.55,699.55 L162.90,700.52 L163.25,699.53 L163.60,700.22 L163.95,695.43 L164.30,699.87 L164.65,696.55 L165.00,700.46 L165.35,696.21 L165.70,696.89 L166.05,696.03 L166.40,697.20 L166.75,698.14 L167.10,696.04 L167.45,695.04 L167.80,694.86 L168.15,693.77 L168.50,693.54 L168.85,691.34 L169.20,692.03 L169.55,694.90 L169.90,693.48 L170.25,686.35 L170.60,688.94 L170.95,689.13 L171.30,686.59 L171.65,685.45 L172.00,686.17 L172.35,688.07 L172.70,687.47 L173.05,683.92 L173.40,685.07 L173.75,681.46 L174.10,681.76 L174.45,678.96 L174.80,673.98 L175.15,675.35 L175.50,677.42 L175.85,678.59 L176.20,674.31 L176.55,678.00 L176.90,672.07 L177.25,666.85 L177.60,662.80 L177.95,670.48 L178.30,659.01 L178.65,653.24 L179.00,656.87 L179.35,650.78 L179.70,653.28 L180.05,642.19 L180.40,650.61 L180.75,649.18 L181.10,641.51 L181.45,636.96 L181.80,640.07 L182.15,642.98 L182.50,633.08 L182.85,633.15 L183.20,637.75 L183.55,633.30 L183.90,628.01 L184.25,628.52 L184.60,625.97 L184.95,621.23 L185.30,620.82 L185.65,606.19 L186.00,618.67 L186.35,620.90 L186.70,618.20 L187.05,611.23 L187.40,622.25 L187.75,621.47 L188.10,611.30 L188.45,617.39 L188.80,617.99 L189.15,619.36 L189.50,632.05 L189.85,635.29 L190.20,630.70 L190.55,636.66 L190.90,642.64 L191.25,642.92 L191.60,651.70 L191.95,652.13 L192.30,655.11 L192.65,650.69 L193.00,664.06 L193.35,654.09 L193.70,665.02 L194.05,671.95 L194.40,671.39 L194.75,671.47 L195.10,675.46 L195.45,675.77 L195.80,684.99 L196.15,684.34 L196.50,682.28 L196.85,690.67 L197.20,686.24 L197.55,689.91 L197.90,686.27 L198.25,691.73 L198.60,694.62 L198.95,694.93 L199.30,694.48 L199.65,698.79 L200.00,695.63 L200.35,700.24 L200.70,698.01 L201.05,698.57 L201.40,699.66 L201.75,700.11 L202.10,702.89 L202.45,700.50 L202.80,698.34 L203.15,701.48 L203.50,700.03 L203.85,701.13 L204.20,701.54 L204.55,702.62 L204.90,704.28 L205.25,703.10 L205.60,702.61 L205.95,702.22 L206.30,702.35 L206.65,702.81 L207.00,703.66 L207.35,703.61 L207.70,704.44 L208.05,701.29 L208.40,704.53 L208.75,704.51 L209.10,701.38 L209.45,705.14 L209.80,704.02 L210.15,702.61 L210.50,704.49 L210.85,703.01 L211.20,704.11 L211.55,704.95 L211.90,705.54 L212.25,705.48 L212.60,704.31 L212.95,702.37 L213.30,703.84 L213.65,704.79 L214.00,705.27 L214.35,704.66 L214.70,703.50 L215.05,704.17 L215.40,703.49 L215.75,704.51 L216.10,702.81 L216.45,704.49 L216.80,705.33 L217.15,703.52 L217.50,705.69 L217.85,702.22 L218.20,705.22 L218.55,703.44 L218.90,704.31 L219.25,704.92 L219.60,705.25 L219.95,702.94 L220.30,704.86 L220.65,702.97 L221.00,704.79 L221.35,704.40 L221.70,705.00 L222.05,703.70 L222.40,704.38 L222.75,703.58 L223.10,704.72 L223.45,705.42 L223.80,705.25 L224.15,704.54 L224.50,705.79 L224.85,705.24 L225.20,705.90 L225.55,705.11 L225.90,704.49 L226.25,705.23 L226.60,705.87 L226.95,704.60 L227.30,705.12 L227.65,704.08 L228.00,705.80 L228.35,704.23 L228.70,703.06 L229.05,705.62 L229.40,703.59 L229.75,706.10 L230.10,704.25 L230.45,703.68 L230.80,703.97 L231.15,705.47 L231.50,704.41 L231.85,705.52 L232.20,703.95 L232.55,705.71 L232.90,705.05 L233.25,705.03 L233.60,706.70 L233.95,703.74 L234.30,705.70 L234.65,703.53 L235.00,704.61 L235.35,703.99 L235.70,704.45 L236.05,705.04 L236.40,703.87 L236.75,705.52 L237.10,704.19 L237.45,705.78 L237.80,704.43 L238.15,704.86 L238.50,705.06 L238.85,704.88 L239.20,705.95 L239.55,706.70 L239.90,705.08 L240.25,704.55 L240.60,705.13 L240.95,705.49 L241.30,704.65 L241.65,706.70 L242.00,704.15 L242.35,705.42 L242.70,704.05 L243.05,705.91 L243.40,706.53 L243.75,704.73 L244.10,705.38 L244.45,704.61 L244.80,706.56 L245.15,705.75 L245.50,705.25 L245.85,705.05 L246.20,705.94 L246.55,704.76 L246.90,705.35 L247.25,703.88 L247.60,705.19 L247.95,705.70 L248.30,704.32 L248.65,705.96 L249.00,704.37 L249.35,704.49 L249.70,704.72 L250.05,705.74 L250.40,705.26 L250.75,706.46 L251.10,702.92 L251.45,704.99 L251.80,706.53 L252.15,704.73 L252.50,706.60 L252.85,705.14 L253.20,706.70 L253.55,703.57 L253.90,706.47 L254.25,706.70 L254.60,706.46 L254.95,704.13 L255.30,706.34 L255.65,703.55 L256.00,705.57 L256.35,706.53 L256.70,706.25 L257.05,705.92 L257.40,705.99 L257.75,706.03 L258.10,704.30 L258.45,703.96 L258.80,705.55 L259.15,705.44 L259.50,705.11 L259.85,705.39 L260.20,705.89 L260.55,705.34 L260.90,704.73 L261.25,705.67 L261.60,705.47 L261.95,705.20 L262.30,705.75 L262.65,704.85 L263.00,705.65 L263.35,705.79 L263.70,705.73 L264.05,705.43 L264.40,705.53 L264.75,705.93 L265.10,706.70 L265.45,706.55 L265.80,705.01 L266.15,705.58 L266.50,703.53 L266.85,705.09 L267.20,705.32 L267.55,705.99 L267.90,705.74 L268.25,706.57 L268.60,705.66 L268.95,705.98 L269.30,704.53 L269.65,705.37 L270.00,705.03 L270.35,706.33 L270.70,704.58 L271.05,704.40 L271.40,704.65 L271.75,705.48 L272.10,705.16 L272.45,706.05 L272.80,706.70 L273.15,705.39 L273.50,704.62 L273.85,705.63 L274.20,706.18 L274.55,706.70 L274.90,705.17 L275.25,706.70 L275.60,705.83 L275.95,705.40 L276.30,705.81 L276.65,705.67 L277.00,705.66 L277.35,704.50 L277.70,705.13 L278.05,704.37 L278.40,705.53 L278.75,705.13 L279.10,706.17 L279.45,705.54 L279.80,704.80 L280.15,705.15 L280.50,705.46 L280.85,705.22 L281.20,706.63 L281.55,704.89 L281.90,704.85 L282.25,705.61 L282.60,704.75 L282.95,705.78 L283.30,705.35 L283.65,705.67 L284.00,705.51 L284.35,705.94 L284.70,705.27 L285.05,705.92 L285.40,705.13 L285.75,704.91 L286.10,705.85 L286.45,706.45 L286.80,705.14 L287.15,705.15 L287.50,705.01 L287.85,705.66 L288.20,705.02 L288.55,705.70 L288.90,705.41 L289.25,706.47 L289.60,706.09 L289.95,705.41 L290.30,705.98 L290.65,706.43 L291.00,706.70 L291.35,706.70 L291.70,705.18 L292.05,706.04 L292.40,705.75 L292.75,706.70 L293.10,706.70 L293.45,705.23 L293.80,705.43 L294.15,705.38 L294.50,704.97 L294.85,705.71 L295.20,705.12 L295.55,704.70 L295.90,705.31 L296.25,705.26 L296.60,704.13 L296.95,704.77 L297.30,705.43 L297.65,704.97 L298.00,706.70 L298.35,706.55 L298.70,705.18 L299.05,706.28 L299.40,705.82 L299.75,704.15 L300.10,705.35 L300.45,706.50 L300.80,705.76 L301.15,705.64 L301.50,706.48 L301.85,706.39 L302.20,706.39 L302.55,705.26 L302.90,705.82" fill="none" stroke="#000" stroke-width="0.75" stroke-linejoin="round"/>
<path d="M154.9,707 V601" stroke="#9a9a9a" stroke-width="1" fill="none"/>
<path d="M154,561.5 H310 V707" fill="none" stroke="#b4b4b4" stroke-width="1.3"/>
<path d="M154,561.5 V707 H310" fill="none" stroke="#8c8c8c" stroke-width="1.6"/>
<text x="151.00" y="707.00" font-size="9.2" text-anchor="middle" fill="#000" transform="rotate(-90 151.00 707.00)" class="t">0</text>
<text x="151.00" y="677.90" font-size="9.2" text-anchor="middle" fill="#000" transform="rotate(-90 151.00 677.90)" class="t">20</text>
<text x="151.00" y="648.80" font-size="9.2" text-anchor="middle" fill="#000" transform="rotate(-90 151.00 648.80)" class="t">40</text>
<text x="151.00" y="619.70" font-size="9.2" text-anchor="middle" fill="#000" transform="rotate(-90 151.00 619.70)" class="t">60</text>
<text x="151.00" y="590.60" font-size="9.2" text-anchor="middle" fill="#000" transform="rotate(-90 151.00 590.60)" class="t">80</text>
<text x="151.00" y="561.50" font-size="9.2" text-anchor="middle" fill="#000" transform="rotate(-90 151.00 561.50)" class="t">100</text>
<text x="138.20" y="634.25" font-size="9.8" text-anchor="middle" fill="#000" transform="rotate(-90 138.20 634.25)" class="t">Counts</text>
<text x="154.00" y="718.70" font-size="9.0" text-anchor="middle" textLength="14.60" lengthAdjust="spacingAndGlyphs" fill="#000" class="t">10<tspan font-size="8.2" dy="-4.0">0</tspan></text>
<text x="193.00" y="718.70" font-size="9.0" text-anchor="middle" textLength="14.60" lengthAdjust="spacingAndGlyphs" fill="#000" class="t">10<tspan font-size="8.2" dy="-4.0">1</tspan></text>
<text x="232.00" y="718.70" font-size="9.0" text-anchor="middle" textLength="14.60" lengthAdjust="spacingAndGlyphs" fill="#000" class="t">10<tspan font-size="8.2" dy="-4.0">2</tspan></text>
<text x="271.00" y="718.70" font-size="9.0" text-anchor="middle" textLength="14.60" lengthAdjust="spacingAndGlyphs" fill="#000" class="t">10<tspan font-size="8.2" dy="-4.0">3</tspan></text>
<text x="310.00" y="718.70" font-size="9.0" text-anchor="middle" textLength="14.60" lengthAdjust="spacingAndGlyphs" fill="#000" class="t">10<tspan font-size="8.2" dy="-4.0">4</tspan></text>
<text x="208.60" y="730.50" font-size="10" textLength="36.00" lengthAdjust="spacingAndGlyphs" fill="#000" class="t">CD99L2</text>
<text x="163.90" y="578.80" font-size="10.4" textLength="50.30" lengthAdjust="spacingAndGlyphs" fill="#000" class="t">Gr-1<tspan font-size="8.4" dy="-4.4">+</tspan><tspan dy="4.4"> cells</tspan></text>
<path d="M353.50,699.53 L353.72,697.66 L353.94,700.97 L354.16,698.22 L354.38,701.45 L354.60,695.69 L354.82,699.12 L355.04,697.88 L355.26,699.07 L355.48,695.63 L355.70,697.59 L355.92,699.89 L356.14,694.08 L356.36,695.24 L356.58,698.09 L356.80,694.31 L357.02,698.61 L357.24,693.82 L357.46,693.87 L357.68,696.62 L357.90,694.55 L358.12,696.35 L358.34,695.21 L358.56,691.19 L358.78,696.35 L359.00,693.99 L359.22,693.95 L359.44,692.57 L359.66,686.87 L359.88,688.80 L360.10,692.19 L360.32,686.47 L360.54,684.14 L360.76,687.94 L360.98,688.96 L361.20,690.48 L361.42,688.33 L361.64,686.07 L361.86,687.15 L362.08,685.30 L362.30,683.91 L362.52,687.48 L362.74,681.90 L362.96,683.52 L363.18,677.35 L363.40,678.91 L363.62,680.00 L363.84,682.22 L364.06,680.07 L364.28,677.54 L364.50,678.61 L364.72,673.73 L364.94,681.47 L365.16,671.73 L365.38,674.95 L365.60,677.12 L365.82,668.64 L366.04,670.15 L366.26,673.20 L366.48,679.43 L366.70,667.59 L366.92,673.27 L367.14,665.15 L367.36,672.95 L367.58,667.80 L367.80,661.86 L368.02,663.85 L368.24,664.58 L368.46,660.84 L368.68,658.55 L368.90,668.23 L369.12,661.33 L369.34,654.55 L369.56,656.59 L369.78,661.84 L370.00,654.74 L370.22,660.78 L370.44,658.31 L370.66,652.83 L370.88,650.93 L371.10,648.75 L371.32,650.99 L371.54,653.03 L371.76,646.21 L371.98,658.58 L372.20,648.94 L372.42,654.39 L372.64,651.85 L372.86,658.19 L373.08,643.04 L373.30,646.89 L373.52,643.88 L373.74,641.53 L373.96,648.21 L374.18,647.38 L374.40,639.25 L374.62,643.38 L374.84,633.11 L375.06,643.37 L375.28,634.26 L375.50,633.87 L375.72,644.92 L375.94,633.38 L376.16,636.42 L376.38,639.99 L376.60,633.97 L376.82,632.14 L377.04,628.43 L377.26,631.09 L377.48,635.53 L377.70,629.48 L377.92,623.22 L378.14,625.08 L378.36,635.99 L378.58,621.29 L378.80,631.20 L379.02,629.62 L379.24,632.54 L379.46,632.85 L379.68,630.27 L379.90,626.46 L380.12,619.79 L380.34,633.41 L380.56,626.09 L380.78,628.70 L381.00,633.04 L381.22,631.09 L381.44,628.27 L381.66,644.40 L381.88,639.30 L382.10,627.24 L382.32,630.37 L382.54,628.15 L382.76,635.97 L382.98,640.25 L383.20,631.28 L383.42,651.34 L383.64,641.55 L383.86,644.82 L384.08,644.74 L384.30,643.15 L384.52,645.22 L384.74,648.70 L384.96,656.36 L385.18,655.75 L385.40,656.91 L385.62,644.85 L385.84,651.05 L386.06,663.52 L386.28,656.73 L386.50,659.04 L386.72,662.64 L386.94,666.06 L387.16,667.31 L387.38,672.02 L387.60,663.97 L387.82,671.64 L388.04,667.24 L388.26,673.27 L388.48,672.18 L388.70,671.51 L388.92,675.14 L389.14,677.44 L389.36,677.97 L389.58,678.87 L389.80,685.13 L390.02,678.38 L390.24,686.98 L390.46,685.24 L390.68,688.43 L390.90,685.37 L391.12,688.78 L391.34,694.38 L391.56,697.81 L391.78,694.34 L392.00,693.19 L392.22,696.57 L392.44,693.28 L392.66,700.26 L392.88,697.28 L393.10,698.59 L393.32,696.47 L393.54,698.05 L393.76,698.71 L393.98,700.99 L394.20,698.00 L394.42,703.44 L394.64,702.49 L394.86,698.73 L395.08,700.06 L395.30,704.01 L395.52,702.72 L395.74,703.52 L395.96,702.31 L396.18,703.63 L396.40,702.17 L396.62,704.21 L396.84,702.95 L397.06,705.38 L397.28,702.15 L397.50,702.19 L397.72,705.67 L397.94,704.48 L398.16,704.91 L398.38,702.61 L398.60,705.75 L398.82,704.32 L399.04,704.14 L399.26,703.89 L399.48,704.58 L399.70,704.64 L399.92,705.45 L400.14,704.09 L400.36,706.11 L400.58,704.62 L400.80,705.08 L401.02,704.25 L401.24,707.65 L401.46,706.35 L401.68,703.60 L401.90,707.10 L402.12,705.76 L402.34,705.04 L402.56,703.79 L402.78,707.60 L403.00,707.62 L403.22,705.88 L403.44,707.41 L403.66,705.28 L403.88,705.10 L404.10,705.90 L404.32,705.97 L404.54,705.52 L404.76,705.49 L404.98,706.91" fill="none" stroke="#464646" stroke-width="0.6" stroke-linejoin="round"/>
<path d="M398.00,705.98 L398.22,706.42 L398.44,705.73 L398.66,705.70 L398.88,706.25 L399.10,706.21 L399.32,705.97 L399.54,704.01 L399.76,704.85 L399.98,705.07 L400.20,706.16 L400.42,705.32 L400.64,704.76 L400.86,705.57 L401.08,705.45 L401.30,703.68 L401.52,705.58 L401.74,704.37 L401.96,705.06 L402.18,705.28 L402.40,703.47 L402.62,706.02 L402.84,703.15 L403.06,705.35 L403.28,704.91 L403.50,703.65 L403.72,705.32 L403.94,702.57 L404.16,701.26 L404.38,702.98 L404.60,701.32 L404.82,702.34 L405.04,702.62 L405.26,704.34 L405.48,701.34 L405.70,701.63 L405.92,702.30 L406.14,702.30 L406.36,700.52 L406.58,702.03 L406.80,698.45 L407.02,699.01 L407.24,698.44 L407.46,698.83 L407.68,700.26 L407.90,698.91 L408.12,700.42 L408.34,695.70 L408.56,696.93 L408.78,699.27 L409.00,697.22 L409.22,696.47 L409.44,692.97 L409.66,697.98 L409.88,694.10 L410.10,697.00 L410.32,693.61 L410.54,694.37 L410.76,698.56 L410.98,692.68 L411.20,692.56 L411.42,693.80 L411.64,689.77 L411.86,693.60 L412.08,693.34 L412.30,692.21 L412.52,690.54 L412.74,691.98 L412.96,690.21 L413.18,690.64 L413.40,689.10 L413.62,692.26 L413.84,689.41 L414.06,692.52 L414.28,687.50 L414.50,688.63 L414.72,687.16 L414.94,689.82 L415.16,691.28 L415.38,689.90 L415.60,691.81 L415.82,688.44 L416.04,682.17 L416.26,686.61 L416.48,688.53 L416.70,687.10 L416.92,684.87 L417.14,684.58 L417.36,684.04 L417.58,677.85 L417.80,680.17 L418.02,683.85 L418.24,685.34 L418.46,678.76 L418.68,678.96 L418.90,681.49 L419.12,681.06 L419.34,678.60 L419.56,676.15 L419.78,680.76 L420.00,680.75 L420.22,672.57 L420.44,671.77 L420.66,678.02 L420.88,676.25 L421.10,672.06 L421.32,673.72 L421.54,674.61 L421.76,677.33 L421.98,675.13 L422.20,674.80 L422.42,674.54 L422.64,672.13 L422.86,671.25 L423.08,670.28 L423.30,672.68 L423.52,667.82 L423.74,664.27 L423.96,672.61 L424.18,671.04 L424.40,677.21 L424.62,671.21 L424.84,666.58 L425.06,665.56 L425.28,674.43 L425.50,670.11 L425.72,660.96 L425.94,664.11 L426.16,665.86 L426.38,670.13 L426.60,663.33 L426.82,656.62 L427.04,667.55 L427.26,659.12 L427.48,663.36 L427.70,657.49 L427.92,662.13 L428.14,663.92 L428.36,656.49 L428.58,659.65 L428.80,665.02 L429.02,661.65 L429.24,666.56 L429.46,661.05 L429.68,658.84 L429.90,658.84 L430.12,665.53 L430.34,667.25 L430.56,664.04 L430.78,666.44 L431.00,666.46 L431.22,657.69 L431.44,659.43 L431.66,662.60 L431.88,663.70 L432.10,663.57 L432.32,662.45 L432.54,660.43 L432.76,663.18 L432.98,663.13 L433.20,661.54 L433.42,665.03 L433.64,661.44 L433.86,662.10 L434.08,663.52 L434.30,659.92 L434.52,668.48 L434.74,658.43 L434.96,664.15 L435.18,656.47 L435.40,661.45 L435.62,658.32 L435.84,659.84 L436.06,668.87 L436.28,660.46 L436.50,663.01 L436.72,659.76 L436.94,668.67 L437.16,673.36 L437.38,657.89 L437.60,655.81 L437.82,658.72 L438.04,667.07 L438.26,661.88 L438.48,653.74 L438.70,657.20 L438.92,663.31 L439.14,661.85 L439.36,668.19 L439.58,663.19 L439.80,661.07 L440.02,660.23 L440.24,659.64 L440.46,658.24 L440.68,661.76 L440.90,666.07 L441.12,659.83 L441.34,661.42 L441.56,663.63 L441.78,667.98 L442.00,663.58 L442.22,663.63 L442.44,665.76 L442.66,663.66 L442.88,663.77 L443.10,661.68 L443.32,668.33 L443.54,664.11 L443.76,660.57 L443.98,665.49 L444.20,663.87 L444.42,657.24 L444.64,664.47 L444.86,660.89 L445.08,662.54 L445.30,666.80 L445.52,667.71 L445.74,666.92 L445.96,665.45 L446.18,669.89 L446.40,660.88 L446.62,671.25 L446.84,668.91 L447.06,663.36 L447.28,659.91 L447.50,666.67 L447.72,666.32 L447.94,663.41 L448.16,664.29 L448.38,669.38 L448.60,669.58 L448.82,667.38 L449.04,670.02 L449.26,668.51 L449.48,663.74 L449.70,665.58 L449.92,670.63 L450.14,669.25 L450.36,671.47 L450.58,673.75 L450.80,667.81 L451.02,667.19 L451.24,673.81 L451.46,672.79 L451.68,674.10 L451.90,674.85 L452.12,685.93 L452.34,674.95 L452.56,675.78 L452.78,674.60 L453.00,673.95 L453.22,673.98 L453.44,680.68 L453.66,680.18 L453.88,673.87 L454.10,671.72 L454.32,681.52 L454.54,682.20 L454.76,678.42 L454.98,680.10 L455.20,680.55 L455.42,678.37 L455.64,677.64 L455.86,682.61 L456.08,684.84 L456.30,682.79 L456.52,686.40 L456.74,683.76 L456.96,681.23 L457.18,685.57 L457.40,683.56 L457.62,682.52 L457.84,687.31 L458.06,687.33 L458.28,683.60 L458.50,684.89 L458.72,686.45 L458.94,682.50 L459.16,686.52 L459.38,684.78 L459.60,687.61 L459.82,686.02 L460.04,690.12 L460.26,683.81 L460.48,694.68 L460.70,684.53 L460.92,694.44 L461.14,690.56 L461.36,689.19 L461.58,698.02 L461.80,690.93 L462.02,692.34 L462.24,689.10 L462.46,691.19 L462.68,691.57 L462.90,694.42 L463.12,694.48 L463.34,696.69 L463.56,693.57 L463.78,693.79 L464.00,690.21 L464.22,696.86 L464.44,693.02 L464.66,692.68 L464.88,699.34 L465.10,694.33 L465.32,693.22 L465.54,694.73 L465.76,695.34 L465.98,695.40 L466.20,698.30 L466.42,697.14 L466.64,700.28 L466.86,698.51 L467.08,699.31 L467.30,694.44 L467.52,696.66 L467.74,698.93 L467.96,697.84 L468.18,698.47 L468.40,698.86 L468.62,700.36 L468.84,699.19 L469.06,698.93 L469.28,698.39 L469.50,700.78 L469.72,701.41 L469.94,700.63 L470.16,699.58 L470.38,699.92 L470.60,703.06 L470.82,701.68 L471.04,700.94 L471.26,701.47 L471.48,701.83 L471.70,702.51 L471.92,702.67 L472.14,698.55 L472.36,700.79 L472.58,702.56 L472.80,702.59 L473.02,701.51 L473.24,703.41 L473.46,702.63 L473.68,702.92 L473.90,701.64 L474.12,704.52 L474.34,705.19 L474.56,703.35 L474.78,704.47 L475.00,702.65 L475.22,703.23 L475.44,701.79 L475.66,702.61 L475.88,704.04 L476.10,702.20 L476.32,705.38 L476.54,705.35 L476.76,703.99 L476.98,705.37 L477.20,703.33 L477.42,703.17 L477.64,702.40 L477.86,704.84 L478.08,704.06 L478.30,706.92 L478.52,706.19 L478.74,704.90 L478.96,704.71 L479.18,705.30 L479.40,703.25 L479.62,705.20 L479.84,707.01 L480.06,704.75 L480.28,704.14 L480.50,705.75 L480.72,704.62 L480.94,705.31 L481.16,705.13 L481.38,704.78 L481.60,705.32 L481.82,704.93 L482.04,706.52 L482.26,703.92 L482.48,707.16 L482.70,705.14 L482.92,707.70 L483.14,705.59 L483.36,705.45 L483.58,706.92 L483.80,704.72 L484.02,703.80 L484.24,704.10 L484.46,705.96 L484.68,705.35 L484.90,706.98 L485.12,705.37 L485.34,705.05 L485.56,707.70 L485.78,706.52 L486.00,704.40 L486.22,706.55 L486.44,705.28 L486.66,706.49 L486.88,707.05 L487.10,705.58 L487.32,703.61 L487.54,706.29 L487.76,706.44 L487.98,705.30 L488.20,704.63 L488.42,704.88 L488.64,704.40 L488.86,704.92 L489.08,705.44 L489.30,706.34 L489.52,706.03 L489.74,705.71 L489.96,705.76 L490.18,705.97 L490.40,706.74 L490.62,706.74 L490.84,705.83 L491.06,705.83 L491.28,705.97 L491.50,705.20 L491.72,703.42 L491.94,707.70 L492.16,707.04 L492.38,706.53 L492.60,706.84 L492.82,706.34 L493.04,706.86 L493.26,706.20 L493.48,704.50 L493.70,705.28 L493.92,706.66 L494.14,707.53 L494.36,705.32 L494.58,707.42 L494.80,706.16 L495.02,704.77 L495.24,706.29 L495.46,705.78 L495.68,707.70 L495.90,706.47 L496.12,706.48 L496.34,707.60 L496.56,707.50 L496.78,706.00 L497.00,705.66 L497.22,706.24 L497.44,706.93 L497.66,706.15 L497.88,706.28 L498.10,707.33 L498.32,707.63 L498.54,706.10 L498.76,705.53 L498.98,705.73 L499.20,705.81 L499.42,706.90 L499.64,706.19 L499.86,705.75 L500.08,706.97 L500.30,707.12 L500.52,705.29 L500.74,707.42 L500.96,706.88 L501.18,705.89 L501.40,705.97 L501.62,706.36 L501.84,706.70 L502.06,706.71 L502.28,706.06 L502.50,706.80 L502.72,705.41 L502.94,704.90 L503.16,707.70 L503.38,705.99 L503.60,705.79 L503.82,706.92 L504.04,705.23 L504.26,707.11 L504.48,706.08 L504.70,705.77 L504.92,705.43 L505.14,705.67 L505.36,704.73 L505.58,706.97 L505.80,706.75 L506.02,706.87 L506.24,706.76 L506.46,706.74 L506.68,707.25 L506.90,705.82 L507.12,707.69 L507.34,706.58 L507.56,706.52 L507.78,706.02 L508.00,705.19 L508.22,706.76 L508.44,706.54 L508.66,706.38 L508.88,705.94" fill="none" stroke="#464646" stroke-width="0.6" stroke-linejoin="round"/>
<path d="M353.00,705.30 L353.35,705.98 L353.70,706.41 L354.05,704.83 L354.40,705.03 L354.75,705.33 L355.10,706.70 L355.45,706.77 L355.80,706.22 L356.15,706.31 L356.50,705.58 L356.85,705.18 L357.20,706.33 L357.55,706.52 L357.90,705.94 L358.25,704.62 L358.60,706.18 L358.95,706.09 L359.30,705.47 L359.65,706.55 L360.00,707.00 L360.35,706.59 L360.70,706.09 L361.05,705.59 L361.40,706.37 L361.75,705.11 L362.10,706.58 L362.45,706.52 L362.80,706.05 L363.15,706.69 L363.50,705.66 L363.85,706.57 L364.20,706.34 L364.55,705.95 L364.90,706.51 L365.25,705.54 L365.60,705.77 L365.95,704.91 L366.30,706.04 L366.65,706.42 L367.00,706.49 L367.35,706.29 L367.70,706.47 L368.05,706.64 L368.40,704.97 L368.75,705.74 L369.10,705.41 L369.45,705.72 L369.80,706.11 L370.15,706.71 L370.50,705.69 L370.85,705.50 L371.20,704.56 L371.55,706.83 L371.90,705.61 L372.25,706.92 L372.60,706.31 L372.95,705.57 L373.30,704.91 L373.65,705.57 L374.00,705.87 L374.35,706.01 L374.70,706.47 L375.05,705.15 L375.40,705.70 L375.75,705.78 L376.10,706.73 L376.45,706.37 L376.80,706.03 L377.15,705.87 L377.50,705.17 L377.85,706.02 L378.20,704.36 L378.55,704.99 L378.90,705.37 L379.25,706.20 L379.60,706.24 L379.95,706.25 L380.30,706.45 L380.65,705.52 L381.00,705.76 L381.35,705.29 L381.70,706.17 L382.05,705.16 L382.40,706.20 L382.75,707.70 L383.10,707.20 L383.45,705.74 L383.80,705.43 L384.15,706.21 L384.50,705.65 L384.85,705.70 L385.20,707.39 L385.55,705.38 L385.90,706.17 L386.25,705.85 L386.60,707.01 L386.95,706.25 L387.30,705.53 L387.65,706.78 L388.00,706.15 L388.35,705.34 L388.70,705.48 L389.05,704.71 L389.40,705.63 L389.75,705.97 L390.10,705.71 L390.45,705.40 L390.80,705.94 L391.15,705.69 L391.50,706.02 L391.85,706.34 L392.20,706.01 L392.55,705.49 L392.90,705.38 L393.25,706.19 L393.60,704.77 L393.95,706.11 L394.30,706.06 L394.65,703.56 L395.00,704.82 L395.35,705.79 L395.70,704.84 L396.05,706.34 L396.40,706.45 L396.75,706.01 L397.10,705.90 L397.45,706.17 L397.80,706.35 L398.15,706.20 L398.50,705.95 L398.85,706.18 L399.20,706.09 L399.55,705.08 L399.90,706.65 L400.25,704.20 L400.60,705.67 L400.95,704.50 L401.30,705.35 L401.65,705.22 L402.00,705.45 L402.35,705.15 L402.70,705.29 L403.05,706.36 L403.40,703.54 L403.75,701.09 L404.10,704.84 L404.45,703.98 L404.80,702.07 L405.15,701.69 L405.50,700.75 L405.85,700.96 L406.20,699.79 L406.55,701.48 L406.90,700.63 L407.25,700.22 L407.60,698.70 L407.95,700.79 L408.30,701.40 L408.65,698.13 L409.00,696.84 L409.35,696.89 L409.70,695.16 L410.05,695.99 L410.40,695.23 L410.75,696.17 L411.10,695.30 L411.45,695.75 L411.80,692.80 L412.15,689.87 L412.50,695.20 L412.85,694.88 L413.20,691.25 L413.55,691.06 L413.90,695.24 L414.25,692.59 L414.60,688.68 L414.95,686.27 L415.30,688.50 L415.65,687.90 L416.00,688.08 L416.35,687.14 L416.70,690.16 L417.05,683.88 L417.40,681.11 L417.75,682.35 L418.10,681.51 L418.45,680.38 L418.80,680.62 L419.15,681.06 L419.50,678.20 L419.85,679.59 L420.20,677.21 L420.55,670.97 L420.90,675.24 L421.25,675.18 L421.60,675.98 L421.95,671.81 L422.30,676.34 L422.65,667.72 L423.00,668.72 L423.35,668.81 L423.70,673.68 L424.05,670.64 L424.40,669.06 L424.75,672.08 L425.10,664.14 L425.45,666.11 L425.80,667.72 L426.15,665.75 L426.50,661.07 L426.85,665.39 L427.20,667.15 L427.55,668.61 L427.90,666.93 L428.25,661.14 L428.60,664.55 L428.95,663.56 L429.30,666.48 L429.65,662.02 L430.00,665.88 L430.35,663.79 L430.70,664.48 L431.05,655.03 L431.40,662.34 L431.75,665.61 L432.10,663.64 L432.45,666.68 L432.80,661.87 L433.15,664.58 L433.50,667.68 L433.85,667.44 L434.20,663.45 L434.55,665.60 L434.90,662.30 L435.25,665.64 L435.60,660.87 L435.95,660.31 L436.30,663.36 L436.65,659.97 L437.00,664.84 L437.35,661.73 L437.70,659.30 L438.05,662.93 L438.40,664.00 L438.75,664.42 L439.10,660.26 L439.45,658.92 L439.80,662.00 L440.15,661.80 L440.50,660.24 L440.85,657.96 L441.20,659.90 L441.55,665.56 L441.90,663.11 L442.25,660.57 L442.60,656.87 L442.95,659.01 L443.30,663.65 L443.65,665.97 L444.00,668.79 L444.35,659.23 L444.70,662.12 L445.05,661.24 L445.40,661.02 L445.75,661.07 L446.10,668.12 L446.45,663.58 L446.80,665.11 L447.15,673.17 L447.50,670.47 L447.85,665.44 L448.20,663.03 L448.55,668.43 L448.90,668.67 L449.25,666.92 L449.60,674.10 L449.95,669.57 L450.30,669.59 L450.65,672.65 L451.00,674.91 L451.35,673.88 L451.70,674.08 L452.05,672.59 L452.40,675.38 L452.75,671.05 L453.10,677.57 L453.45,676.09 L453.80,675.93 L454.15,679.11 L454.50,679.01 L454.85,676.33 L455.20,679.14 L455.55,678.55 L455.90,682.78 L456.25,681.77 L456.60,681.35 L456.95,683.65 L457.30,683.24 L457.65,683.61 L458.00,684.89 L458.35,685.31 L458.70,689.76 L459.05,687.43 L459.40,693.12 L459.75,690.64 L460.10,688.32 L460.45,689.19 L460.80,691.25 L461.15,689.99 L461.50,688.78 L461.85,690.87 L462.20,694.77 L462.55,692.60 L462.90,691.40 L463.25,694.30 L463.60,696.01 L463.95,697.11 L464.30,695.92 L464.65,695.73 L465.00,693.87 L465.35,697.16 L465.70,697.00 L466.05,698.15 L466.40,697.64 L466.75,697.27 L467.10,699.13 L467.45,699.21 L467.80,698.38 L468.15,697.28 L468.50,699.40 L468.85,697.70 L469.20,698.77 L469.55,700.73 L469.90,700.43 L470.25,700.12 L470.60,701.93 L470.95,700.23 L471.30,700.61 L471.65,702.32 L472.00,701.83 L472.35,702.09 L472.70,702.40 L473.05,702.48 L473.40,702.23 L473.75,703.46 L474.10,703.96 L474.45,703.10 L474.80,702.38 L475.15,702.63 L475.50,705.88 L475.85,705.95 L476.20,702.55 L476.55,702.68 L476.90,704.28 L477.25,705.04 L477.60,704.85 L477.95,704.08 L478.30,704.05 L478.65,703.61 L479.00,704.49 L479.35,705.48 L479.70,704.36 L480.05,703.70 L480.40,704.52 L480.75,705.35 L481.10,705.30 L481.45,704.72 L481.80,704.71 L482.15,706.37 L482.50,704.43 L482.85,705.43 L483.20,705.03 L483.55,705.06 L483.90,704.58 L484.25,705.24 L484.60,705.48 L484.95,703.96 L485.30,705.80 L485.65,705.34 L486.00,705.31 L486.35,704.38 L486.70,706.14 L487.05,706.77 L487.40,704.68 L487.75,705.22 L488.10,705.65 L488.45,706.17 L488.80,706.21 L489.15,705.53 L489.50,705.65 L489.85,705.32 L490.20,705.57 L490.55,705.76 L490.90,706.38 L491.25,705.68 L491.60,705.84 L491.95,704.02 L492.30,705.02 L492.65,705.61 L493.00,706.87 L493.35,706.58 L493.70,706.12 L494.05,706.11 L494.40,706.12 L494.75,706.32 L495.10,705.09 L495.45,706.71 L495.80,706.18 L496.15,705.48 L496.50,705.42 L496.85,706.56 L497.20,706.56 L497.55,707.30 L497.90,705.18 L498.25,705.56 L498.60,706.69 L498.95,705.10 L499.30,706.52 L499.65,706.40 L500.00,706.64 L500.35,706.79 L500.70,706.27 L501.05,706.53 L501.40,706.72 L501.75,706.59 L502.10,705.97 L502.45,705.83 L502.80,706.64 L503.15,706.85 L503.50,706.40 L503.85,706.12 L504.20,705.06 L504.55,706.79 L504.90,705.32 L505.25,706.03 L505.60,706.76 L505.95,705.30 L506.30,705.41 L506.65,707.34 L507.00,705.75 L507.35,706.26 L507.70,707.70 L508.05,706.80 L508.40,705.41 L508.75,706.16" fill="none" stroke="#000" stroke-width="0.75" stroke-linejoin="round"/>
<path d="M353.9,708 V602" stroke="#9a9a9a" stroke-width="1" fill="none"/>
<path d="M353,563 H509 V708" fill="none" stroke="#b4b4b4" stroke-width="1.3"/>
<path d="M353,563 V708 H509" fill="none" stroke="#8c8c8c" stroke-width="1.6"/>
<text x="350.90" y="708.00" font-size="9.2" text-anchor="middle" fill="#000" transform="rotate(-90 350.90 708.00)" class="t">0</text>
<text x="350.90" y="679.00" font-size="9.2" text-anchor="middle" fill="#000" transform="rotate(-90 350.90 679.00)" class="t">20</text>
<text x="350.90" y="650.00" font-size="9.2" text-anchor="middle" fill="#000" transform="rotate(-90 350.90 650.00)" class="t">40</text>
<text x="350.90" y="621.00" font-size="9.2" text-anchor="middle" fill="#000" transform="rotate(-90 350.90 621.00)" class="t">60</text>
<text x="350.90" y="592.00" font-size="9.2" text-anchor="middle" fill="#000" transform="rotate(-90 350.90 592.00)" class="t">80</text>
<text x="350.90" y="563.00" font-size="9.2" text-anchor="middle" fill="#000" transform="rotate(-90 350.90 563.00)" class="t">100</text>
<text x="337.60" y="635.50" font-size="9.8" text-anchor="middle" fill="#000" transform="rotate(-90 337.60 635.50)" class="t">Counts</text>
<text x="353.00" y="719.70" font-size="9.0" text-anchor="middle" textLength="14.60" lengthAdjust="spacingAndGlyphs" fill="#000" class="t">10<tspan font-size="8.2" dy="-4.0">0</tspan></text>
<text x="392.00" y="719.70" font-size="9.0" text-anchor="middle" textLength="14.60" lengthAdjust="spacingAndGlyphs" fill="#000" class="t">10<tspan font-size="8.2" dy="-4.0">1</tspan></text>
<text x="431.00" y="719.70" font-size="9.0" text-anchor="middle" textLength="14.60" lengthAdjust="spacingAndGlyphs" fill="#000" class="t">10<tspan font-size="8.2" dy="-4.0">2</tspan></text>
<text x="470.00" y="719.70" font-size="9.0" text-anchor="middle" textLength="14.60" lengthAdjust="spacingAndGlyphs" fill="#000" class="t">10<tspan font-size="8.2" dy="-4.0">3</tspan></text>
<text x="509.00" y="719.70" font-size="9.0" text-anchor="middle" textLength="14.60" lengthAdjust="spacingAndGlyphs" fill="#000" class="t">10<tspan font-size="8.2" dy="-4.0">4</tspan></text>
<text x="422.40" y="731.20" font-size="10" textLength="25.30" lengthAdjust="spacingAndGlyphs" fill="#000" class="t">CD99</text>
<text x="366.40" y="580.00" font-size="10.4" textLength="49.30" lengthAdjust="spacingAndGlyphs" fill="#000" class="t">Gr-1<tspan font-size="8.4" dy="-4.4">+</tspan><tspan dy="4.4"> cells</tspan></text>
<path d="M154.50,887.43 L154.72,885.07 L154.94,884.68 L155.16,883.50 L155.38,883.35 L155.60,889.50 L155.82,885.14 L156.04,884.82 L156.26,885.84 L156.48,884.47 L156.70,881.85 L156.92,881.29 L157.14,883.50 L157.36,880.93 L157.58,883.58 L157.80,880.21 L158.02,878.81 L158.24,879.58 L158.46,877.74 L158.68,878.75 L158.90,873.59 L159.12,876.39 L159.34,879.96 L159.56,875.19 L159.78,879.60 L160.00,879.82 L160.22,873.05 L160.44,875.76 L160.66,871.67 L160.88,871.86 L161.10,869.30 L161.32,871.85 L161.54,872.50 L161.76,871.23 L161.98,869.73 L162.20,865.99 L162.42,866.91 L162.64,867.75 L162.86,866.91 L163.08,862.94 L163.30,866.87 L163.52,867.97 L163.74,862.79 L163.96,865.00 L164.18,861.30 L164.40,856.13 L164.62,858.18 L164.84,862.64 L165.06,856.22 L165.28,854.89 L165.50,851.96 L165.72,850.37 L165.94,863.08 L166.16,854.72 L166.38,850.25 L166.60,854.37 L166.82,845.36 L167.04,845.59 L167.26,846.66 L167.48,839.21 L167.70,849.36 L167.92,847.49 L168.14,842.33 L168.36,837.88 L168.58,840.25 L168.80,830.44 L169.02,829.43 L169.24,828.45 L169.46,830.50 L169.68,831.57 L169.90,827.01 L170.12,828.57 L170.34,825.85 L170.56,819.54 L170.78,817.68 L171.00,829.36 L171.22,819.87 L171.44,815.86 L171.66,816.55 L171.88,813.27 L172.10,815.84 L172.32,802.39 L172.54,809.21 L172.76,818.94 L172.98,813.44 L173.20,805.78 L173.42,807.51 L173.64,807.10 L173.86,804.93 L174.08,805.55 L174.30,800.70 L174.52,804.19 L174.74,803.96 L174.96,794.24 L175.18,803.69 L175.40,792.98 L175.62,800.22 L175.84,805.54 L176.06,798.60 L176.28,805.04 L176.50,807.14 L176.72,804.54 L176.94,804.30 L177.16,804.88 L177.38,803.66 L177.60,804.31 L177.82,793.94 L178.04,814.60 L178.26,808.19 L178.48,797.03 L178.70,819.12 L178.92,818.55 L179.14,808.88 L179.36,817.83 L179.58,818.73 L179.80,807.71 L180.02,803.17 L180.24,807.28 L180.46,815.05 L180.68,810.27 L180.90,818.64 L181.12,813.45 L181.34,806.75 L181.56,815.32 L181.78,820.16 L182.00,826.50 L182.22,819.02 L182.44,822.89 L182.66,829.41 L182.88,827.67 L183.10,831.15 L183.32,831.48 L183.54,838.50 L183.76,835.11 L183.98,842.43 L184.20,839.07 L184.42,849.16 L184.64,845.13 L184.86,847.89 L185.08,848.17 L185.30,851.68 L185.52,861.67 L185.74,858.34 L185.96,856.28 L186.18,856.40 L186.40,855.67 L186.62,866.65 L186.84,866.50 L187.06,865.57 L187.28,869.80 L187.50,870.75 L187.72,870.60 L187.94,876.37 L188.16,876.30 L188.38,878.96 L188.60,881.57 L188.82,880.01 L189.04,874.90 L189.26,880.37 L189.48,883.67 L189.70,886.21 L189.92,887.94 L190.14,889.05 L190.36,884.81 L190.58,887.48 L190.80,888.81 L191.02,891.49 L191.24,888.92 L191.46,887.33 L191.68,888.49 L191.90,889.63 L192.12,889.92 L192.34,891.31 L192.56,892.31 L192.78,890.88 L193.00,893.65 L193.22,892.23 L193.44,892.28 L193.66,892.34 L193.88,892.56 L194.10,891.72 L194.32,893.02 L194.54,892.33 L194.76,891.56 L194.98,891.34" fill="none" stroke="#464646" stroke-width="0.6" stroke-linejoin="round"/>
<path d="M187.60,890.71 L187.95,890.86 L188.30,888.49 L188.65,890.09 L189.00,891.06 L189.35,889.21 L189.70,891.13 L190.05,890.80 L190.40,888.63 L190.75,890.00 L191.10,889.84 L191.45,891.01 L191.80,889.35 L192.15,885.98 L192.50,889.40 L192.85,889.81 L193.20,888.97 L193.55,889.54 L193.90,886.83 L194.25,890.69 L194.60,888.83 L194.95,886.64 L195.30,887.58 L195.65,888.33 L196.00,889.26 L196.35,887.36 L196.70,891.41 L197.05,887.40 L197.40,887.30 L197.75,886.52 L198.10,887.78 L198.45,890.02 L198.80,886.74 L199.15,887.13 L199.50,888.33 L199.85,884.95 L200.20,888.50 L200.55,888.25 L200.90,888.81 L201.25,888.74 L201.60,888.41 L201.95,887.26 L202.30,885.42 L202.65,886.99 L203.00,884.50 L203.35,886.13 L203.70,885.62 L204.05,886.38 L204.40,886.51 L204.75,884.52 L205.10,885.10 L205.45,884.60 L205.80,880.86 L206.15,883.09 L206.50,879.57 L206.85,884.42 L207.20,880.82 L207.55,881.11 L207.90,882.65 L208.25,882.73 L208.60,885.65 L208.95,880.67 L209.30,886.24 L209.65,885.13 L210.00,881.81 L210.35,883.57 L210.70,884.08 L211.05,882.81 L211.40,879.53 L211.75,880.40 L212.10,881.84 L212.45,882.75 L212.80,882.20 L213.15,880.44 L213.50,880.57 L213.85,880.08 L214.20,880.00 L214.55,877.21 L214.90,874.24 L215.25,879.69 L215.60,875.08 L215.95,877.74 L216.30,876.47 L216.65,880.59 L217.00,876.03 L217.35,876.14 L217.70,875.94 L218.05,881.48 L218.40,878.92 L218.75,876.22 L219.10,877.83 L219.45,878.26 L219.80,880.80 L220.15,872.32 L220.50,873.18 L220.85,872.31 L221.20,871.40 L221.55,873.95 L221.90,874.17 L222.25,874.95 L222.60,870.12 L222.95,874.82 L223.30,871.25 L223.65,866.81 L224.00,869.98 L224.35,869.72 L224.70,865.37 L225.05,861.80 L225.40,866.83 L225.75,868.43 L226.10,859.48 L226.45,865.02 L226.80,863.25 L227.15,864.33 L227.50,854.74 L227.85,857.52 L228.20,861.16 L228.55,854.39 L228.90,855.13 L229.25,858.60 L229.60,855.86 L229.95,850.73 L230.30,852.89 L230.65,854.78 L231.00,849.56 L231.35,853.05 L231.70,857.62 L232.05,848.31 L232.40,853.96 L232.75,850.65 L233.10,855.13 L233.45,853.73 L233.80,849.62 L234.15,855.21 L234.50,845.12 L234.85,853.81 L235.20,844.07 L235.55,843.83 L235.90,842.57 L236.25,847.25 L236.60,842.74 L236.95,842.80 L237.30,843.81 L237.65,843.09 L238.00,846.13 L238.35,843.11 L238.70,842.38 L239.05,844.78 L239.40,847.27 L239.75,840.16 L240.10,838.72 L240.45,835.98 L240.80,843.36 L241.15,846.35 L241.50,842.71 L241.85,842.01 L242.20,835.98 L242.55,840.02 L242.90,840.81 L243.25,844.16 L243.60,841.92 L243.95,829.24 L244.30,838.22 L244.65,842.43 L245.00,840.49 L245.35,852.21 L245.70,845.19 L246.05,850.30 L246.40,859.34 L246.75,853.52 L247.10,844.21 L247.45,854.49 L247.80,855.71 L248.15,856.22 L248.50,859.38 L248.85,861.21 L249.20,854.58 L249.55,864.23 L249.90,864.94 L250.25,860.70 L250.60,870.65 L250.95,873.73 L251.30,866.50 L251.65,869.84 L252.00,867.99 L252.35,871.29 L252.70,874.39 L253.05,876.84 L253.40,878.41 L253.75,881.66 L254.10,877.93 L254.45,876.50 L254.80,874.23 L255.15,880.40 L255.50,883.28 L255.85,881.94 L256.20,880.30 L256.55,886.65 L256.90,886.84 L257.25,885.03 L257.60,886.63 L257.95,885.79 L258.30,884.58 L258.65,886.73 L259.00,885.86 L259.35,888.66 L259.70,885.26 L260.05,889.76 L260.40,888.04 L260.75,889.75 L261.10,889.40 L261.45,891.65 L261.80,887.55 L262.15,891.41 L262.50,890.85 L262.85,890.41 L263.20,891.20 L263.55,889.94 L263.90,889.94 L264.25,889.75 L264.60,893.62 L264.95,893.38 L265.30,891.89 L265.65,891.80 L266.00,889.99 L266.35,893.21 L266.70,891.90 L267.05,893.15 L267.40,892.17 L267.75,891.99 L268.10,891.38 L268.45,892.88 L268.80,891.37 L269.15,890.48 L269.50,893.31 L269.85,892.00 L270.20,891.55 L270.55,892.23 L270.90,892.72 L271.25,893.56 L271.60,892.39 L271.95,891.91 L272.30,892.25 L272.65,893.70 L273.00,892.98 L273.35,890.84 L273.70,891.94 L274.05,892.67 L274.40,889.89 L274.75,893.49 L275.10,890.94 L275.45,890.18 L275.80,893.05 L276.15,892.17 L276.50,891.86 L276.85,891.19 L277.20,893.22 L277.55,893.27 L277.90,893.70 L278.25,893.70 L278.60,892.19 L278.95,892.20 L279.30,892.16 L279.65,892.43 L280.00,892.72 L280.35,891.54 L280.70,892.10" fill="none" stroke="#000" stroke-width="0.75" stroke-linejoin="round"/>
<path d="M154.9,894 V837" stroke="#9a9a9a" stroke-width="1" fill="none"/>
<path d="M154,752 H312 V894" fill="none" stroke="#b4b4b4" stroke-width="1.3"/>
<path d="M154,752 V894 H312" fill="none" stroke="#8c8c8c" stroke-width="1.6"/>
<text x="151.00" y="894.00" font-size="9.2" text-anchor="middle" fill="#000" transform="rotate(-90 151.00 894.00)" class="t">0</text>
<text x="151.00" y="870.33" font-size="9.2" text-anchor="middle" fill="#000" transform="rotate(-90 151.00 870.33)" class="t">10</text>
<text x="151.00" y="846.67" font-size="9.2" text-anchor="middle" fill="#000" transform="rotate(-90 151.00 846.67)" class="t">20</text>
<text x="151.00" y="823.00" font-size="9.2" text-anchor="middle" fill="#000" transform="rotate(-90 151.00 823.00)" class="t">30</text>
<text x="151.00" y="799.33" font-size="9.2" text-anchor="middle" fill="#000" transform="rotate(-90 151.00 799.33)" class="t">40</text>
<text x="151.00" y="775.67" font-size="9.2" text-anchor="middle" fill="#000" transform="rotate(-90 151.00 775.67)" class="t">50</text>
<text x="151.00" y="752.00" font-size="9.2" text-anchor="middle" fill="#000" transform="rotate(-90 151.00 752.00)" class="t">60</text>
<text x="138.20" y="823.00" font-size="9.8" text-anchor="middle" fill="#000" transform="rotate(-90 138.20 823.00)" class="t">Counts</text>
<text x="154.00" y="905.80" font-size="8.6" text-anchor="middle" textLength="15.00" lengthAdjust="spacingAndGlyphs" fill="#000" class="t">10<tspan font-size="7.9" dy="-4.1">0</tspan></text>
<text x="193.50" y="905.80" font-size="8.6" text-anchor="middle" textLength="15.00" lengthAdjust="spacingAndGlyphs" fill="#000" class="t">10<tspan font-size="7.9" dy="-4.1">1</tspan></text>
<text x="233.00" y="905.80" font-size="8.6" text-anchor="middle" textLength="15.00" lengthAdjust="spacingAndGlyphs" fill="#000" class="t">10<tspan font-size="7.9" dy="-4.1">2</tspan></text>
<text x="272.50" y="905.80" font-size="8.6" text-anchor="middle" textLength="15.00" lengthAdjust="spacingAndGlyphs" fill="#000" class="t">10<tspan font-size="7.9" dy="-4.1">3</tspan></text>
<text x="312.00" y="905.80" font-size="8.6" text-anchor="middle" textLength="15.00" lengthAdjust="spacingAndGlyphs" fill="#000" class="t">10<tspan font-size="7.9" dy="-4.1">4</tspan></text>
<text x="208.10" y="917.60" font-size="10" textLength="36.10" lengthAdjust="spacingAndGlyphs" fill="#000" class="t">CD99L2</text>
<text x="167.20" y="769.60" font-size="10.4" textLength="55.10" lengthAdjust="spacingAndGlyphs" fill="#000" class="t">CD3ε<tspan font-size="8.4" dy="-4.4">+</tspan><tspan dy="4.4"> cells</tspan></text>
<path d="M353.50,887.87 L353.72,883.69 L353.94,884.14 L354.16,885.04 L354.38,883.27 L354.60,883.58 L354.82,886.56 L355.04,885.27 L355.26,883.96 L355.48,882.43 L355.70,882.35 L355.92,884.92 L356.14,881.51 L356.36,882.25 L356.58,881.77 L356.80,878.56 L357.02,882.03 L357.24,876.64 L357.46,877.92 L357.68,871.32 L357.90,879.19 L358.12,876.57 L358.34,873.01 L358.56,868.55 L358.78,873.71 L359.00,872.54 L359.22,869.70 L359.44,867.62 L359.66,873.75 L359.88,872.78 L360.10,865.05 L360.32,864.95 L360.54,866.59 L360.76,868.91 L360.98,863.08 L361.20,865.72 L361.42,868.45 L361.64,864.22 L361.86,863.83 L362.08,867.34 L362.30,859.92 L362.52,860.87 L362.74,864.08 L362.96,852.52 L363.18,857.85 L363.40,863.21 L363.62,858.05 L363.84,854.04 L364.06,849.86 L364.28,851.94 L364.50,850.32 L364.72,850.53 L364.94,845.27 L365.16,845.98 L365.38,857.76 L365.60,844.18 L365.82,848.04 L366.04,840.90 L366.26,837.66 L366.48,843.18 L366.70,842.63 L366.92,845.30 L367.14,832.78 L367.36,834.69 L367.58,833.54 L367.80,832.04 L368.02,833.38 L368.24,830.11 L368.46,832.22 L368.68,827.63 L368.90,826.96 L369.12,819.58 L369.34,821.54 L369.56,819.92 L369.78,833.59 L370.00,820.26 L370.22,814.87 L370.44,821.21 L370.66,810.83 L370.88,818.07 L371.10,816.16 L371.32,808.72 L371.54,817.26 L371.76,809.37 L371.98,807.77 L372.20,803.77 L372.42,809.43 L372.64,811.58 L372.86,801.97 L373.08,796.50 L373.30,804.23 L373.52,794.08 L373.74,803.28 L373.96,800.05 L374.18,800.42 L374.40,809.01 L374.62,806.26 L374.84,798.46 L375.06,798.23 L375.28,804.37 L375.50,813.03 L375.72,811.73 L375.94,801.77 L376.16,807.17 L376.38,805.89 L376.60,803.99 L376.82,801.06 L377.04,802.97 L377.26,816.22 L377.48,811.06 L377.70,809.64 L377.92,806.60 L378.14,811.58 L378.36,806.52 L378.58,806.36 L378.80,808.55 L379.02,803.75 L379.24,808.74 L379.46,809.95 L379.68,804.76 L379.90,809.21 L380.12,813.10 L380.34,804.48 L380.56,821.20 L380.78,812.68 L381.00,812.85 L381.22,820.27 L381.44,815.70 L381.66,812.69 L381.88,822.46 L382.10,832.45 L382.32,823.70 L382.54,826.19 L382.76,834.62 L382.98,834.02 L383.20,836.43 L383.42,839.09 L383.64,846.31 L383.86,852.26 L384.08,849.84 L384.30,852.83 L384.52,850.99 L384.74,854.15 L384.96,852.60 L385.18,856.72 L385.40,858.42 L385.62,856.58 L385.84,859.83 L386.06,864.30 L386.28,868.08 L386.50,862.36 L386.72,871.41 L386.94,871.49 L387.16,875.65 L387.38,871.98 L387.60,873.40 L387.82,878.80 L388.04,880.86 L388.26,886.31 L388.48,881.56 L388.70,885.11 L388.92,884.83 L389.14,886.56 L389.36,885.48 L389.58,885.50 L389.80,890.53 L390.02,887.75 L390.24,886.61 L390.46,888.15 L390.68,888.90 L390.90,889.96 L391.12,889.88 L391.34,891.18 L391.56,890.66 L391.78,890.03 L392.00,890.98 L392.22,891.84 L392.44,890.38 L392.66,891.32 L392.88,890.76 L393.10,891.74 L393.32,891.93 L393.54,891.31 L393.76,893.64 L393.98,893.34 L394.20,892.30 L394.42,891.47 L394.64,892.54 L394.86,892.07" fill="none" stroke="#464646" stroke-width="0.6" stroke-linejoin="round"/>
<path d="M390.00,892.59 L390.35,893.05 L390.70,891.51 L391.05,892.11 L391.40,892.95 L391.75,892.34 L392.10,892.27 L392.45,892.32 L392.80,892.03 L393.15,892.05 L393.50,893.00 L393.85,893.06 L394.20,892.56 L394.55,893.57 L394.90,891.87 L395.25,892.95 L395.60,893.16 L395.95,893.70 L396.30,892.89 L396.65,892.39 L397.00,893.01 L397.35,892.56 L397.70,892.91 L398.05,893.28 L398.40,892.69 L398.75,892.50 L399.10,892.86 L399.45,892.83 L399.80,892.15 L400.15,891.93 L400.50,893.48 L400.85,893.12 L401.20,892.91 L401.55,892.95 L401.90,893.66 L402.25,892.87 L402.60,892.31 L402.95,893.29 L403.30,893.06 L403.65,893.59 L404.00,893.63 L404.35,892.38 L404.70,892.02 L405.05,891.51 L405.40,893.32 L405.75,890.99 L406.10,893.67 L406.45,891.20 L406.80,892.55 L407.15,892.79 L407.50,893.70 L407.85,892.99 L408.20,891.55 L408.55,892.98 L408.90,891.08 L409.25,892.31 L409.60,891.89 L409.95,892.16 L410.30,891.59 L410.65,893.49 L411.00,892.51 L411.35,891.69 L411.70,891.53 L412.05,892.97 L412.40,893.33 L412.75,892.30 L413.10,892.44 L413.45,892.35 L413.80,893.04 L414.15,893.16 L414.50,893.44 L414.85,893.00 L415.20,892.72 L415.55,891.46 L415.90,893.70 L416.25,891.94 L416.60,893.19 L416.95,891.32 L417.30,892.31 L417.65,892.34 L418.00,892.58 L418.35,892.44 L418.70,891.81 L419.05,892.34 L419.40,893.70 L419.75,892.04 L420.10,892.32 L420.45,892.18 L420.80,893.31 L421.15,892.89 L421.50,891.92 L421.85,892.81 L422.20,893.23 L422.55,892.56 L422.90,893.70 L423.25,892.58 L423.60,893.50 L423.95,892.53 L424.30,893.25 L424.65,892.04 L425.00,891.88 L425.35,893.26 L425.70,892.42 L426.05,891.81 L426.40,893.30 L426.75,892.69 L427.10,892.88 L427.45,891.33 L427.80,892.02 L428.15,892.09 L428.50,893.44 L428.85,893.32 L429.20,892.17 L429.55,891.06 L429.90,892.39 L430.25,893.21 L430.60,891.66 L430.95,892.22 L431.30,892.07 L431.65,893.01 L432.00,892.31 L432.35,891.48 L432.70,893.57 L433.05,893.06 L433.40,893.70 L433.75,892.86 L434.10,892.59 L434.45,892.04 L434.80,893.70 L435.15,893.70 L435.50,890.85 L435.85,891.67 L436.20,891.51 L436.55,891.78 L436.90,892.99 L437.25,892.07 L437.60,893.00 L437.95,892.35 L438.30,893.23 L438.65,893.65 L439.00,893.02 L439.35,892.23 L439.70,893.32 L440.05,892.36 L440.40,892.42 L440.75,893.39 L441.10,892.79 L441.45,892.25 L441.80,893.70 L442.15,892.73 L442.50,893.07 L442.85,891.98 L443.20,893.40 L443.55,892.01 L443.90,892.00 L444.25,892.71 L444.60,893.51 L444.95,892.68 L445.30,893.70 L445.65,892.28 L446.00,892.06 L446.35,891.55 L446.70,891.80 L447.05,892.96 L447.40,891.74 L447.75,893.06 L448.10,891.96 L448.45,893.62 L448.80,891.54 L449.15,892.34 L449.50,891.90 L449.85,891.62 L450.20,892.16 L450.55,892.66 L450.90,893.42 L451.25,891.57 L451.60,893.48 L451.95,891.63 L452.30,893.07 L452.65,892.09 L453.00,891.52 L453.35,892.30 L453.70,892.99 L454.05,892.35 L454.40,893.06 L454.75,893.70 L455.10,891.96 L455.45,893.02 L455.80,893.30 L456.15,892.11 L456.50,892.02 L456.85,891.97 L457.20,891.92 L457.55,892.37 L457.90,893.70 L458.25,892.92 L458.60,893.07 L458.95,890.59 L459.30,892.14 L459.65,892.41 L460.00,893.70 L460.35,892.04 L460.70,892.20 L461.05,893.59 L461.40,893.00 L461.75,891.97 L462.10,893.70 L462.45,892.47 L462.80,893.52 L463.15,892.65 L463.50,891.36 L463.85,891.88 L464.20,892.46 L464.55,892.33 L464.90,892.69 L465.25,893.70 L465.60,892.91 L465.95,891.55 L466.30,892.82 L466.65,892.25 L467.00,892.40 L467.35,890.47 L467.70,892.65 L468.05,893.19 L468.40,891.79 L468.75,891.79 L469.10,892.09 L469.45,891.82 L469.80,893.16 L470.15,892.75 L470.50,892.59 L470.85,891.34 L471.20,892.59 L471.55,893.70 L471.90,892.12 L472.25,890.66 L472.60,892.09 L472.95,891.30 L473.30,890.19 L473.65,891.60 L474.00,891.12 L474.35,891.62 L474.70,890.92 L475.05,893.19 L475.40,890.73 L475.75,889.40 L476.10,888.61 L476.45,888.70 L476.80,887.53 L477.15,889.47 L477.50,887.98 L477.85,890.44 L478.20,887.45 L478.55,885.56 L478.90,886.32 L479.25,884.73 L479.60,885.09 L479.95,885.85 L480.30,884.19 L480.65,881.15 L481.00,883.32 L481.35,879.80 L481.70,880.50 L482.05,879.94 L482.40,879.86 L482.75,879.19 L483.10,876.04 L483.45,875.38 L483.80,874.06 L484.15,870.95 L484.50,872.04 L484.85,870.94 L485.20,868.82 L485.55,865.18 L485.90,862.74 L486.25,860.52 L486.60,856.66 L486.95,858.22 L487.30,852.18 L487.65,848.88 L488.00,851.62 L488.35,848.33 L488.70,849.61 L489.05,840.95 L489.40,844.17 L489.75,846.62 L490.10,837.69 L490.45,838.16 L490.80,835.01 L491.15,831.03 L491.50,829.47 L491.85,830.58 L492.20,823.27 L492.55,818.18 L492.90,824.28 L493.25,817.95 L493.60,807.70 L493.95,807.66 L494.30,807.22 L494.65,803.07 L495.00,796.13 L495.35,788.85 L495.70,796.50 L496.05,784.68 L496.40,792.60 L496.75,789.97 L497.10,786.19 L497.45,789.53 L497.80,789.73 L498.15,786.98 L498.50,790.00 L498.85,790.60 L499.20,796.64 L499.55,793.56 L499.90,789.28 L500.25,790.70 L500.60,791.12 L500.95,799.09 L501.30,800.04 L501.65,797.99 L502.00,801.44 L502.35,803.66 L502.70,805.88 L503.05,813.48 L503.40,814.72 L503.75,823.19 L504.10,827.93 L504.45,835.66 L504.80,840.12 L505.15,845.74 L505.50,851.89 L505.85,851.42 L506.20,856.76 L506.55,868.41 L506.90,865.93 L507.25,869.08 L507.60,874.93 L507.95,880.63 L508.30,882.64 L508.65,884.56 L509.00,885.72 L509.35,887.46 L509.70,889.91" fill="none" stroke="#000" stroke-width="0.75" stroke-linejoin="round"/>
<path d="M353.9,894 V826" stroke="#9a9a9a" stroke-width="1" fill="none"/>
<path d="M353,751.5 H510 V894" fill="none" stroke="#b4b4b4" stroke-width="1.3"/>
<path d="M353,751.5 V894 H510" fill="none" stroke="#8c8c8c" stroke-width="1.6"/>
<text x="350.90" y="894.00" font-size="9.2" text-anchor="middle" fill="#000" transform="rotate(-90 350.90 894.00)" class="t">0</text>
<text x="350.90" y="870.25" font-size="9.2" text-anchor="middle" fill="#000" transform="rotate(-90 350.90 870.25)" class="t">10</text>
<text x="350.90" y="846.50" font-size="9.2" text-anchor="middle" fill="#000" transform="rotate(-90 350.90 846.50)" class="t">20</text>
<text x="350.90" y="822.75" font-size="9.2" text-anchor="middle" fill="#000" transform="rotate(-90 350.90 822.75)" class="t">30</text>
<text x="350.90" y="799.00" font-size="9.2" text-anchor="middle" fill="#000" transform="rotate(-90 350.90 799.00)" class="t">40</text>
<text x="350.90" y="775.25" font-size="9.2" text-anchor="middle" fill="#000" transform="rotate(-90 350.90 775.25)" class="t">50</text>
<text x="350.90" y="751.50" font-size="9.2" text-anchor="middle" fill="#000" transform="rotate(-90 350.90 751.50)" class="t">60</text>
<text x="337.60" y="822.75" font-size="9.8" text-anchor="middle" fill="#000" transform="rotate(-90 337.60 822.75)" class="t">Counts</text>
<text x="353.00" y="905.00" font-size="8.6" text-anchor="middle" textLength="15.00" lengthAdjust="spacingAndGlyphs" fill="#000" class="t">10<tspan font-size="7.9" dy="-4.1">0</tspan></text>
<text x="392.25" y="905.00" font-size="8.6" text-anchor="middle" textLength="15.00" lengthAdjust="spacingAndGlyphs" fill="#000" class="t">10<tspan font-size="7.9" dy="-4.1">1</tspan></text>
<text x="431.50" y="905.00" font-size="8.6" text-anchor="middle" textLength="15.00" lengthAdjust="spacingAndGlyphs" fill="#000" class="t">10<tspan font-size="7.9" dy="-4.1">2</tspan></text>
<text x="470.75" y="905.00" font-size="8.6" text-anchor="middle" textLength="15.00" lengthAdjust="spacingAndGlyphs" fill="#000" class="t">10<tspan font-size="7.9" dy="-4.1">3</tspan></text>
<text x="510.00" y="905.00" font-size="8.6" text-anchor="middle" textLength="15.00" lengthAdjust="spacingAndGlyphs" fill="#000" class="t">10<tspan font-size="7.9" dy="-4.1">4</tspan></text>
<text x="420.20" y="916.40" font-size="10" textLength="25.00" lengthAdjust="spacingAndGlyphs" fill="#000" class="t">CD99</text>
<text x="372.10" y="768.80" font-size="10.4" textLength="54.80" lengthAdjust="spacingAndGlyphs" fill="#000" class="t">CD3ε<tspan font-size="8.4" dy="-4.4">+</tspan><tspan dy="4.4"> cells</tspan></text>
</svg></body></html>
